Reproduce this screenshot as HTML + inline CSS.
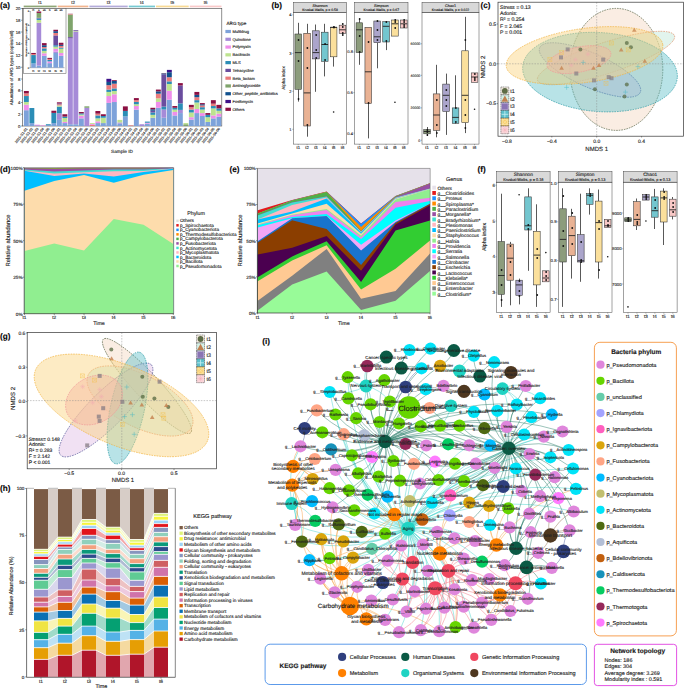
<!DOCTYPE html>
<html><head><meta charset="utf-8"><style>
html,body{margin:0;padding:0;background:#fff;}
svg{display:block;font-family:"Liberation Sans", sans-serif;text-rendering:geometricPrecision;}
text{stroke:#2a2a2a;stroke-width:0.13px;}
</style></head><body>
<svg width="685" height="688" viewBox="0 0 685 688">
<text x="0" y="7.6" font-size="8.2" font-weight="bold">(a)</text>
<rect x="23.7" y="5.6" width="32.9" height="1.7" fill="#8fa677"/>
<text x="40.15" y="4.3" font-size="4.4" text-anchor="middle" fill="#333">t1</text>
<rect x="57.7" y="5.6" width="30.6" height="1.7" fill="#f1b48e"/>
<text x="73" y="4.3" font-size="4.4" text-anchor="middle" fill="#333">t2</text>
<rect x="89.4" y="5.6" width="38.3" height="1.7" fill="#b3abd9"/>
<text x="108.55" y="4.3" font-size="4.4" text-anchor="middle" fill="#333">t3</text>
<rect x="128.8" y="5.6" width="26.2" height="1.7" fill="#76c9d1"/>
<text x="141.9" y="4.3" font-size="4.4" text-anchor="middle" fill="#333">t4</text>
<rect x="156" y="5.6" width="32.7" height="1.7" fill="#f8d994"/>
<text x="172.35" y="4.3" font-size="4.4" text-anchor="middle" fill="#333">t5</text>
<rect x="189.8" y="5.6" width="31.7" height="1.7" fill="#f9c9c9"/>
<text x="205.65" y="4.3" font-size="4.4" text-anchor="middle" fill="#333">t6</text>
<rect x="22.5" y="8.5" width="199.3" height="117.5" fill="none" stroke="#444" stroke-width="0.6"/>
<line x1="20.8" y1="126" x2="22.5" y2="126" stroke="#444" stroke-width="0.5"/>
<text x="20.3" y="127.5" font-size="4.2" text-anchor="end" fill="#333">0</text>
<line x1="20.8" y1="114.25" x2="22.5" y2="114.25" stroke="#444" stroke-width="0.5"/>
<text x="20.3" y="115.75" font-size="4.2" text-anchor="end" fill="#333">2</text>
<line x1="20.8" y1="102.5" x2="22.5" y2="102.5" stroke="#444" stroke-width="0.5"/>
<text x="20.3" y="104" font-size="4.2" text-anchor="end" fill="#333">4</text>
<line x1="20.8" y1="90.75" x2="22.5" y2="90.75" stroke="#444" stroke-width="0.5"/>
<text x="20.3" y="92.25" font-size="4.2" text-anchor="end" fill="#333">6</text>
<line x1="20.8" y1="79" x2="22.5" y2="79" stroke="#444" stroke-width="0.5"/>
<text x="20.3" y="80.5" font-size="4.2" text-anchor="end" fill="#333">8</text>
<line x1="20.8" y1="67.25" x2="22.5" y2="67.25" stroke="#444" stroke-width="0.5"/>
<text x="20.3" y="68.75" font-size="4.2" text-anchor="end" fill="#333">10</text>
<line x1="20.8" y1="55.5" x2="22.5" y2="55.5" stroke="#444" stroke-width="0.5"/>
<text x="20.3" y="57" font-size="4.2" text-anchor="end" fill="#333">12</text>
<line x1="20.8" y1="43.75" x2="22.5" y2="43.75" stroke="#444" stroke-width="0.5"/>
<text x="20.3" y="45.25" font-size="4.2" text-anchor="end" fill="#333">14</text>
<line x1="20.8" y1="32" x2="22.5" y2="32" stroke="#444" stroke-width="0.5"/>
<text x="20.3" y="33.5" font-size="4.2" text-anchor="end" fill="#333">16</text>
<line x1="20.8" y1="20.25" x2="22.5" y2="20.25" stroke="#444" stroke-width="0.5"/>
<text x="20.3" y="21.75" font-size="4.2" text-anchor="end" fill="#333">18</text>
<line x1="20.8" y1="8.5" x2="22.5" y2="8.5" stroke="#444" stroke-width="0.5"/>
<text x="20.3" y="10" font-size="4.2" text-anchor="end" fill="#333">20</text>
<text x="0" y="0" font-size="4.45" text-anchor="middle" fill="#222" transform="translate(13.3,67.8) rotate(-90)">Abundance of ARG types (copies/cell)</text>
<rect x="23.9" y="110.2" width="4.9" height="15.8" fill="#7da2da"/>
<rect x="23.9" y="104.67" width="4.9" height="5.52" fill="#ee8eea"/>
<rect x="23.9" y="101.97" width="4.9" height="2.7" fill="#bde38f"/>
<rect x="23.9" y="96.04" width="4.9" height="5.93" fill="#2b8db6"/>
<rect x="23.9" y="93.39" width="4.9" height="2.64" fill="#ea7b7b"/>
<rect x="23.9" y="90.98" width="4.9" height="2.41" fill="#8b1042"/>
<rect x="29.4" y="123.06" width="4.9" height="2.94" fill="#7da2da"/>
<rect x="29.4" y="108.02" width="4.9" height="15.04" fill="#2b8db6"/>
<rect x="34.9" y="125.3" width="4.9" height="0.7" fill="#a68bd8"/>
<rect x="34.9" y="124.71" width="4.9" height="0.59" fill="#ee8eea"/>
<rect x="40.4" y="125.41" width="4.9" height="0.59" fill="#ee8eea"/>
<rect x="45.9" y="125.12" width="4.9" height="0.88" fill="#7da2da"/>
<rect x="45.9" y="124.24" width="4.9" height="0.88" fill="#2b8db6"/>
<rect x="51.4" y="123.06" width="4.9" height="2.94" fill="#7da2da"/>
<rect x="51.4" y="112.9" width="4.9" height="10.16" fill="#2b8db6"/>
<rect x="51.4" y="110.72" width="4.9" height="2.17" fill="#8b1042"/>
<rect x="56.9" y="119.89" width="4.9" height="6.11" fill="#7da2da"/>
<rect x="56.9" y="113.31" width="4.9" height="6.58" fill="#a68bd8"/>
<rect x="56.9" y="106.61" width="4.9" height="6.7" fill="#2b8db6"/>
<rect x="56.9" y="105.44" width="4.9" height="1.17" fill="#bde38f"/>
<rect x="56.9" y="104.26" width="4.9" height="1.17" fill="#ea7b7b"/>
<rect x="56.9" y="103.38" width="4.9" height="0.88" fill="#6a4d9e"/>
<rect x="56.9" y="102.32" width="4.9" height="1.06" fill="#8b1042"/>
<rect x="62.4" y="123.06" width="4.9" height="2.94" fill="#7da2da"/>
<rect x="62.4" y="121.89" width="4.9" height="1.17" fill="#ee8eea"/>
<rect x="62.4" y="118.01" width="4.9" height="3.88" fill="#bde38f"/>
<rect x="62.4" y="116.6" width="4.9" height="1.41" fill="#2b8db6"/>
<rect x="62.4" y="114.25" width="4.9" height="2.35" fill="#8b1042"/>
<rect x="67.9" y="124.24" width="4.9" height="1.76" fill="#7da2da"/>
<rect x="67.9" y="38.46" width="4.9" height="85.78" fill="#a68bd8"/>
<rect x="67.9" y="37.11" width="4.9" height="1.35" fill="#6a4d9e"/>
<rect x="67.9" y="14.61" width="4.9" height="22.5" fill="#7fa46c"/>
<rect x="67.9" y="14.08" width="4.9" height="0.53" fill="#ea7b7b"/>
<rect x="67.9" y="13.79" width="4.9" height="0.29" fill="#8b1042"/>
<rect x="73.4" y="124.24" width="4.9" height="1.76" fill="#7da2da"/>
<rect x="73.4" y="31.71" width="4.9" height="92.53" fill="#a68bd8"/>
<rect x="73.4" y="31.12" width="4.9" height="0.59" fill="#bde38f"/>
<rect x="73.4" y="30.24" width="4.9" height="0.88" fill="#6a4d9e"/>
<rect x="78.9" y="118.36" width="4.9" height="7.64" fill="#7da2da"/>
<rect x="78.9" y="115.72" width="4.9" height="2.64" fill="#ee8eea"/>
<rect x="78.9" y="114.54" width="4.9" height="1.17" fill="#bde38f"/>
<rect x="78.9" y="113.37" width="4.9" height="1.17" fill="#2b8db6"/>
<rect x="78.9" y="112.02" width="4.9" height="1.35" fill="#8b1042"/>
<rect x="84.4" y="107.79" width="4.9" height="18.21" fill="#a68bd8"/>
<rect x="84.4" y="106.32" width="4.9" height="1.47" fill="#7fa46c"/>
<rect x="89.9" y="124.83" width="4.9" height="1.17" fill="#ea7b7b"/>
<rect x="89.9" y="123.94" width="4.9" height="0.88" fill="#ee8eea"/>
<rect x="89.9" y="123.06" width="4.9" height="0.88" fill="#bde38f"/>
<rect x="95.4" y="123.06" width="4.9" height="2.94" fill="#7da2da"/>
<rect x="95.4" y="121.3" width="4.9" height="1.76" fill="#ee8eea"/>
<rect x="95.4" y="118.36" width="4.9" height="2.94" fill="#bde38f"/>
<rect x="95.4" y="115.42" width="4.9" height="2.94" fill="#2b8db6"/>
<rect x="95.4" y="113.66" width="4.9" height="1.76" fill="#ea7b7b"/>
<rect x="95.4" y="111.02" width="4.9" height="2.64" fill="#8b1042"/>
<rect x="100.9" y="123.06" width="4.9" height="2.94" fill="#7da2da"/>
<rect x="100.9" y="117.78" width="4.9" height="5.29" fill="#bde38f"/>
<rect x="100.9" y="116.01" width="4.9" height="1.76" fill="#2b8db6"/>
<rect x="100.9" y="114.25" width="4.9" height="1.76" fill="#8b1042"/>
<rect x="106.4" y="102.91" width="4.9" height="23.09" fill="#7da2da"/>
<rect x="106.4" y="96.04" width="4.9" height="6.87" fill="#ee8eea"/>
<rect x="106.4" y="91.93" width="4.9" height="4.11" fill="#bde38f"/>
<rect x="106.4" y="89.57" width="4.9" height="2.35" fill="#2b8db6"/>
<rect x="106.4" y="85.17" width="4.9" height="4.41" fill="#ea7b7b"/>
<rect x="106.4" y="81.94" width="4.9" height="3.23" fill="#11508e"/>
<rect x="106.4" y="78.82" width="4.9" height="3.11" fill="#3d1189"/>
<rect x="111.9" y="102.03" width="4.9" height="23.97" fill="#7da2da"/>
<rect x="111.9" y="94.28" width="4.9" height="7.75" fill="#ee8eea"/>
<rect x="111.9" y="91.04" width="4.9" height="3.23" fill="#bde38f"/>
<rect x="111.9" y="88.4" width="4.9" height="2.64" fill="#2b8db6"/>
<rect x="111.9" y="83.7" width="4.9" height="4.7" fill="#ea7b7b"/>
<rect x="111.9" y="81" width="4.9" height="2.7" fill="#11508e"/>
<rect x="111.9" y="80.18" width="4.9" height="0.82" fill="#8b1042"/>
<rect x="117.4" y="123.65" width="4.9" height="2.35" fill="#7da2da"/>
<rect x="117.4" y="122.47" width="4.9" height="1.18" fill="#a68bd8"/>
<rect x="117.4" y="119.89" width="4.9" height="2.58" fill="#bde38f"/>
<rect x="122.9" y="116.42" width="4.9" height="9.58" fill="#7da2da"/>
<rect x="122.9" y="110.9" width="4.9" height="5.52" fill="#2b8db6"/>
<rect x="122.9" y="106.38" width="4.9" height="4.52" fill="#8b1042"/>
<rect x="128.4" y="125.41" width="4.9" height="0.59" fill="#ea7b7b"/>
<rect x="133.9" y="109.55" width="4.9" height="16.45" fill="#7da2da"/>
<rect x="133.9" y="106.03" width="4.9" height="3.52" fill="#ee8eea"/>
<rect x="133.9" y="104.26" width="4.9" height="1.76" fill="#bde38f"/>
<rect x="133.9" y="101.91" width="4.9" height="2.35" fill="#2b8db6"/>
<rect x="133.9" y="100.15" width="4.9" height="1.76" fill="#ea7b7b"/>
<rect x="133.9" y="98.09" width="4.9" height="2.06" fill="#8b1042"/>
<rect x="139.4" y="124.24" width="4.9" height="1.76" fill="#a68bd8"/>
<rect x="144.9" y="123.65" width="4.9" height="2.35" fill="#7da2da"/>
<rect x="144.9" y="122.77" width="4.9" height="0.88" fill="#ee8eea"/>
<rect x="144.9" y="121.59" width="4.9" height="1.17" fill="#2b8db6"/>
<rect x="150.4" y="117.78" width="4.9" height="8.22" fill="#7da2da"/>
<rect x="150.4" y="114.84" width="4.9" height="2.94" fill="#bde38f"/>
<rect x="150.4" y="112.49" width="4.9" height="2.35" fill="#2b8db6"/>
<rect x="150.4" y="110.72" width="4.9" height="1.76" fill="#6a4d9e"/>
<rect x="150.4" y="109.26" width="4.9" height="1.47" fill="#11508e"/>
<rect x="150.4" y="107.79" width="4.9" height="1.47" fill="#8b1042"/>
<rect x="155.9" y="107.79" width="4.9" height="18.21" fill="#7da2da"/>
<rect x="155.9" y="101.91" width="4.9" height="5.88" fill="#ee8eea"/>
<rect x="155.9" y="98.39" width="4.9" height="3.52" fill="#bde38f"/>
<rect x="155.9" y="93.69" width="4.9" height="4.7" fill="#ea7b7b"/>
<rect x="155.9" y="91.34" width="4.9" height="2.35" fill="#11508e"/>
<rect x="155.9" y="89.57" width="4.9" height="1.76" fill="#8b1042"/>
<rect x="161.4" y="117.78" width="4.9" height="8.22" fill="#7da2da"/>
<rect x="161.4" y="109.55" width="4.9" height="8.23" fill="#a68bd8"/>
<rect x="161.4" y="106.61" width="4.9" height="2.94" fill="#2b8db6"/>
<rect x="161.4" y="74.3" width="4.9" height="32.31" fill="#6a4d9e"/>
<rect x="161.4" y="73.42" width="4.9" height="0.88" fill="#11508e"/>
<rect x="161.4" y="73.12" width="4.9" height="0.29" fill="#8b1042"/>
<rect x="166.9" y="99.68" width="4.9" height="26.32" fill="#7da2da"/>
<rect x="166.9" y="90.75" width="4.9" height="8.93" fill="#ee8eea"/>
<rect x="166.9" y="83.99" width="4.9" height="6.76" fill="#bde38f"/>
<rect x="166.9" y="81.35" width="4.9" height="2.64" fill="#2b8db6"/>
<rect x="166.9" y="77.24" width="4.9" height="4.11" fill="#ea7b7b"/>
<rect x="166.9" y="72.24" width="4.9" height="4.99" fill="#11508e"/>
<rect x="166.9" y="69.89" width="4.9" height="2.35" fill="#3d1189"/>
<rect x="172.4" y="115.42" width="4.9" height="10.58" fill="#7da2da"/>
<rect x="172.4" y="111.9" width="4.9" height="3.52" fill="#ee8eea"/>
<rect x="172.4" y="109.55" width="4.9" height="2.35" fill="#bde38f"/>
<rect x="172.4" y="107.79" width="4.9" height="1.76" fill="#2b8db6"/>
<rect x="172.4" y="106.03" width="4.9" height="1.76" fill="#8b1042"/>
<rect x="177.9" y="113.08" width="4.9" height="12.92" fill="#7da2da"/>
<rect x="177.9" y="109.9" width="4.9" height="3.17" fill="#a68bd8"/>
<rect x="177.9" y="103.38" width="4.9" height="6.52" fill="#2b8db6"/>
<rect x="177.9" y="85.46" width="4.9" height="17.92" fill="#6a4d9e"/>
<rect x="177.9" y="83.11" width="4.9" height="2.35" fill="#8b1042"/>
<rect x="183.4" y="124.24" width="4.9" height="1.76" fill="#7fa46c"/>
<rect x="183.4" y="123.06" width="4.9" height="1.17" fill="#bde38f"/>
<rect x="188.9" y="119.54" width="4.9" height="6.46" fill="#7da2da"/>
<rect x="188.9" y="117.19" width="4.9" height="2.35" fill="#ee8eea"/>
<rect x="188.9" y="112.49" width="4.9" height="4.7" fill="#bde38f"/>
<rect x="188.9" y="109.55" width="4.9" height="2.94" fill="#2b8db6"/>
<rect x="188.9" y="107.2" width="4.9" height="2.35" fill="#ea7b7b"/>
<rect x="188.9" y="104.85" width="4.9" height="2.35" fill="#8b1042"/>
<rect x="194.4" y="113.08" width="4.9" height="12.92" fill="#7da2da"/>
<rect x="194.4" y="108.96" width="4.9" height="4.11" fill="#ee8eea"/>
<rect x="194.4" y="102.5" width="4.9" height="6.46" fill="#bde38f"/>
<rect x="194.4" y="100.15" width="4.9" height="2.35" fill="#2b8db6"/>
<rect x="194.4" y="97.21" width="4.9" height="2.94" fill="#ea7b7b"/>
<rect x="194.4" y="94.86" width="4.9" height="2.35" fill="#11508e"/>
<rect x="194.4" y="91.93" width="4.9" height="2.94" fill="#8b1042"/>
<rect x="199.9" y="116.01" width="4.9" height="9.99" fill="#7da2da"/>
<rect x="199.9" y="113.08" width="4.9" height="2.94" fill="#ee8eea"/>
<rect x="199.9" y="109.55" width="4.9" height="3.53" fill="#bde38f"/>
<rect x="199.9" y="107.2" width="4.9" height="2.35" fill="#2b8db6"/>
<rect x="199.9" y="105.44" width="4.9" height="1.76" fill="#ea7b7b"/>
<rect x="199.9" y="104.26" width="4.9" height="1.17" fill="#11508e"/>
<rect x="199.9" y="103.09" width="4.9" height="1.17" fill="#8b1042"/>
<rect x="205.4" y="121.89" width="4.9" height="4.11" fill="#7da2da"/>
<rect x="205.4" y="117.19" width="4.9" height="4.7" fill="#bde38f"/>
<rect x="205.4" y="114.84" width="4.9" height="2.35" fill="#2b8db6"/>
<rect x="205.4" y="113.08" width="4.9" height="1.76" fill="#8b1042"/>
<rect x="210.9" y="118.36" width="4.9" height="7.64" fill="#7da2da"/>
<rect x="210.9" y="115.42" width="4.9" height="2.94" fill="#ee8eea"/>
<rect x="210.9" y="108.38" width="4.9" height="7.05" fill="#bde38f"/>
<rect x="210.9" y="106.03" width="4.9" height="2.35" fill="#2b8db6"/>
<rect x="210.9" y="103.67" width="4.9" height="2.35" fill="#ea7b7b"/>
<rect x="210.9" y="100.15" width="4.9" height="3.52" fill="#8b1042"/>
<rect x="216.4" y="116.6" width="4.9" height="9.4" fill="#7da2da"/>
<rect x="216.4" y="113.66" width="4.9" height="2.94" fill="#ee8eea"/>
<rect x="216.4" y="110.72" width="4.9" height="2.94" fill="#bde38f"/>
<rect x="216.4" y="108.38" width="4.9" height="2.35" fill="#2b8db6"/>
<rect x="216.4" y="104.85" width="4.9" height="3.53" fill="#8b1042"/>
<text x="0" y="0" font-size="3.5" text-anchor="end" fill="#444" transform="translate(27.599999999999998,129) rotate(-53)">2021-S1-01</text>
<text x="0" y="0" font-size="3.5" text-anchor="end" fill="#444" transform="translate(33.1,129) rotate(-53)">2021-S1-02</text>
<text x="0" y="0" font-size="3.5" text-anchor="end" fill="#444" transform="translate(38.6,129) rotate(-53)">2021-S1-03</text>
<text x="0" y="0" font-size="3.5" text-anchor="end" fill="#444" transform="translate(44.1,129) rotate(-53)">2021-S1-04</text>
<text x="0" y="0" font-size="3.5" text-anchor="end" fill="#444" transform="translate(49.6,129) rotate(-53)">2021-S1-05</text>
<text x="0" y="0" font-size="3.5" text-anchor="end" fill="#444" transform="translate(55.1,129) rotate(-53)">2021-S1-06</text>
<text x="0" y="0" font-size="3.5" text-anchor="end" fill="#444" transform="translate(60.6,129) rotate(-53)">2021-S2-01</text>
<text x="0" y="0" font-size="3.5" text-anchor="end" fill="#444" transform="translate(66.10000000000001,129) rotate(-53)">2021-S2-02</text>
<text x="0" y="0" font-size="3.5" text-anchor="end" fill="#444" transform="translate(71.60000000000001,129) rotate(-53)">2021-S2-03</text>
<text x="0" y="0" font-size="3.5" text-anchor="end" fill="#444" transform="translate(77.10000000000001,129) rotate(-53)">2021-S2-04</text>
<text x="0" y="0" font-size="3.5" text-anchor="end" fill="#444" transform="translate(82.60000000000001,129) rotate(-53)">2021-S2-05</text>
<text x="0" y="0" font-size="3.5" text-anchor="end" fill="#444" transform="translate(88.10000000000001,129) rotate(-53)">2021-S2-06</text>
<text x="0" y="0" font-size="3.5" text-anchor="end" fill="#444" transform="translate(93.60000000000001,129) rotate(-53)">2021-S3-01</text>
<text x="0" y="0" font-size="3.5" text-anchor="end" fill="#444" transform="translate(99.10000000000001,129) rotate(-53)">2021-S3-02</text>
<text x="0" y="0" font-size="3.5" text-anchor="end" fill="#444" transform="translate(104.60000000000001,129) rotate(-53)">2021-S3-03</text>
<text x="0" y="0" font-size="3.5" text-anchor="end" fill="#444" transform="translate(110.10000000000001,129) rotate(-53)">2021-S3-04</text>
<text x="0" y="0" font-size="3.5" text-anchor="end" fill="#444" transform="translate(115.60000000000001,129) rotate(-53)">2021-S3-05</text>
<text x="0" y="0" font-size="3.5" text-anchor="end" fill="#444" transform="translate(121.10000000000001,129) rotate(-53)">2021-S3-06</text>
<text x="0" y="0" font-size="3.5" text-anchor="end" fill="#444" transform="translate(126.60000000000001,129) rotate(-53)">2021-S4-01</text>
<text x="0" y="0" font-size="3.5" text-anchor="end" fill="#444" transform="translate(132.1,129) rotate(-53)">2021-S4-02</text>
<text x="0" y="0" font-size="3.5" text-anchor="end" fill="#444" transform="translate(137.6,129) rotate(-53)">2021-S4-03</text>
<text x="0" y="0" font-size="3.5" text-anchor="end" fill="#444" transform="translate(143.1,129) rotate(-53)">2021-S4-04</text>
<text x="0" y="0" font-size="3.5" text-anchor="end" fill="#444" transform="translate(148.6,129) rotate(-53)">2021-S4-05</text>
<text x="0" y="0" font-size="3.5" text-anchor="end" fill="#444" transform="translate(154.1,129) rotate(-53)">2021-S4-06</text>
<text x="0" y="0" font-size="3.5" text-anchor="end" fill="#444" transform="translate(159.6,129) rotate(-53)">2021-S5-01</text>
<text x="0" y="0" font-size="3.5" text-anchor="end" fill="#444" transform="translate(165.1,129) rotate(-53)">2021-S5-02</text>
<text x="0" y="0" font-size="3.5" text-anchor="end" fill="#444" transform="translate(170.6,129) rotate(-53)">2021-S5-03</text>
<text x="0" y="0" font-size="3.5" text-anchor="end" fill="#444" transform="translate(176.1,129) rotate(-53)">2021-S5-04</text>
<text x="0" y="0" font-size="3.5" text-anchor="end" fill="#444" transform="translate(181.6,129) rotate(-53)">2021-S5-05</text>
<text x="0" y="0" font-size="3.5" text-anchor="end" fill="#444" transform="translate(187.1,129) rotate(-53)">2021-S5-06</text>
<text x="0" y="0" font-size="3.5" text-anchor="end" fill="#444" transform="translate(192.6,129) rotate(-53)">2021-S6-01</text>
<text x="0" y="0" font-size="3.5" text-anchor="end" fill="#444" transform="translate(198.1,129) rotate(-53)">2021-S6-02</text>
<text x="0" y="0" font-size="3.5" text-anchor="end" fill="#444" transform="translate(203.6,129) rotate(-53)">2021-S6-03</text>
<text x="0" y="0" font-size="3.5" text-anchor="end" fill="#444" transform="translate(209.1,129) rotate(-53)">2021-S6-04</text>
<text x="0" y="0" font-size="3.5" text-anchor="end" fill="#444" transform="translate(214.6,129) rotate(-53)">2021-S6-05</text>
<text x="0" y="0" font-size="3.5" text-anchor="end" fill="#444" transform="translate(220.1,129) rotate(-53)">2021-S6-06</text>
<text x="122" y="153" font-size="4.7" text-anchor="middle" fill="#222">Sample ID</text>
<rect x="23.5" y="8.7" width="42.5" height="64.6" fill="#fff" stroke="#555" stroke-width="0.5"/>
<line x1="30.3" y1="11" x2="30.3" y2="67.7" stroke="#444" stroke-width="0.4"/>
<line x1="30.3" y1="67.7" x2="64.5" y2="67.7" stroke="#444" stroke-width="0.4"/>
<line x1="29.3" y1="67.7" x2="30.3" y2="67.7" stroke="#444" stroke-width="0.3"/>
<text x="29" y="68.5" font-size="2.4" text-anchor="end" fill="#444">0</text>
<line x1="29.3" y1="53.6" x2="30.3" y2="53.6" stroke="#444" stroke-width="0.3"/>
<text x="29" y="54.4" font-size="2.4" text-anchor="end" fill="#444">2</text>
<line x1="29.3" y1="39.6" x2="30.3" y2="39.6" stroke="#444" stroke-width="0.3"/>
<text x="29" y="40.4" font-size="2.4" text-anchor="end" fill="#444">4</text>
<line x1="29.3" y1="25.5" x2="30.3" y2="25.5" stroke="#444" stroke-width="0.3"/>
<text x="29" y="26.3" font-size="2.4" text-anchor="end" fill="#444">6</text>
<line x1="29.3" y1="11.5" x2="30.3" y2="11.5" stroke="#444" stroke-width="0.3"/>
<text x="29" y="12.3" font-size="2.4" text-anchor="end" fill="#444">8</text>
<text x="0" y="0" font-size="2" text-anchor="middle" fill="#555" transform="translate(26.5,40) rotate(-90)">Abundance of ARG types (copies/cell)</text>
<rect x="31.2" y="63.48" width="4.6" height="4.22" fill="#7da2da"/>
<rect x="31.2" y="55.05" width="4.6" height="8.43" fill="#2b8db6"/>
<rect x="31.2" y="54" width="4.6" height="1.05" fill="#ea7b7b"/>
<rect x="31.2" y="52.95" width="4.6" height="1.05" fill="#8b1042"/>
<rect x="36.6" y="65.59" width="4.6" height="2.11" fill="#7da2da"/>
<rect x="36.6" y="22.74" width="4.6" height="42.85" fill="#a68bd8"/>
<rect x="36.6" y="19.93" width="4.6" height="2.81" fill="#bde38f"/>
<rect x="36.6" y="18.52" width="4.6" height="1.41" fill="#2b8db6"/>
<rect x="36.6" y="17.82" width="4.6" height="0.7" fill="#6a4d9e"/>
<rect x="36.6" y="12.91" width="4.6" height="4.92" fill="#7fa46c"/>
<rect x="36.6" y="11.5" width="4.6" height="1.41" fill="#8b1042"/>
<rect x="42" y="55.76" width="4.6" height="11.94" fill="#7da2da"/>
<rect x="42" y="53.3" width="4.6" height="2.46" fill="#ee8eea"/>
<rect x="42" y="50.84" width="4.6" height="2.46" fill="#bde38f"/>
<rect x="42" y="48.38" width="4.6" height="2.46" fill="#2b8db6"/>
<rect x="42" y="46.98" width="4.6" height="1.41" fill="#ea7b7b"/>
<rect x="42" y="45.22" width="4.6" height="1.76" fill="#11508e"/>
<rect x="42" y="43.11" width="4.6" height="2.11" fill="#8b1042"/>
<rect x="47.4" y="63.13" width="4.6" height="4.57" fill="#7da2da"/>
<rect x="47.4" y="61.38" width="4.6" height="1.76" fill="#ee8eea"/>
<rect x="47.4" y="59.97" width="4.6" height="1.41" fill="#2b8db6"/>
<rect x="47.4" y="58.92" width="4.6" height="1.05" fill="#ea7b7b"/>
<rect x="47.4" y="57.87" width="4.6" height="1.05" fill="#8b1042"/>
<rect x="53.4" y="52.95" width="4.6" height="14.75" fill="#7da2da"/>
<rect x="53.4" y="51.54" width="4.6" height="1.41" fill="#a68bd8"/>
<rect x="53.4" y="48.73" width="4.6" height="2.81" fill="#ee8eea"/>
<rect x="53.4" y="46.62" width="4.6" height="2.11" fill="#bde38f"/>
<rect x="53.4" y="45.22" width="4.6" height="1.41" fill="#2b8db6"/>
<rect x="53.4" y="35.39" width="4.6" height="9.83" fill="#6a4d9e"/>
<rect x="53.4" y="32.93" width="4.6" height="2.46" fill="#ea7b7b"/>
<rect x="53.4" y="31.17" width="4.6" height="1.76" fill="#11508e"/>
<rect x="53.4" y="29.77" width="4.6" height="1.41" fill="#8b1042"/>
<rect x="58.8" y="55.76" width="4.6" height="11.94" fill="#7da2da"/>
<rect x="58.8" y="52.95" width="4.6" height="2.81" fill="#ee8eea"/>
<rect x="58.8" y="48.73" width="4.6" height="4.22" fill="#bde38f"/>
<rect x="58.8" y="47.68" width="4.6" height="1.05" fill="#2b8db6"/>
<rect x="58.8" y="45.92" width="4.6" height="1.76" fill="#ea7b7b"/>
<rect x="58.8" y="44.87" width="4.6" height="1.05" fill="#11508e"/>
<rect x="58.8" y="42.76" width="4.6" height="2.11" fill="#8b1042"/>
<text x="33.5" y="11" font-size="2.8" text-anchor="middle" fill="#444">t1</text>
<text x="38.9" y="11" font-size="2.8" text-anchor="middle" fill="#444">a</text>
<text x="44.3" y="11" font-size="2.8" text-anchor="middle" fill="#444">ab</text>
<text x="49.7" y="11" font-size="2.8" text-anchor="middle" fill="#444">b</text>
<text x="55.7" y="11" font-size="2.8" text-anchor="middle" fill="#444">ab</text>
<text x="61.1" y="11" font-size="2.8" text-anchor="middle" fill="#444">ab</text>
<text x="33.5" y="71.6" font-size="2.9" text-anchor="middle" fill="#444">t1</text>
<text x="38.9" y="71.6" font-size="2.9" text-anchor="middle" fill="#444">t2</text>
<text x="44.3" y="71.6" font-size="2.9" text-anchor="middle" fill="#444">t3</text>
<text x="49.7" y="71.6" font-size="2.9" text-anchor="middle" fill="#444">t4</text>
<text x="55.7" y="71.6" font-size="2.9" text-anchor="middle" fill="#444">t5</text>
<text x="61.1" y="71.6" font-size="2.9" text-anchor="middle" fill="#444">t6</text>
<text x="226.5" y="25" font-size="4.6" fill="#222">ARG type</text>
<rect x="225.4" y="29.9" width="5.5" height="3.2" fill="#7da2da"/>
<text x="232.5" y="32.9" font-size="4" fill="#222">Multidrug</text>
<rect x="225.4" y="37.68" width="5.5" height="3.2" fill="#a68bd8"/>
<text x="232.5" y="40.68" font-size="4" fill="#222">Quinolone</text>
<rect x="225.4" y="45.46" width="5.5" height="3.2" fill="#ee8eea"/>
<text x="232.5" y="48.46" font-size="4" fill="#222">Polymyxin</text>
<rect x="225.4" y="53.24" width="5.5" height="3.2" fill="#bde38f"/>
<text x="232.5" y="56.24" font-size="4" fill="#222">Bacitracin</text>
<rect x="225.4" y="61.02" width="5.5" height="3.2" fill="#2b8db6"/>
<text x="232.5" y="64.02" font-size="4" fill="#222">MLS</text>
<rect x="225.4" y="68.8" width="5.5" height="3.2" fill="#6a4d9e"/>
<text x="232.5" y="71.8" font-size="4" fill="#222">Tetracycline</text>
<rect x="225.4" y="76.58" width="5.5" height="3.2" fill="#ea7b7b"/>
<text x="232.5" y="79.58" font-size="4" fill="#222">Beta_lactam</text>
<rect x="225.4" y="84.36" width="5.5" height="3.2" fill="#7fa46c"/>
<text x="232.5" y="87.36" font-size="4" fill="#222">Aminoglycoside</text>
<rect x="225.4" y="92.14" width="5.5" height="3.2" fill="#11508e"/>
<text x="232.5" y="95.14" font-size="4" fill="#222">Other_peptide_antibiotics</text>
<rect x="225.4" y="99.92" width="5.5" height="3.2" fill="#3d1189"/>
<text x="232.5" y="102.92" font-size="4" fill="#222">Fosfomycin</text>
<rect x="225.4" y="107.7" width="5.5" height="3.2" fill="#8b1042"/>
<text x="232.5" y="110.7" font-size="4" fill="#222">Others</text>
<text x="271.5" y="8" font-size="8.2" font-weight="bold">(b)</text>
<rect x="293.5" y="2.3" width="53.1" height="10.3" fill="#d9d9d9" stroke="#444" stroke-width="0.5"/>
<text x="320.05" y="6.7" font-size="3.75" text-anchor="middle" fill="#222">Shannon</text>
<text x="320.05" y="10.6" font-size="3.4" text-anchor="middle" fill="#222">Kruskal-Wallis, p = 0.58</text>
<rect x="293.5" y="12.6" width="53.1" height="131.5" fill="none" stroke="#444" stroke-width="0.5"/>
<line x1="298.23" y1="144.1" x2="298.23" y2="145.3" stroke="#444" stroke-width="0.4"/>
<text x="298.23" y="149.4" font-size="4.2" text-anchor="middle" fill="#333">t1</text>
<line x1="307.07" y1="144.1" x2="307.07" y2="145.3" stroke="#444" stroke-width="0.4"/>
<text x="307.07" y="149.4" font-size="4.2" text-anchor="middle" fill="#333">t2</text>
<line x1="315.93" y1="144.1" x2="315.93" y2="145.3" stroke="#444" stroke-width="0.4"/>
<text x="315.93" y="149.4" font-size="4.2" text-anchor="middle" fill="#333">t3</text>
<line x1="324.78" y1="144.1" x2="324.78" y2="145.3" stroke="#444" stroke-width="0.4"/>
<text x="324.78" y="149.4" font-size="4.2" text-anchor="middle" fill="#333">t4</text>
<line x1="333.63" y1="144.1" x2="333.63" y2="145.3" stroke="#444" stroke-width="0.4"/>
<text x="333.63" y="149.4" font-size="4.2" text-anchor="middle" fill="#333">t5</text>
<line x1="342.48" y1="144.1" x2="342.48" y2="145.3" stroke="#444" stroke-width="0.4"/>
<text x="342.48" y="149.4" font-size="4.2" text-anchor="middle" fill="#333">t6</text>
<rect x="354.6" y="2.3" width="53.4" height="10.3" fill="#d9d9d9" stroke="#444" stroke-width="0.5"/>
<text x="381.3" y="6.7" font-size="3.75" text-anchor="middle" fill="#222">Simpson</text>
<text x="381.3" y="10.6" font-size="3.4" text-anchor="middle" fill="#222">Kruskal-Wallis, p = 0.67</text>
<rect x="354.6" y="12.6" width="53.4" height="131.5" fill="none" stroke="#444" stroke-width="0.5"/>
<line x1="359.35" y1="144.1" x2="359.35" y2="145.3" stroke="#444" stroke-width="0.4"/>
<text x="359.35" y="149.4" font-size="4.2" text-anchor="middle" fill="#333">t1</text>
<line x1="368.25" y1="144.1" x2="368.25" y2="145.3" stroke="#444" stroke-width="0.4"/>
<text x="368.25" y="149.4" font-size="4.2" text-anchor="middle" fill="#333">t2</text>
<line x1="377.15" y1="144.1" x2="377.15" y2="145.3" stroke="#444" stroke-width="0.4"/>
<text x="377.15" y="149.4" font-size="4.2" text-anchor="middle" fill="#333">t3</text>
<line x1="386.05" y1="144.1" x2="386.05" y2="145.3" stroke="#444" stroke-width="0.4"/>
<text x="386.05" y="149.4" font-size="4.2" text-anchor="middle" fill="#333">t4</text>
<line x1="394.95" y1="144.1" x2="394.95" y2="145.3" stroke="#444" stroke-width="0.4"/>
<text x="394.95" y="149.4" font-size="4.2" text-anchor="middle" fill="#333">t5</text>
<line x1="403.85" y1="144.1" x2="403.85" y2="145.3" stroke="#444" stroke-width="0.4"/>
<text x="403.85" y="149.4" font-size="4.2" text-anchor="middle" fill="#333">t6</text>
<rect x="422" y="2.3" width="57" height="10.3" fill="#d9d9d9" stroke="#444" stroke-width="0.5"/>
<text x="450.5" y="6.7" font-size="3.75" text-anchor="middle" fill="#222">Chao1</text>
<text x="450.5" y="10.6" font-size="3.4" text-anchor="middle" fill="#222">Kruskal-Wallis, p = 0.022</text>
<rect x="422" y="12.6" width="57" height="131.5" fill="none" stroke="#444" stroke-width="0.5"/>
<line x1="427.05" y1="144.1" x2="427.05" y2="145.3" stroke="#444" stroke-width="0.4"/>
<text x="427.05" y="149.4" font-size="4.2" text-anchor="middle" fill="#333">t1</text>
<line x1="436.55" y1="144.1" x2="436.55" y2="145.3" stroke="#444" stroke-width="0.4"/>
<text x="436.55" y="149.4" font-size="4.2" text-anchor="middle" fill="#333">t2</text>
<line x1="446.05" y1="144.1" x2="446.05" y2="145.3" stroke="#444" stroke-width="0.4"/>
<text x="446.05" y="149.4" font-size="4.2" text-anchor="middle" fill="#333">t3</text>
<line x1="455.55" y1="144.1" x2="455.55" y2="145.3" stroke="#444" stroke-width="0.4"/>
<text x="455.55" y="149.4" font-size="4.2" text-anchor="middle" fill="#333">t4</text>
<line x1="465.05" y1="144.1" x2="465.05" y2="145.3" stroke="#444" stroke-width="0.4"/>
<text x="465.05" y="149.4" font-size="4.2" text-anchor="middle" fill="#333">t5</text>
<line x1="474.55" y1="144.1" x2="474.55" y2="145.3" stroke="#444" stroke-width="0.4"/>
<text x="474.55" y="149.4" font-size="4.2" text-anchor="middle" fill="#333">t6</text>
<line x1="292.3" y1="129.3" x2="293.5" y2="129.3" stroke="#444" stroke-width="0.4"/>
<text x="291.6" y="130.7" font-size="4" text-anchor="end" fill="#333">1</text>
<line x1="292.3" y1="91.3" x2="293.5" y2="91.3" stroke="#444" stroke-width="0.4"/>
<text x="291.6" y="92.7" font-size="4" text-anchor="end" fill="#333">2</text>
<line x1="292.3" y1="53.4" x2="293.5" y2="53.4" stroke="#444" stroke-width="0.4"/>
<text x="291.6" y="54.8" font-size="4" text-anchor="end" fill="#333">3</text>
<line x1="292.3" y1="14.9" x2="293.5" y2="14.9" stroke="#444" stroke-width="0.4"/>
<text x="291.6" y="16.3" font-size="4" text-anchor="end" fill="#333">4</text>
<line x1="353.4" y1="133.1" x2="354.6" y2="133.1" stroke="#444" stroke-width="0.4"/>
<text x="352.9" y="134.5" font-size="4" text-anchor="end" fill="#333">0.4</text>
<line x1="353.4" y1="92.6" x2="354.6" y2="92.6" stroke="#444" stroke-width="0.4"/>
<text x="352.9" y="94" font-size="4" text-anchor="end" fill="#333">0.6</text>
<line x1="353.4" y1="52" x2="354.6" y2="52" stroke="#444" stroke-width="0.4"/>
<text x="352.9" y="53.4" font-size="4" text-anchor="end" fill="#333">0.8</text>
<line x1="420.8" y1="140.2" x2="422" y2="140.2" stroke="#444" stroke-width="0.4"/>
<text x="420.3" y="141.5" font-size="3.5" text-anchor="end" fill="#333">0</text>
<line x1="420.8" y1="107.9" x2="422" y2="107.9" stroke="#444" stroke-width="0.4"/>
<text x="420.3" y="109.2" font-size="3.5" text-anchor="end" fill="#333">20000</text>
<line x1="420.8" y1="75.3" x2="422" y2="75.3" stroke="#444" stroke-width="0.4"/>
<text x="420.3" y="76.6" font-size="3.5" text-anchor="end" fill="#333">40000</text>
<line x1="420.8" y1="43.8" x2="422" y2="43.8" stroke="#444" stroke-width="0.4"/>
<text x="420.3" y="45.1" font-size="3.5" text-anchor="end" fill="#333">60000</text>
<text x="0" y="0" font-size="4.5" text-anchor="middle" fill="#222" transform="translate(285.4,78) rotate(-90)">Alpha index</text>
<line x1="298.5" y1="22.8" x2="298.5" y2="34" stroke="#222" stroke-width="0.75"/>
<line x1="298.5" y1="89.3" x2="298.5" y2="101.6" stroke="#222" stroke-width="0.75"/>
<rect x="294.93" y="34" width="6.6" height="55.3" fill="#8c9c7c" stroke="#333" stroke-width="0.55"/>
<line x1="294.93" y1="52.6" x2="301.53" y2="52.6" stroke="#222" stroke-width="0.9"/>
<circle cx="298.53" cy="40" r="0.9" fill="#111"/>
<circle cx="298.53" cy="61" r="0.9" fill="#111"/>
<circle cx="298.53" cy="99" r="0.9" fill="#111"/>
<line x1="307.5" y1="23.8" x2="307.5" y2="33.3" stroke="#222" stroke-width="0.75"/>
<line x1="307.5" y1="126" x2="307.5" y2="136.7" stroke="#222" stroke-width="0.75"/>
<rect x="303.77" y="33.3" width="6.6" height="92.7" fill="#e9b294" stroke="#333" stroke-width="0.55"/>
<line x1="303.77" y1="92.9" x2="310.38" y2="92.9" stroke="#222" stroke-width="0.9"/>
<circle cx="307.38" cy="48" r="0.9" fill="#111"/>
<circle cx="307.38" cy="68" r="0.9" fill="#111"/>
<circle cx="307.38" cy="125" r="0.9" fill="#111"/>
<line x1="315.5" y1="24.5" x2="315.5" y2="30.8" stroke="#222" stroke-width="0.75"/>
<line x1="315.5" y1="58.9" x2="315.5" y2="91.8" stroke="#222" stroke-width="0.75"/>
<rect x="312.62" y="30.8" width="6.6" height="28.1" fill="#aba5cb" stroke="#333" stroke-width="0.55"/>
<line x1="312.62" y1="52.6" x2="319.23" y2="52.6" stroke="#222" stroke-width="0.9"/>
<circle cx="316.23" cy="35" r="0.9" fill="#111"/>
<circle cx="316.23" cy="50" r="0.9" fill="#111"/>
<circle cx="316.23" cy="58" r="0.9" fill="#111"/>
<line x1="324.5" y1="23.8" x2="324.5" y2="32.2" stroke="#222" stroke-width="0.75"/>
<line x1="324.5" y1="61.3" x2="324.5" y2="76.4" stroke="#222" stroke-width="0.75"/>
<rect x="321.48" y="32.2" width="6.6" height="29.1" fill="#73c6cf" stroke="#333" stroke-width="0.55"/>
<line x1="321.48" y1="44.5" x2="328.08" y2="44.5" stroke="#222" stroke-width="0.9"/>
<circle cx="325.08" cy="44" r="0.9" fill="#111"/>
<circle cx="325.08" cy="60" r="0.9" fill="#111"/>
<line x1="333.5" y1="27.3" x2="333.5" y2="27.3" stroke="#222" stroke-width="0.75"/>
<line x1="333.5" y1="56.8" x2="333.5" y2="66.6" stroke="#222" stroke-width="0.75"/>
<rect x="330.33" y="27.3" width="6.6" height="29.5" fill="#fbe09c" stroke="#333" stroke-width="0.55"/>
<line x1="330.33" y1="27.3" x2="336.93" y2="27.3" stroke="#222" stroke-width="0.9"/>
<circle cx="333.93" cy="27" r="0.9" fill="#111"/>
<circle cx="333.93" cy="27.5" r="0.9" fill="#111"/>
<circle cx="333.63" cy="112" r="0.8" fill="#111"/>
<line x1="342.5" y1="25.2" x2="342.5" y2="25.2" stroke="#222" stroke-width="0.75"/>
<line x1="342.5" y1="33.3" x2="342.5" y2="33.3" stroke="#222" stroke-width="0.75"/>
<rect x="339.18" y="25.2" width="6.6" height="8.1" fill="#f8c8c6" stroke="#333" stroke-width="0.55"/>
<line x1="339.18" y1="29.8" x2="345.78" y2="29.8" stroke="#222" stroke-width="0.9"/>
<circle cx="342.78" cy="24" r="0.9" fill="#111"/>
<circle cx="342.78" cy="27" r="0.9" fill="#111"/>
<circle cx="342.78" cy="33" r="0.9" fill="#111"/>
<circle cx="342.78" cy="35" r="0.9" fill="#111"/>
<line x1="359.5" y1="19.3" x2="359.5" y2="22.8" stroke="#222" stroke-width="0.75"/>
<line x1="359.5" y1="52.6" x2="359.5" y2="64.8" stroke="#222" stroke-width="0.75"/>
<rect x="356.05" y="22.8" width="6.6" height="29.8" fill="#8c9c7c" stroke="#333" stroke-width="0.55"/>
<line x1="356.05" y1="29.8" x2="362.65" y2="29.8" stroke="#222" stroke-width="0.9"/>
<circle cx="359.65" cy="19" r="0.9" fill="#111"/>
<circle cx="359.65" cy="36" r="0.9" fill="#111"/>
<circle cx="359.65" cy="52" r="0.9" fill="#111"/>
<line x1="368.5" y1="27.3" x2="368.5" y2="27.3" stroke="#222" stroke-width="0.75"/>
<line x1="368.5" y1="103.4" x2="368.5" y2="138.4" stroke="#222" stroke-width="0.75"/>
<rect x="364.95" y="27.3" width="6.6" height="76.1" fill="#e9b294" stroke="#333" stroke-width="0.55"/>
<line x1="364.95" y1="71.8" x2="371.55" y2="71.8" stroke="#222" stroke-width="0.9"/>
<circle cx="368.55" cy="42" r="0.9" fill="#111"/>
<circle cx="368.55" cy="103" r="0.9" fill="#111"/>
<line x1="377.5" y1="21" x2="377.5" y2="21" stroke="#222" stroke-width="0.75"/>
<line x1="377.5" y1="42.7" x2="377.5" y2="68.3" stroke="#222" stroke-width="0.75"/>
<rect x="373.85" y="21" width="6.6" height="21.7" fill="#aba5cb" stroke="#333" stroke-width="0.55"/>
<line x1="373.85" y1="36.8" x2="380.45" y2="36.8" stroke="#222" stroke-width="0.9"/>
<circle cx="377.45" cy="21" r="0.9" fill="#111"/>
<circle cx="377.45" cy="30" r="0.9" fill="#111"/>
<circle cx="377.45" cy="40" r="0.9" fill="#111"/>
<line x1="386.5" y1="21.7" x2="386.5" y2="21.7" stroke="#222" stroke-width="0.75"/>
<line x1="386.5" y1="42" x2="386.5" y2="50.1" stroke="#222" stroke-width="0.75"/>
<rect x="382.75" y="21.7" width="6.6" height="20.3" fill="#73c6cf" stroke="#333" stroke-width="0.55"/>
<line x1="382.75" y1="26.3" x2="389.35" y2="26.3" stroke="#222" stroke-width="0.9"/>
<circle cx="386.35" cy="22" r="0.9" fill="#111"/>
<circle cx="386.35" cy="41" r="0.9" fill="#111"/>
<line x1="394.5" y1="20" x2="394.5" y2="20" stroke="#222" stroke-width="0.75"/>
<line x1="394.5" y1="36.1" x2="394.5" y2="36.1" stroke="#222" stroke-width="0.75"/>
<rect x="391.65" y="20" width="6.6" height="16.1" fill="#fbe09c" stroke="#333" stroke-width="0.55"/>
<line x1="391.65" y1="23.8" x2="398.25" y2="23.8" stroke="#222" stroke-width="0.9"/>
<circle cx="395.25" cy="20" r="0.9" fill="#111"/>
<circle cx="395.25" cy="22" r="0.9" fill="#111"/>
<circle cx="395.25" cy="28" r="0.9" fill="#111"/>
<circle cx="394.95" cy="102.3" r="0.8" fill="#111"/>
<line x1="403.5" y1="20" x2="403.5" y2="20" stroke="#222" stroke-width="0.75"/>
<line x1="403.5" y1="28" x2="403.5" y2="28" stroke="#222" stroke-width="0.75"/>
<rect x="400.55" y="20" width="6.6" height="8" fill="#f8c8c6" stroke="#333" stroke-width="0.55"/>
<line x1="400.55" y1="23.8" x2="407.15" y2="23.8" stroke="#222" stroke-width="0.9"/>
<circle cx="404.15" cy="20" r="0.9" fill="#111"/>
<circle cx="404.15" cy="22" r="0.9" fill="#111"/>
<circle cx="404.15" cy="25" r="0.9" fill="#111"/>
<circle cx="404.15" cy="27" r="0.9" fill="#111"/>
<line x1="427.5" y1="127" x2="427.5" y2="129.6" stroke="#222" stroke-width="0.75"/>
<line x1="427.5" y1="133.8" x2="427.5" y2="136" stroke="#222" stroke-width="0.75"/>
<rect x="423.75" y="129.6" width="6.6" height="4.2" fill="#8c9c7c" stroke="#333" stroke-width="0.55"/>
<line x1="423.75" y1="131.5" x2="430.35" y2="131.5" stroke="#222" stroke-width="0.9"/>
<circle cx="427.35" cy="130" r="0.9" fill="#111"/>
<circle cx="427.35" cy="132" r="0.9" fill="#111"/>
<circle cx="427.35" cy="135" r="0.9" fill="#111"/>
<line x1="436.5" y1="64.8" x2="436.5" y2="93.9" stroke="#222" stroke-width="0.75"/>
<line x1="436.5" y1="130.3" x2="436.5" y2="137.3" stroke="#222" stroke-width="0.75"/>
<rect x="433.25" y="93.9" width="6.6" height="36.4" fill="#e9b294" stroke="#333" stroke-width="0.55"/>
<line x1="433.25" y1="115" x2="439.85" y2="115" stroke="#222" stroke-width="0.9"/>
<circle cx="436.85" cy="100" r="0.9" fill="#111"/>
<circle cx="436.85" cy="125" r="0.9" fill="#111"/>
<circle cx="436.85" cy="133" r="0.9" fill="#111"/>
<line x1="446.5" y1="73.6" x2="446.5" y2="84.1" stroke="#222" stroke-width="0.75"/>
<line x1="446.5" y1="111.4" x2="446.5" y2="134.9" stroke="#222" stroke-width="0.75"/>
<rect x="442.75" y="84.1" width="6.6" height="27.3" fill="#aba5cb" stroke="#333" stroke-width="0.55"/>
<line x1="442.75" y1="95.3" x2="449.35" y2="95.3" stroke="#222" stroke-width="0.9"/>
<circle cx="446.35" cy="90" r="0.9" fill="#111"/>
<circle cx="446.35" cy="100" r="0.9" fill="#111"/>
<circle cx="446.35" cy="106" r="0.9" fill="#111"/>
<line x1="455.5" y1="75.3" x2="455.5" y2="107.9" stroke="#222" stroke-width="0.75"/>
<line x1="455.5" y1="123.3" x2="455.5" y2="124" stroke="#222" stroke-width="0.75"/>
<rect x="452.25" y="107.9" width="6.6" height="15.4" fill="#73c6cf" stroke="#333" stroke-width="0.55"/>
<line x1="452.25" y1="117.4" x2="458.85" y2="117.4" stroke="#222" stroke-width="0.9"/>
<circle cx="455.85" cy="108" r="0.9" fill="#111"/>
<circle cx="455.85" cy="122" r="0.9" fill="#111"/>
<line x1="465.5" y1="16.8" x2="465.5" y2="50.8" stroke="#222" stroke-width="0.75"/>
<line x1="465.5" y1="122.6" x2="465.5" y2="133.1" stroke="#222" stroke-width="0.75"/>
<rect x="461.75" y="50.8" width="6.6" height="71.8" fill="#fbe09c" stroke="#333" stroke-width="0.55"/>
<line x1="461.75" y1="95.3" x2="468.35" y2="95.3" stroke="#222" stroke-width="0.9"/>
<circle cx="465.35" cy="40" r="0.9" fill="#111"/>
<circle cx="465.35" cy="100" r="0.9" fill="#111"/>
<circle cx="465.35" cy="115" r="0.9" fill="#111"/>
<circle cx="465.35" cy="128" r="0.9" fill="#111"/>
<line x1="474.5" y1="72.9" x2="474.5" y2="72.9" stroke="#222" stroke-width="0.75"/>
<line x1="474.5" y1="82.3" x2="474.5" y2="82.3" stroke="#222" stroke-width="0.75"/>
<rect x="471.25" y="72.9" width="6.6" height="9.4" fill="#f8c8c6" stroke="#333" stroke-width="0.55"/>
<line x1="471.25" y1="77" x2="477.85" y2="77" stroke="#222" stroke-width="0.9"/>
<circle cx="474.85" cy="74" r="0.9" fill="#111"/>
<circle cx="474.85" cy="78" r="0.9" fill="#111"/>
<circle cx="474.85" cy="80" r="0.9" fill="#111"/>
<circle cx="474.55" cy="109.3" r="0.8" fill="#111"/>
<text x="480.5" y="8" font-size="8.2" font-weight="bold">(c)</text>
<clipPath id="clipc"><rect x="498" y="2.2" width="185.5" height="134.0"/></clipPath>
<g clip-path="url(#clipc)">
<ellipse cx="616.3" cy="69.4" rx="46.5" ry="61" transform="rotate(0 616.3 69.4)" fill="#f3d8c2" fill-opacity="0.45" stroke="#4f5a3a" stroke-width="0.7" stroke-dasharray="1.6,1"/>
<ellipse cx="606" cy="58" rx="72" ry="15.5" transform="rotate(-18 606 58)" fill="#bfe6d6" fill-opacity="0.45" stroke="#e09068" stroke-width="0.7" stroke-dasharray="1.6,1"/>
<ellipse cx="590" cy="70" rx="55" ry="17" transform="rotate(24 590 70)" fill="#e0bce4" fill-opacity="0.45" stroke="#56589a" stroke-width="0.7" stroke-dasharray="1.6,1"/>
<ellipse cx="600" cy="72.1" rx="77.5" ry="39.5" transform="rotate(4 600 72.1)" fill="#62c2ca" fill-opacity="0.45" stroke="#2a9aa5" stroke-width="0.7" stroke-dasharray="1.6,1"/>
<ellipse cx="584.5" cy="55.5" rx="79" ry="27" transform="rotate(-8 584.5 55.5)" fill="#fbd27c" fill-opacity="0.45" stroke="#f2b544" stroke-width="0.7" stroke-dasharray="1.6,1"/>
<ellipse cx="579" cy="59.6" rx="32.5" ry="12.5" transform="rotate(-12 579 59.6)" fill="#f6b8a0" fill-opacity="0.45" stroke="#f09a9a" stroke-width="0.7" stroke-dasharray="1.6,1"/>
<line x1="596.7" y1="2.2" x2="596.7" y2="136.2" stroke="#888" stroke-width="0.45" stroke-dasharray="1.6,1.2"/>
<line x1="498" y1="63.8" x2="683.5" y2="63.8" stroke="#888" stroke-width="0.45" stroke-dasharray="1.6,1.2"/>
<circle cx="626.8" cy="43" r="2" fill="#566840" fill-opacity="0.7"/>
<circle cx="630.9" cy="47.2" r="2" fill="#566840" fill-opacity="0.7"/>
<circle cx="626.8" cy="84.6" r="2" fill="#566840" fill-opacity="0.7"/>
<circle cx="624.5" cy="96.5" r="2" fill="#566840" fill-opacity="0.7"/>
<circle cx="594.9" cy="89.3" r="2" fill="#566840" fill-opacity="0.7"/>
<circle cx="580.4" cy="49.4" r="2" fill="#566840" fill-opacity="0.7"/>
<rect x="565.7" y="47.4" width="4" height="4" fill="#857c84" fill-opacity="0.7"/>
<rect x="559" y="55.4" width="4" height="4" fill="#857c84" fill-opacity="0.7"/>
<rect x="574.3" y="71.5" width="4" height="4" fill="#857c84" fill-opacity="0.7"/>
<rect x="601.2" y="57.6" width="4" height="4" fill="#857c84" fill-opacity="0.7"/>
<rect x="592" y="78.4" width="4" height="4" fill="#857c84" fill-opacity="0.7"/>
<rect x="606.7" y="75.1" width="4" height="4" fill="#857c84" fill-opacity="0.7"/>
<rect x="609.5" y="76.2" width="4" height="4" fill="#857c84" fill-opacity="0.7"/>
<polygon points="634.3,27.72 636.6,31.71 632,31.71" fill="#c27a45" fill-opacity="0.7"/>
<polygon points="621.2,47.62 623.5,51.61 618.9,51.61" fill="#c27a45" fill-opacity="0.7"/>
<polygon points="644.8,58.72 647.1,62.71 642.5,62.71" fill="#c27a45" fill-opacity="0.7"/>
<polygon points="561.6,65.72 563.9,69.71 559.3,69.71" fill="#c27a45" fill-opacity="0.7"/>
<polygon points="593.5,65.72 595.8,69.71 591.2,69.71" fill="#c27a45" fill-opacity="0.7"/>
<polygon points="599,62.92 601.3,66.91 596.7,66.91" fill="#c27a45" fill-opacity="0.7"/>
<g stroke="#39b6c4" stroke-width="0.55" opacity="0.7"><line x1="635.5" y1="66.6" x2="640.3" y2="66.6"/><line x1="637.9" y1="64.2" x2="637.9" y2="69"/></g>
<g stroke="#39b6c4" stroke-width="0.55" opacity="0.7"><line x1="564.2" y1="87.4" x2="569" y2="87.4"/><line x1="566.6" y1="85" x2="566.6" y2="89.8"/></g>
<g stroke="#39b6c4" stroke-width="0.55" opacity="0.7"><line x1="623" y1="92.1" x2="627.8" y2="92.1"/><line x1="625.4" y1="89.7" x2="625.4" y2="94.5"/></g>
<g stroke="#39b6c4" stroke-width="0.55" opacity="0.7"><line x1="580.8" y1="62.4" x2="585.6" y2="62.4"/><line x1="583.2" y1="60" x2="583.2" y2="64.8"/></g>
<g stroke="#f5c14a" stroke-width="0.5" fill="none" opacity="0.7"><rect x="609.5" y="41" width="4" height="4"/><line x1="609.5" y1="41" x2="613.5" y2="45"/><line x1="613.5" y1="41" x2="609.5" y2="45"/></g>
<g stroke="#f5c14a" stroke-width="0.5" fill="none" opacity="0.7"><rect x="559.6" y="50.7" width="4" height="4"/><line x1="559.6" y1="50.7" x2="563.6" y2="54.7"/><line x1="563.6" y1="50.7" x2="559.6" y2="54.7"/></g>
<g stroke="#f5c14a" stroke-width="0.5" fill="none" opacity="0.7"><rect x="547.9" y="57.6" width="4" height="4"/><line x1="547.9" y1="57.6" x2="551.9" y2="61.6"/><line x1="551.9" y1="57.6" x2="547.9" y2="61.6"/></g>
<g stroke="#f5c14a" stroke-width="0.5" fill="none" opacity="0.7"><rect x="626.2" y="47.9" width="4" height="4"/><line x1="626.2" y1="47.9" x2="630.2" y2="51.9"/><line x1="630.2" y1="47.9" x2="626.2" y2="51.9"/></g>
<g stroke="#f5c14a" stroke-width="0.5" fill="none" opacity="0.7"><rect x="604" y="81.2" width="4" height="4"/><line x1="604" y1="81.2" x2="608" y2="85.2"/><line x1="608" y1="81.2" x2="604" y2="85.2"/></g>
<g stroke="#f4a7b4" stroke-width="0.45" opacity="0.7"><line x1="585.5" y1="54.1" x2="590.3" y2="54.1"/><line x1="587.9" y1="51.7" x2="587.9" y2="56.5"/><line x1="586.22" y1="52.42" x2="589.58" y2="55.78"/><line x1="589.58" y1="52.42" x2="586.22" y2="55.78"/></g>
<g stroke="#f4a7b4" stroke-width="0.45" opacity="0.7"><line x1="573" y1="59.6" x2="577.8" y2="59.6"/><line x1="575.4" y1="57.2" x2="575.4" y2="62"/><line x1="573.72" y1="57.92" x2="577.08" y2="61.28"/><line x1="577.08" y1="57.92" x2="573.72" y2="61.28"/></g>
<g stroke="#f4a7b4" stroke-width="0.45" opacity="0.7"><line x1="568.9" y1="65.2" x2="573.7" y2="65.2"/><line x1="571.3" y1="62.8" x2="571.3" y2="67.6"/><line x1="569.62" y1="63.52" x2="572.98" y2="66.88"/><line x1="572.98" y1="63.52" x2="569.62" y2="66.88"/></g>
</g>
<rect x="498" y="2.2" width="185.5" height="134.0" fill="none" stroke="#333" stroke-width="0.7"/>
<line x1="506.94" y1="136.2" x2="506.94" y2="137.5" stroke="#333" stroke-width="0.5"/>
<text x="506.94" y="142.7" font-size="5" text-anchor="middle" fill="#222">−0.8</text>
<line x1="551.82" y1="136.2" x2="551.82" y2="137.5" stroke="#333" stroke-width="0.5"/>
<text x="551.82" y="142.7" font-size="5" text-anchor="middle" fill="#222">−0.4</text>
<line x1="596.7" y1="136.2" x2="596.7" y2="137.5" stroke="#333" stroke-width="0.5"/>
<text x="596.7" y="142.7" font-size="5" text-anchor="middle" fill="#222">0.0</text>
<line x1="641.58" y1="136.2" x2="641.58" y2="137.5" stroke="#333" stroke-width="0.5"/>
<text x="641.58" y="142.7" font-size="5" text-anchor="middle" fill="#222">0.4</text>
<line x1="496.7" y1="24" x2="498" y2="24" stroke="#333" stroke-width="0.5"/>
<text x="496.2" y="25.8" font-size="5.1" text-anchor="end" fill="#222">0.5</text>
<line x1="496.7" y1="63.8" x2="498" y2="63.8" stroke="#333" stroke-width="0.5"/>
<text x="496.2" y="65.6" font-size="5.1" text-anchor="end" fill="#222">0.0</text>
<line x1="496.7" y1="103.6" x2="498" y2="103.6" stroke="#333" stroke-width="0.5"/>
<text x="496.2" y="105.4" font-size="5.1" text-anchor="end" fill="#222">−0.5</text>
<text x="596.7" y="150.5" font-size="6" text-anchor="middle" fill="#222">NMDS 1</text>
<text x="0" y="0" font-size="6.1" text-anchor="middle" fill="#222" transform="translate(485.4,67.1) rotate(-90)">NMDS 2</text>
<text x="500" y="8.7" font-size="5.2" fill="#111">Stress = 0.13</text>
<text x="500" y="15.07" font-size="5.2" fill="#111">Adonis:</text>
<text x="500" y="21.44" font-size="5.2" fill="#111">R² = 0.254</text>
<text x="500" y="27.81" font-size="5.2" fill="#111">F = 2.045</text>
<text x="500" y="34.18" font-size="5.2" fill="#111">P = 0.001</text>
<rect x="500.9" y="87" width="7.9" height="7.8" fill="#f7efe6"/>
<circle cx="504.85" cy="90.9" r="2.9" fill="#5d6b45"/>
<rect x="500.9" y="87" width="7.9" height="7.8" fill="none" stroke="#3a3a3a" stroke-width="0.5" stroke-dasharray="1.3,0.5"/>
<text x="510.2" y="92.8" font-size="5.3" fill="#222">t1</text>
<rect x="500.9" y="94.8" width="7.9" height="7.8" fill="#d4efe6"/>
<polygon points="504.85,95.5 508.25,101.7 501.45,101.7" fill="#c08050"/>
<rect x="500.9" y="94.8" width="7.9" height="7.8" fill="none" stroke="#3a3a3a" stroke-width="0.5" stroke-dasharray="1.3,0.5"/>
<text x="510.2" y="100.6" font-size="5.3" fill="#222">t2</text>
<rect x="500.9" y="102.6" width="7.9" height="7.8" fill="#c4b6e0"/>
<rect x="501.95" y="103.6" width="5.8" height="5.8" fill="#8a74b4"/>
<rect x="500.9" y="102.6" width="7.9" height="7.8" fill="none" stroke="#3a3a3a" stroke-width="0.5" stroke-dasharray="1.3,0.5"/>
<text x="510.2" y="108.4" font-size="5.3" fill="#222">t3</text>
<rect x="500.9" y="110.4" width="7.9" height="7.8" fill="#5ec0cc"/>
<line x1="501.4" y1="114.3" x2="508.3" y2="114.3" stroke="#c8f0f2" stroke-width="0.8"/>
<line x1="504.85" y1="110.9" x2="504.85" y2="117.7" stroke="#c8f0f2" stroke-width="0.8"/>
<rect x="500.9" y="110.4" width="7.9" height="7.8" fill="none" stroke="#3a3a3a" stroke-width="0.5" stroke-dasharray="1.3,0.5"/>
<text x="510.2" y="116.2" font-size="5.3" fill="#222">t4</text>
<rect x="500.9" y="118.2" width="7.9" height="7.8" fill="#f9d070"/>
<g stroke="#fce8b0" stroke-width="0.6" fill="none"><rect x="502.25" y="119.5" width="5.2" height="5.2"/><line x1="502.25" y1="119.5" x2="507.45" y2="124.7"/><line x1="507.45" y1="119.5" x2="502.25" y2="124.7"/></g>
<rect x="500.9" y="118.2" width="7.9" height="7.8" fill="none" stroke="#3a3a3a" stroke-width="0.5" stroke-dasharray="1.3,0.5"/>
<text x="510.2" y="124" font-size="5.3" fill="#222">t5</text>
<rect x="500.9" y="126" width="7.9" height="7.8" fill="#fbd6da"/>
<g stroke="#f4a7b4" stroke-width="0.45" opacity="0.9"><line x1="502.21" y1="129.9" x2="507.49" y2="129.9"/><line x1="504.85" y1="127.26" x2="504.85" y2="132.54"/><line x1="503" y1="128.05" x2="506.7" y2="131.75"/><line x1="506.7" y1="128.05" x2="503" y2="131.75"/></g>
<rect x="500.9" y="126" width="7.9" height="7.8" fill="none" stroke="#3a3a3a" stroke-width="0.5" stroke-dasharray="1.3,0.5"/>
<text x="510.2" y="131.8" font-size="5.3" fill="#222">t6</text>
<text x="0" y="171.6" font-size="8.2" font-weight="bold">(d)</text>
<rect x="24.5" y="167.6" width="148.8" height="146.1" fill="#e0e0e0"/>
<polygon points="24.5,167.9 54.26,167.9 84.02,167.8 113.78,167.8 143.54,167.8 173.3,167.7 173.3,313.7 24.5,313.7" fill="#e41a1c"/>
<polygon points="24.5,168 54.26,168 84.02,167.9 113.78,167.9 143.54,167.9 173.3,167.8 173.3,313.7 24.5,313.7" fill="#1e90ff"/>
<polygon points="24.5,168.1 54.26,168.2 84.02,168 113.78,168 143.54,168 173.3,167.9 173.3,313.7 24.5,313.7" fill="#ff8c00"/>
<polygon points="24.5,168.2 54.26,168.5 84.02,168.2 113.78,168.2 143.54,168.2 173.3,168 173.3,313.7 24.5,313.7" fill="#4daf4a"/>
<polygon points="24.5,168.3 54.26,169 84.02,168.6 113.78,168.5 143.54,168.5 173.3,168.1 173.3,313.7 24.5,313.7" fill="#984ea3"/>
<polygon points="24.5,169.5 54.26,171.4 84.02,170.5 113.78,169.5 143.54,169.5 173.3,168.4 173.3,313.7 24.5,313.7" fill="#40e0d0"/>
<polygon points="24.5,170.6 54.26,173.5 84.02,172.2 113.78,171.2 143.54,171 173.3,168.6 173.3,313.7 24.5,313.7" fill="#ffb6c1"/>
<polygon points="24.5,170.7 54.26,175.9 84.02,173.5 113.78,176.6 143.54,171.9 173.3,168.8 173.3,313.7 24.5,313.7" fill="#00bfff"/>
<polygon points="24.5,190.8 54.26,181 84.02,175.1 113.78,182.8 143.54,174.7 173.3,170 173.3,313.7 24.5,313.7" fill="#fddcac"/>
<polygon points="24.5,251.1 54.26,243.4 84.02,250.4 113.78,218.9 143.54,224.8 173.3,244.1 173.3,313.7 24.5,313.7" fill="#90ee90"/>
<line x1="24.2" y1="167.6" x2="24.2" y2="314" stroke="#333" stroke-width="0.7"/>
<line x1="24.2" y1="313.7" x2="173.7" y2="313.7" stroke="#333" stroke-width="0.7"/>
<line x1="173.7" y1="167.6" x2="173.7" y2="313.7" stroke="#555" stroke-width="0.5"/>
<line x1="24.2" y1="167.6" x2="173.7" y2="167.6" stroke="#555" stroke-width="0.5"/>
<line x1="22.8" y1="313.7" x2="24.2" y2="313.7" stroke="#333" stroke-width="0.5"/>
<text x="22.6" y="315.6" font-size="4.7" text-anchor="end" fill="#222">0%</text>
<line x1="22.8" y1="277.18" x2="24.2" y2="277.18" stroke="#333" stroke-width="0.5"/>
<text x="22.6" y="279.07" font-size="4.7" text-anchor="end" fill="#222">25%</text>
<line x1="22.8" y1="240.65" x2="24.2" y2="240.65" stroke="#333" stroke-width="0.5"/>
<text x="22.6" y="242.55" font-size="4.7" text-anchor="end" fill="#222">50%</text>
<line x1="22.8" y1="204.12" x2="24.2" y2="204.12" stroke="#333" stroke-width="0.5"/>
<text x="22.6" y="206.03" font-size="4.7" text-anchor="end" fill="#222">75%</text>
<line x1="22.8" y1="167.6" x2="24.2" y2="167.6" stroke="#333" stroke-width="0.5"/>
<text x="22.6" y="169.5" font-size="4.7" text-anchor="end" fill="#222">100%</text>
<line x1="24.5" y1="313.7" x2="24.5" y2="315" stroke="#333" stroke-width="0.5"/>
<text x="24.5" y="319.1" font-size="4.7" text-anchor="middle" fill="#222">t1</text>
<line x1="54.26" y1="313.7" x2="54.26" y2="315" stroke="#333" stroke-width="0.5"/>
<text x="54.26" y="319.1" font-size="4.7" text-anchor="middle" fill="#222">t2</text>
<line x1="84.02" y1="313.7" x2="84.02" y2="315" stroke="#333" stroke-width="0.5"/>
<text x="84.02" y="319.1" font-size="4.7" text-anchor="middle" fill="#222">t3</text>
<line x1="113.78" y1="313.7" x2="113.78" y2="315" stroke="#333" stroke-width="0.5"/>
<text x="113.78" y="319.1" font-size="4.7" text-anchor="middle" fill="#222">t4</text>
<line x1="143.54" y1="313.7" x2="143.54" y2="315" stroke="#333" stroke-width="0.5"/>
<text x="143.54" y="319.1" font-size="4.7" text-anchor="middle" fill="#222">t5</text>
<line x1="173.3" y1="313.7" x2="173.3" y2="315" stroke="#333" stroke-width="0.5"/>
<text x="173.3" y="319.1" font-size="4.7" text-anchor="middle" fill="#222">t6</text>
<text x="99" y="324.8" font-size="5.3" text-anchor="middle" fill="#222">Time</text>
<text x="0" y="0" font-size="5.9" text-anchor="middle" fill="#222" transform="translate(9.8,240.5) rotate(-90)">Relative abundance</text>
<text x="187.2" y="215.4" font-size="5.3" fill="#222">Phylum</text>
<rect x="176.3" y="219.55" width="2.4" height="2.5" fill="#e0e0e0"/>
<text x="180" y="222.4" font-size="4.65" fill="#222">Others</text>
<rect x="176.3" y="224.07" width="2.4" height="2.5" fill="#e41a1c"/>
<text x="180" y="226.92" font-size="4.65" fill="#222">p_Spirochaetota</text>
<rect x="176.3" y="228.59" width="2.4" height="2.5" fill="#1e90ff"/>
<text x="180" y="231.44" font-size="4.65" fill="#222">p_Cyanobacteriota</text>
<rect x="176.3" y="233.11" width="2.4" height="2.5" fill="#ff8c00"/>
<text x="180" y="235.96" font-size="4.65" fill="#222">p_Thermodesulfobacteriota</text>
<rect x="176.3" y="237.63" width="2.4" height="2.5" fill="#4daf4a"/>
<text x="180" y="240.48" font-size="4.65" fill="#222">p_Campylobacterota</text>
<rect x="176.3" y="242.15" width="2.4" height="2.5" fill="#984ea3"/>
<text x="180" y="245" font-size="4.65" fill="#222">p_Fusobacteriota</text>
<rect x="176.3" y="246.67" width="2.4" height="2.5" fill="#40e0d0"/>
<text x="180" y="249.52" font-size="4.65" fill="#222">p_Actinomycetota</text>
<rect x="176.3" y="251.19" width="2.4" height="2.5" fill="#ffb6c1"/>
<text x="180" y="254.04" font-size="4.65" fill="#222">p_Mycoplasmatota</text>
<rect x="176.3" y="255.71" width="2.4" height="2.5" fill="#00bfff"/>
<text x="180" y="258.56" font-size="4.65" fill="#222">p_Bacteroidota</text>
<rect x="176.3" y="260.23" width="2.4" height="2.5" fill="#fddcac"/>
<text x="180" y="263.08" font-size="4.65" fill="#222">p_Bacillota</text>
<rect x="176.3" y="264.75" width="2.4" height="2.5" fill="#90ee90"/>
<text x="180" y="267.6" font-size="4.65" fill="#222">p_Pseudomonadota</text>
<text x="229.5" y="171.8" font-size="8.2" font-weight="bold">(e)</text>
<rect x="257.7" y="168.4" width="172.3" height="144.6" fill="#e6e1ea"/>
<polygon points="257.7,210.3 292.16,200 326.62,191.6 361.08,223.6 395.54,196 430,183.2 430,313 257.7,313" fill="#e31a1c"/>
<polygon points="257.7,213.4 292.16,200.3 326.62,191.7 361.08,223.8 395.54,196.1 430,183.3 430,313 257.7,313" fill="#1e90ff"/>
<polygon points="257.7,213.5 292.16,200.4 326.62,191.8 361.08,227.1 395.54,196.3 430,183.35 430,313 257.7,313" fill="#ff8c00"/>
<polygon points="257.7,213.6 292.16,200.5 326.62,191.9 361.08,231 395.54,196.5 430,183.4 430,313 257.7,313" fill="#4daf4a"/>
<polygon points="257.7,215.3 292.16,202.2 326.62,196.3 361.08,231.3 395.54,196.9 430,183.5 430,313 257.7,313" fill="#984ea3"/>
<polygon points="257.7,215.6 292.16,202.4 326.62,196.5 361.08,231.5 395.54,197.5 430,188.5 430,313 257.7,313" fill="#40e0d0"/>
<polygon points="257.7,219.4 292.16,205.1 326.62,197.5 361.08,232 395.54,198 430,188.8 430,313 257.7,313" fill="#ffb6c1"/>
<polygon points="257.7,219.5 292.16,211.6 326.62,198.5 361.08,232.5 395.54,198.5 430,188.9 430,313 257.7,313" fill="#00bfff"/>
<polygon points="257.7,223.5 292.16,213.6 326.62,203.8 361.08,233.8 395.54,198.8 430,189 430,313 257.7,313" fill="#fddcac"/>
<polygon points="257.7,224.5 292.16,214.7 326.62,209 361.08,235.5 395.54,199.4 430,189.3 430,313 257.7,313" fill="#90ee90"/>
<polygon points="257.7,225 292.16,215.2 326.62,210 361.08,237.2 395.54,201.9 430,197.7 430,313 257.7,313" fill="#ee82ee"/>
<polygon points="257.7,225.2 292.16,216.9 326.62,213.9 361.08,238.9 395.54,207.8 430,201.1 430,313 257.7,313" fill="#00ffff"/>
<polygon points="257.7,227.4 292.16,218.2 326.62,216 361.08,244.7 395.54,220.6 430,203.5 430,313 257.7,313" fill="#f2a6f7"/>
<polygon points="257.7,241.2 292.16,218.2 326.62,216 361.08,250.6 395.54,222 430,203.6 430,313 257.7,313" fill="#1874cd"/>
<polygon points="257.7,242.5 292.16,220.2 326.62,229.1 361.08,264.9 395.54,222.9 430,204 430,313 257.7,313" fill="#8b3e00"/>
<polygon points="257.7,254.4 292.16,247.8 326.62,236 361.08,270.8 395.54,224.6 430,205.3 430,313 257.7,313" fill="#4b0050"/>
<polygon points="257.7,277.2 292.16,256.4 326.62,241.2 361.08,282.1 395.54,230.5 430,220.4 430,313 257.7,313" fill="#32cd32"/>
<polygon points="257.7,281.3 292.16,260.5 326.62,245.3 361.08,289.6 395.54,268.8 430,240.5 430,313 257.7,313" fill="#ffc993"/>
<polygon points="257.7,300.7 292.16,275.8 326.62,248.9 361.08,298.8 395.54,291 430,253.6 430,313 257.7,313" fill="#808080"/>
<polygon points="257.7,310.4 292.16,284.6 326.62,271.6 361.08,309.9 395.54,300.7 430,271 430,313 257.7,313" fill="#98fb98"/>
<line x1="257.4" y1="168.4" x2="257.4" y2="313.3" stroke="#333" stroke-width="0.7"/>
<line x1="257.4" y1="313" x2="430.2" y2="313" stroke="#333" stroke-width="0.7"/>
<line x1="430.2" y1="168.4" x2="430.2" y2="313" stroke="#555" stroke-width="0.5"/>
<line x1="257.4" y1="168.4" x2="430.2" y2="168.4" stroke="#555" stroke-width="0.5"/>
<line x1="256" y1="313" x2="257.4" y2="313" stroke="#333" stroke-width="0.5"/>
<text x="255.7" y="314.9" font-size="4.7" text-anchor="end" fill="#222">0%</text>
<line x1="256" y1="276.85" x2="257.4" y2="276.85" stroke="#333" stroke-width="0.5"/>
<text x="255.7" y="278.75" font-size="4.7" text-anchor="end" fill="#222">25%</text>
<line x1="256" y1="240.7" x2="257.4" y2="240.7" stroke="#333" stroke-width="0.5"/>
<text x="255.7" y="242.6" font-size="4.7" text-anchor="end" fill="#222">50%</text>
<line x1="256" y1="204.55" x2="257.4" y2="204.55" stroke="#333" stroke-width="0.5"/>
<text x="255.7" y="206.45" font-size="4.7" text-anchor="end" fill="#222">75%</text>
<line x1="256" y1="168.4" x2="257.4" y2="168.4" stroke="#333" stroke-width="0.5"/>
<text x="255.7" y="170.3" font-size="4.7" text-anchor="end" fill="#222">100%</text>
<line x1="257.7" y1="313" x2="257.7" y2="314.3" stroke="#333" stroke-width="0.5"/>
<text x="257.7" y="319.1" font-size="4.7" text-anchor="middle" fill="#222">t1</text>
<line x1="292.16" y1="313" x2="292.16" y2="314.3" stroke="#333" stroke-width="0.5"/>
<text x="292.16" y="319.1" font-size="4.7" text-anchor="middle" fill="#222">t2</text>
<line x1="326.62" y1="313" x2="326.62" y2="314.3" stroke="#333" stroke-width="0.5"/>
<text x="326.62" y="319.1" font-size="4.7" text-anchor="middle" fill="#222">t3</text>
<line x1="361.08" y1="313" x2="361.08" y2="314.3" stroke="#333" stroke-width="0.5"/>
<text x="361.08" y="319.1" font-size="4.7" text-anchor="middle" fill="#222">t4</text>
<line x1="395.54" y1="313" x2="395.54" y2="314.3" stroke="#333" stroke-width="0.5"/>
<text x="395.54" y="319.1" font-size="4.7" text-anchor="middle" fill="#222">t5</text>
<line x1="430" y1="313" x2="430" y2="314.3" stroke="#333" stroke-width="0.5"/>
<text x="430" y="319.1" font-size="4.7" text-anchor="middle" fill="#222">t6</text>
<text x="343.8" y="324.8" font-size="5.3" text-anchor="middle" fill="#222">Time</text>
<text x="0" y="0" font-size="5.9" text-anchor="middle" fill="#222" transform="translate(242.3,240.5) rotate(-90)">Relative abundance</text>
<text x="446" y="180.6" font-size="5.5" fill="#222">Genus</text>
<rect x="432.3" y="185.7" width="3.6" height="3.9" fill="#e6e1ea"/>
<text x="437.6" y="189.7" font-size="4.75" fill="#222">Others</text>
<rect x="432.3" y="191" width="3.6" height="3.9" fill="#e31a1c"/>
<text x="437.6" y="195" font-size="4.75" fill="#222">g__Clostridioides</text>
<rect x="432.3" y="196.3" width="3.6" height="3.9" fill="#1e90ff"/>
<text x="437.6" y="200.3" font-size="4.75" fill="#222">g__Proteus</text>
<rect x="432.3" y="201.6" width="3.6" height="3.9" fill="#ff8c00"/>
<text x="437.6" y="205.6" font-size="4.75" fill="#222">g__Spiroplasma*</text>
<rect x="432.3" y="206.9" width="3.6" height="3.9" fill="#4daf4a"/>
<text x="437.6" y="210.9" font-size="4.75" fill="#222">g__Paraclostridium</text>
<rect x="432.3" y="212.2" width="3.6" height="3.9" fill="#984ea3"/>
<text x="437.6" y="216.2" font-size="4.75" fill="#222">g__Morganella*</text>
<rect x="432.3" y="217.5" width="3.6" height="3.9" fill="#40e0d0"/>
<text x="437.6" y="221.5" font-size="4.75" fill="#222">g__Bradyrhizobium*</text>
<rect x="432.3" y="222.8" width="3.6" height="3.9" fill="#ffb6c1"/>
<text x="437.6" y="226.8" font-size="4.75" fill="#222">g__Plesiomonas</text>
<rect x="432.3" y="228.1" width="3.6" height="3.9" fill="#00bfff"/>
<text x="437.6" y="232.1" font-size="4.75" fill="#222">g__Paeniclostridium</text>
<rect x="432.3" y="233.4" width="3.6" height="3.9" fill="#fddcac"/>
<text x="437.6" y="237.4" font-size="4.75" fill="#222">g__Staphylococcus</text>
<rect x="432.3" y="238.7" width="3.6" height="3.9" fill="#90ee90"/>
<text x="437.6" y="242.7" font-size="4.75" fill="#222">g__Hafnia</text>
<rect x="432.3" y="244" width="3.6" height="3.9" fill="#ee82ee"/>
<text x="437.6" y="248" font-size="4.75" fill="#222">g__Providencia</text>
<rect x="432.3" y="249.3" width="3.6" height="3.9" fill="#00ffff"/>
<text x="437.6" y="253.3" font-size="4.75" fill="#222">g__Serratia</text>
<rect x="432.3" y="254.6" width="3.6" height="3.9" fill="#f2a6f7"/>
<text x="437.6" y="258.6" font-size="4.75" fill="#222">g__Salmonella</text>
<rect x="432.3" y="259.9" width="3.6" height="3.9" fill="#1874cd"/>
<text x="437.6" y="263.9" font-size="4.75" fill="#222">g__Citrobacter</text>
<rect x="432.3" y="265.2" width="3.6" height="3.9" fill="#8b3e00"/>
<text x="437.6" y="269.2" font-size="4.75" fill="#222">g__Escherichia</text>
<rect x="432.3" y="270.5" width="3.6" height="3.9" fill="#4b0050"/>
<text x="437.6" y="274.5" font-size="4.75" fill="#222">g__Lactococcus</text>
<rect x="432.3" y="275.8" width="3.6" height="3.9" fill="#32cd32"/>
<text x="437.6" y="279.8" font-size="4.75" fill="#222">g__Klebsiella*</text>
<rect x="432.3" y="281.1" width="3.6" height="3.9" fill="#ffc993"/>
<text x="437.6" y="285.1" font-size="4.75" fill="#222">g__Enterococcus</text>
<rect x="432.3" y="286.4" width="3.6" height="3.9" fill="#808080"/>
<text x="437.6" y="290.4" font-size="4.75" fill="#222">g__Enterobacter</text>
<rect x="432.3" y="291.7" width="3.6" height="3.9" fill="#98fb98"/>
<text x="437.6" y="295.7" font-size="4.75" fill="#222">g__Clostridium*</text>
<text x="477.5" y="171.5" font-size="8.2" font-weight="bold">(f)</text>
<rect x="496.6" y="171.6" width="53.5" height="10.6" fill="#d9d9d9" stroke="#444" stroke-width="0.5"/>
<text x="523.35" y="176.2" font-size="4.8" text-anchor="middle" fill="#222">Shannon</text>
<text x="523.35" y="180.8" font-size="3.85" text-anchor="middle" fill="#222">Kruskal-Wallis, p = 0.18</text>
<rect x="496.6" y="182.2" width="53.5" height="130.3" fill="none" stroke="#444" stroke-width="0.5"/>
<line x1="501.26" y1="312.5" x2="501.26" y2="313.7" stroke="#444" stroke-width="0.4"/>
<text x="501.26" y="318.3" font-size="4.5" text-anchor="middle" fill="#333">t1</text>
<line x1="510.18" y1="312.5" x2="510.18" y2="313.7" stroke="#444" stroke-width="0.4"/>
<text x="510.18" y="318.3" font-size="4.5" text-anchor="middle" fill="#333">t2</text>
<line x1="519.09" y1="312.5" x2="519.09" y2="313.7" stroke="#444" stroke-width="0.4"/>
<text x="519.09" y="318.3" font-size="4.5" text-anchor="middle" fill="#333">t3</text>
<line x1="528.01" y1="312.5" x2="528.01" y2="313.7" stroke="#444" stroke-width="0.4"/>
<text x="528.01" y="318.3" font-size="4.5" text-anchor="middle" fill="#333">t4</text>
<line x1="536.93" y1="312.5" x2="536.93" y2="313.7" stroke="#444" stroke-width="0.4"/>
<text x="536.93" y="318.3" font-size="4.5" text-anchor="middle" fill="#333">t5</text>
<line x1="545.84" y1="312.5" x2="545.84" y2="313.7" stroke="#444" stroke-width="0.4"/>
<text x="545.84" y="318.3" font-size="4.5" text-anchor="middle" fill="#333">t6</text>
<rect x="558.3" y="171.6" width="53.7" height="10.6" fill="#d9d9d9" stroke="#444" stroke-width="0.5"/>
<text x="585.15" y="176.2" font-size="4.8" text-anchor="middle" fill="#222">Simpson</text>
<text x="585.15" y="180.8" font-size="3.85" text-anchor="middle" fill="#222">Kruskal-Wallis, p = 0.13</text>
<rect x="558.3" y="182.2" width="53.7" height="130.3" fill="none" stroke="#444" stroke-width="0.5"/>
<line x1="562.98" y1="312.5" x2="562.98" y2="313.7" stroke="#444" stroke-width="0.4"/>
<text x="562.98" y="318.3" font-size="4.5" text-anchor="middle" fill="#333">t1</text>
<line x1="571.92" y1="312.5" x2="571.92" y2="313.7" stroke="#444" stroke-width="0.4"/>
<text x="571.92" y="318.3" font-size="4.5" text-anchor="middle" fill="#333">t2</text>
<line x1="580.88" y1="312.5" x2="580.88" y2="313.7" stroke="#444" stroke-width="0.4"/>
<text x="580.88" y="318.3" font-size="4.5" text-anchor="middle" fill="#333">t3</text>
<line x1="589.83" y1="312.5" x2="589.83" y2="313.7" stroke="#444" stroke-width="0.4"/>
<text x="589.83" y="318.3" font-size="4.5" text-anchor="middle" fill="#333">t4</text>
<line x1="598.78" y1="312.5" x2="598.78" y2="313.7" stroke="#444" stroke-width="0.4"/>
<text x="598.78" y="318.3" font-size="4.5" text-anchor="middle" fill="#333">t5</text>
<line x1="607.73" y1="312.5" x2="607.73" y2="313.7" stroke="#444" stroke-width="0.4"/>
<text x="607.73" y="318.3" font-size="4.5" text-anchor="middle" fill="#333">t6</text>
<rect x="623.3" y="171.6" width="53.8" height="10.6" fill="#d9d9d9" stroke="#444" stroke-width="0.5"/>
<text x="650.2" y="176.2" font-size="4.8" text-anchor="middle" fill="#222">Chao1</text>
<text x="650.2" y="180.8" font-size="3.85" text-anchor="middle" fill="#222">Kruskal-Wallis, p = 0.13</text>
<rect x="623.3" y="182.2" width="53.8" height="130.3" fill="none" stroke="#444" stroke-width="0.5"/>
<line x1="627.98" y1="312.5" x2="627.98" y2="313.7" stroke="#444" stroke-width="0.4"/>
<text x="627.98" y="318.3" font-size="4.5" text-anchor="middle" fill="#333">t1</text>
<line x1="636.95" y1="312.5" x2="636.95" y2="313.7" stroke="#444" stroke-width="0.4"/>
<text x="636.95" y="318.3" font-size="4.5" text-anchor="middle" fill="#333">t2</text>
<line x1="645.92" y1="312.5" x2="645.92" y2="313.7" stroke="#444" stroke-width="0.4"/>
<text x="645.92" y="318.3" font-size="4.5" text-anchor="middle" fill="#333">t3</text>
<line x1="654.88" y1="312.5" x2="654.88" y2="313.7" stroke="#444" stroke-width="0.4"/>
<text x="654.88" y="318.3" font-size="4.5" text-anchor="middle" fill="#333">t4</text>
<line x1="663.85" y1="312.5" x2="663.85" y2="313.7" stroke="#444" stroke-width="0.4"/>
<text x="663.85" y="318.3" font-size="4.5" text-anchor="middle" fill="#333">t5</text>
<line x1="672.82" y1="312.5" x2="672.82" y2="313.7" stroke="#444" stroke-width="0.4"/>
<text x="672.82" y="318.3" font-size="4.5" text-anchor="middle" fill="#333">t6</text>
<line x1="495.4" y1="292.6" x2="496.6" y2="292.6" stroke="#444" stroke-width="0.4"/>
<text x="494.9" y="294.1" font-size="4.5" text-anchor="end" fill="#333">3</text>
<line x1="495.4" y1="256.8" x2="496.6" y2="256.8" stroke="#444" stroke-width="0.4"/>
<text x="494.9" y="258.3" font-size="4.5" text-anchor="end" fill="#333">4</text>
<line x1="495.4" y1="221" x2="496.6" y2="221" stroke="#444" stroke-width="0.4"/>
<text x="494.9" y="222.5" font-size="4.5" text-anchor="end" fill="#333">5</text>
<line x1="495.4" y1="185.2" x2="496.6" y2="185.2" stroke="#444" stroke-width="0.4"/>
<text x="494.9" y="186.7" font-size="4.5" text-anchor="end" fill="#333">6</text>
<line x1="557.1" y1="299.4" x2="558.3" y2="299.4" stroke="#444" stroke-width="0.4"/>
<text x="556.6" y="300.9" font-size="4.3" text-anchor="end" fill="#333">0.7</text>
<line x1="557.1" y1="260.6" x2="558.3" y2="260.6" stroke="#444" stroke-width="0.4"/>
<text x="556.6" y="262.1" font-size="4.3" text-anchor="end" fill="#333">0.8</text>
<line x1="557.1" y1="221.8" x2="558.3" y2="221.8" stroke="#444" stroke-width="0.4"/>
<text x="556.6" y="223.3" font-size="4.3" text-anchor="end" fill="#333">0.9</text>
<line x1="557.1" y1="183" x2="558.3" y2="183" stroke="#444" stroke-width="0.4"/>
<text x="556.6" y="184.5" font-size="4.3" text-anchor="end" fill="#333">1.0</text>
<line x1="622.1" y1="284" x2="623.3" y2="284" stroke="#444" stroke-width="0.4"/>
<text x="621.6" y="285.5" font-size="4.3" text-anchor="end" fill="#333">7000</text>
<line x1="622.1" y1="248.8" x2="623.3" y2="248.8" stroke="#444" stroke-width="0.4"/>
<text x="621.6" y="250.3" font-size="4.3" text-anchor="end" fill="#333">8000</text>
<line x1="622.1" y1="213" x2="623.3" y2="213" stroke="#444" stroke-width="0.4"/>
<text x="621.6" y="214.5" font-size="4.3" text-anchor="end" fill="#333">9000</text>
<text x="0" y="0" font-size="5.4" text-anchor="middle" fill="#222" transform="translate(486.2,237) rotate(-90)">Alpha index</text>
<line x1="501.5" y1="193.7" x2="501.5" y2="241.6" stroke="#222" stroke-width="0.75"/>
<line x1="501.5" y1="294.3" x2="501.5" y2="306.9" stroke="#222" stroke-width="0.75"/>
<rect x="498.01" y="241.6" width="6.5" height="52.7" fill="#8c9c7c" stroke="#333" stroke-width="0.55"/>
<line x1="498.01" y1="275.5" x2="504.51" y2="275.5" stroke="#222" stroke-width="0.9"/>
<circle cx="501.56" cy="270" r="0.9" fill="#111"/>
<circle cx="501.56" cy="285" r="0.9" fill="#111"/>
<circle cx="501.56" cy="300" r="0.9" fill="#111"/>
<line x1="510.5" y1="241.9" x2="510.5" y2="244.1" stroke="#222" stroke-width="0.75"/>
<line x1="510.5" y1="280.2" x2="510.5" y2="305.3" stroke="#222" stroke-width="0.75"/>
<rect x="506.93" y="244.1" width="6.5" height="36.1" fill="#e9b294" stroke="#333" stroke-width="0.55"/>
<line x1="506.93" y1="258.2" x2="513.42" y2="258.2" stroke="#222" stroke-width="0.9"/>
<circle cx="510.48" cy="246" r="0.9" fill="#111"/>
<circle cx="510.48" cy="262" r="0.9" fill="#111"/>
<circle cx="510.48" cy="275" r="0.9" fill="#111"/>
<line x1="519.5" y1="278.6" x2="519.5" y2="280.2" stroke="#222" stroke-width="0.75"/>
<line x1="519.5" y1="295.3" x2="519.5" y2="304.4" stroke="#222" stroke-width="0.75"/>
<rect x="515.84" y="280.2" width="6.5" height="15.1" fill="#aba5cb" stroke="#333" stroke-width="0.55"/>
<line x1="515.84" y1="284.9" x2="522.34" y2="284.9" stroke="#222" stroke-width="0.9"/>
<circle cx="519.39" cy="281" r="0.9" fill="#111"/>
<circle cx="519.39" cy="291" r="0.9" fill="#111"/>
<circle cx="519.39" cy="296" r="0.9" fill="#111"/>
<circle cx="519.09" cy="194.7" r="0.8" fill="#111"/>
<line x1="528.5" y1="188.3" x2="528.5" y2="196.9" stroke="#222" stroke-width="0.75"/>
<line x1="528.5" y1="230" x2="528.5" y2="270.8" stroke="#222" stroke-width="0.75"/>
<rect x="524.76" y="196.9" width="6.5" height="33.1" fill="#73c6cf" stroke="#333" stroke-width="0.55"/>
<line x1="524.76" y1="225.8" x2="531.26" y2="225.8" stroke="#222" stroke-width="0.9"/>
<circle cx="528.31" cy="225" r="0.9" fill="#111"/>
<circle cx="528.31" cy="229" r="0.9" fill="#111"/>
<line x1="536.5" y1="204.3" x2="536.5" y2="231.3" stroke="#222" stroke-width="0.75"/>
<line x1="536.5" y1="284.9" x2="536.5" y2="306.9" stroke="#222" stroke-width="0.75"/>
<rect x="533.68" y="231.3" width="6.5" height="53.6" fill="#fbe09c" stroke="#333" stroke-width="0.55"/>
<line x1="533.68" y1="255.1" x2="540.18" y2="255.1" stroke="#222" stroke-width="0.9"/>
<circle cx="537.23" cy="249" r="0.9" fill="#111"/>
<circle cx="537.23" cy="258" r="0.9" fill="#111"/>
<circle cx="537.23" cy="295" r="0.9" fill="#111"/>
<line x1="545.5" y1="270.8" x2="545.5" y2="270.8" stroke="#222" stroke-width="0.75"/>
<line x1="545.5" y1="281.8" x2="545.5" y2="281.8" stroke="#222" stroke-width="0.75"/>
<rect x="542.59" y="270.8" width="6.5" height="11" fill="#f8c8c6" stroke="#333" stroke-width="0.55"/>
<line x1="542.59" y1="278" x2="549.09" y2="278" stroke="#222" stroke-width="0.9"/>
<circle cx="546.14" cy="272" r="0.9" fill="#111"/>
<circle cx="546.14" cy="276" r="0.9" fill="#111"/>
<circle cx="546.14" cy="280" r="0.9" fill="#111"/>
<circle cx="545.84" cy="252.6" r="0.8" fill="#111"/>
<line x1="562.5" y1="188.3" x2="562.5" y2="208.8" stroke="#222" stroke-width="0.75"/>
<line x1="562.5" y1="262" x2="562.5" y2="306.9" stroke="#222" stroke-width="0.75"/>
<rect x="559.73" y="208.8" width="6.5" height="53.2" fill="#8c9c7c" stroke="#333" stroke-width="0.55"/>
<line x1="559.73" y1="239.4" x2="566.23" y2="239.4" stroke="#222" stroke-width="0.9"/>
<circle cx="563.27" cy="196" r="0.9" fill="#111"/>
<circle cx="563.27" cy="231" r="0.9" fill="#111"/>
<circle cx="563.27" cy="246" r="0.9" fill="#111"/>
<line x1="571.5" y1="208.8" x2="571.5" y2="216.2" stroke="#222" stroke-width="0.75"/>
<line x1="571.5" y1="255.7" x2="571.5" y2="278.6" stroke="#222" stroke-width="0.75"/>
<rect x="568.67" y="216.2" width="6.5" height="39.5" fill="#e9b294" stroke="#333" stroke-width="0.55"/>
<line x1="568.67" y1="235.6" x2="575.17" y2="235.6" stroke="#222" stroke-width="0.9"/>
<circle cx="572.22" cy="213" r="0.9" fill="#111"/>
<circle cx="572.22" cy="228" r="0.9" fill="#111"/>
<circle cx="572.22" cy="244" r="0.9" fill="#111"/>
<line x1="580.5" y1="193.7" x2="580.5" y2="234.7" stroke="#222" stroke-width="0.75"/>
<line x1="580.5" y1="262" x2="580.5" y2="281.8" stroke="#222" stroke-width="0.75"/>
<rect x="577.62" y="234.7" width="6.5" height="27.3" fill="#aba5cb" stroke="#333" stroke-width="0.55"/>
<line x1="577.62" y1="260.8" x2="584.12" y2="260.8" stroke="#222" stroke-width="0.9"/>
<circle cx="581.17" cy="242" r="0.9" fill="#111"/>
<circle cx="581.17" cy="260" r="0.9" fill="#111"/>
<circle cx="581.17" cy="262" r="0.9" fill="#111"/>
<line x1="589.5" y1="188.3" x2="589.5" y2="193.7" stroke="#222" stroke-width="0.75"/>
<line x1="589.5" y1="204.3" x2="589.5" y2="214.6" stroke="#222" stroke-width="0.75"/>
<rect x="586.58" y="193.7" width="6.5" height="10.6" fill="#73c6cf" stroke="#333" stroke-width="0.55"/>
<line x1="586.58" y1="195.3" x2="593.08" y2="195.3" stroke="#222" stroke-width="0.9"/>
<circle cx="590.12" cy="194" r="0.9" fill="#111"/>
<circle cx="590.12" cy="196" r="0.9" fill="#111"/>
<line x1="598.5" y1="189.5" x2="598.5" y2="201.1" stroke="#222" stroke-width="0.75"/>
<line x1="598.5" y1="262" x2="598.5" y2="278.6" stroke="#222" stroke-width="0.75"/>
<rect x="595.53" y="201.1" width="6.5" height="60.9" fill="#fbe09c" stroke="#333" stroke-width="0.55"/>
<line x1="595.53" y1="222.6" x2="602.03" y2="222.6" stroke="#222" stroke-width="0.9"/>
<circle cx="599.08" cy="221" r="0.9" fill="#111"/>
<circle cx="599.08" cy="229" r="0.9" fill="#111"/>
<circle cx="599.08" cy="270" r="0.9" fill="#111"/>
<line x1="607.5" y1="219.4" x2="607.5" y2="219.4" stroke="#222" stroke-width="0.75"/>
<line x1="607.5" y1="227.4" x2="607.5" y2="227.4" stroke="#222" stroke-width="0.75"/>
<rect x="604.48" y="219.4" width="6.5" height="8" fill="#f8c8c6" stroke="#333" stroke-width="0.55"/>
<line x1="604.48" y1="225.8" x2="610.98" y2="225.8" stroke="#222" stroke-width="0.9"/>
<circle cx="608.02" cy="221" r="0.9" fill="#111"/>
<circle cx="608.02" cy="225" r="0.9" fill="#111"/>
<circle cx="608.02" cy="226" r="0.9" fill="#111"/>
<circle cx="607.73" cy="256.7" r="0.8" fill="#111"/>
<line x1="627.5" y1="217.8" x2="627.5" y2="217.8" stroke="#222" stroke-width="0.75"/>
<line x1="627.5" y1="221.7" x2="627.5" y2="221.7" stroke="#222" stroke-width="0.75"/>
<rect x="624.73" y="217.8" width="6.5" height="3.9" fill="#8c9c7c" stroke="#333" stroke-width="0.55"/>
<line x1="624.73" y1="220" x2="631.23" y2="220" stroke="#222" stroke-width="0.9"/>
<circle cx="628.28" cy="218" r="0.9" fill="#111"/>
<circle cx="628.28" cy="219" r="0.9" fill="#111"/>
<circle cx="628.28" cy="221" r="0.9" fill="#111"/>
<circle cx="627.98" cy="306.9" r="0.8" fill="#111"/>
<line x1="636.5" y1="198.5" x2="636.5" y2="201.7" stroke="#222" stroke-width="0.75"/>
<line x1="636.5" y1="225.8" x2="636.5" y2="230" stroke="#222" stroke-width="0.75"/>
<rect x="633.7" y="201.7" width="6.5" height="24.1" fill="#e9b294" stroke="#333" stroke-width="0.55"/>
<line x1="633.7" y1="219.4" x2="640.2" y2="219.4" stroke="#222" stroke-width="0.9"/>
<circle cx="637.25" cy="215" r="0.9" fill="#111"/>
<circle cx="637.25" cy="222" r="0.9" fill="#111"/>
<circle cx="637.25" cy="224" r="0.9" fill="#111"/>
<line x1="645.5" y1="194.7" x2="645.5" y2="194.7" stroke="#222" stroke-width="0.75"/>
<line x1="645.5" y1="200.1" x2="645.5" y2="200.1" stroke="#222" stroke-width="0.75"/>
<rect x="642.67" y="194.7" width="6.5" height="5.4" fill="#aba5cb" stroke="#333" stroke-width="0.55"/>
<line x1="642.67" y1="197" x2="649.17" y2="197" stroke="#222" stroke-width="0.9"/>
<circle cx="646.22" cy="195" r="0.9" fill="#111"/>
<circle cx="646.22" cy="197" r="0.9" fill="#111"/>
<circle cx="646.22" cy="199" r="0.9" fill="#111"/>
<circle cx="645.92" cy="221" r="0.8" fill="#111"/>
<line x1="654.5" y1="188.9" x2="654.5" y2="196.9" stroke="#222" stroke-width="0.75"/>
<line x1="654.5" y1="217.2" x2="654.5" y2="229" stroke="#222" stroke-width="0.75"/>
<rect x="651.63" y="196.9" width="6.5" height="20.3" fill="#73c6cf" stroke="#333" stroke-width="0.55"/>
<line x1="651.63" y1="210.7" x2="658.13" y2="210.7" stroke="#222" stroke-width="0.9"/>
<circle cx="655.18" cy="200" r="0.9" fill="#111"/>
<circle cx="655.18" cy="208" r="0.9" fill="#111"/>
<line x1="663.5" y1="188.3" x2="663.5" y2="191.1" stroke="#222" stroke-width="0.75"/>
<line x1="663.5" y1="222" x2="663.5" y2="245" stroke="#222" stroke-width="0.75"/>
<rect x="660.6" y="191.1" width="6.5" height="30.9" fill="#fbe09c" stroke="#333" stroke-width="0.55"/>
<line x1="660.6" y1="197.9" x2="667.1" y2="197.9" stroke="#222" stroke-width="0.9"/>
<circle cx="664.15" cy="192" r="0.9" fill="#111"/>
<circle cx="664.15" cy="197" r="0.9" fill="#111"/>
<circle cx="664.15" cy="199" r="0.9" fill="#111"/>
<line x1="672.5" y1="197" x2="672.5" y2="199.2" stroke="#222" stroke-width="0.75"/>
<line x1="672.5" y1="216.2" x2="672.5" y2="219.4" stroke="#222" stroke-width="0.75"/>
<rect x="669.57" y="199.2" width="6.5" height="17" fill="#f8c8c6" stroke="#333" stroke-width="0.55"/>
<line x1="669.57" y1="209.8" x2="676.07" y2="209.8" stroke="#222" stroke-width="0.9"/>
<circle cx="673.12" cy="203" r="0.9" fill="#111"/>
<circle cx="673.12" cy="207" r="0.9" fill="#111"/>
<circle cx="673.12" cy="212" r="0.9" fill="#111"/>
<text x="0" y="338.6" font-size="8.2" font-weight="bold">(g)</text>
<clipPath id="clipg"><rect x="27.2" y="332.4" width="189.20000000000002" height="136.40000000000003"/></clipPath>
<g clip-path="url(#clipg)">
<ellipse cx="147" cy="386" rx="64" ry="12.5" transform="rotate(47 147 386)" fill="#f3d8c2" fill-opacity="0.45" stroke="#4f5a3a" stroke-width="0.7" stroke-dasharray="1.6,1"/>
<ellipse cx="140" cy="401" rx="58" ry="26" transform="rotate(27 140 401)" fill="#bfe6d6" fill-opacity="0.45" stroke="#e09068" stroke-width="0.7" stroke-dasharray="1.6,1"/>
<ellipse cx="106" cy="410" rx="64" ry="17.5" transform="rotate(-45 106 410)" fill="#e0bce4" fill-opacity="0.45" stroke="#56589a" stroke-width="0.7" stroke-dasharray="1.6,1"/>
<ellipse cx="127.5" cy="408" rx="57" ry="17" transform="rotate(-78 127.5 408)" fill="#62c2ca" fill-opacity="0.45" stroke="#2a9aa5" stroke-width="0.7" stroke-dasharray="1.6,1"/>
<ellipse cx="121.5" cy="405.4" rx="93" ry="40" transform="rotate(22.5 121.5 405.4)" fill="#fbd27c" fill-opacity="0.45" stroke="#f2b544" stroke-width="0.7" stroke-dasharray="1.6,1"/>
<ellipse cx="94" cy="400" rx="30" ry="23" transform="rotate(-30 94 400)" fill="#f6b8a0" fill-opacity="0.45" stroke="#f09a9a" stroke-width="0.7" stroke-dasharray="1.6,1"/>
<line x1="121.8" y1="332.4" x2="121.8" y2="468.8" stroke="#888" stroke-width="0.45" stroke-dasharray="1.6,1.2"/>
<line x1="27.2" y1="400.6" x2="216.4" y2="400.6" stroke="#888" stroke-width="0.45" stroke-dasharray="1.6,1.2"/>
<circle cx="111.3" cy="349.5" r="2" fill="#566840" fill-opacity="0.75"/>
<circle cx="142.3" cy="376.8" r="2" fill="#566840" fill-opacity="0.75"/>
<circle cx="142.8" cy="396.8" r="2" fill="#566840" fill-opacity="0.75"/>
<circle cx="154.4" cy="398.6" r="2" fill="#566840" fill-opacity="0.75"/>
<circle cx="168.3" cy="406.9" r="2" fill="#566840" fill-opacity="0.75"/>
<polygon points="111.6,356.32 113.9,360.31 109.3,360.31" fill="#c27a45" fill-opacity="0.75"/>
<polygon points="130.6,400.42 132.9,404.41 128.3,404.41" fill="#c27a45" fill-opacity="0.75"/>
<polygon points="141.8,402.52 144.1,406.51 139.5,406.51" fill="#c27a45" fill-opacity="0.75"/>
<polygon points="166.3,403.12 168.6,407.11 164,407.11" fill="#c27a45" fill-opacity="0.75"/>
<polygon points="152.2,414.92 154.5,418.91 149.9,418.91" fill="#c27a45" fill-opacity="0.75"/>
<rect x="97.7" y="373.9" width="4" height="4" fill="#857c84" fill-opacity="0.75"/>
<rect x="157.6" y="379.7" width="4" height="4" fill="#857c84" fill-opacity="0.75"/>
<rect x="101.2" y="406.2" width="4" height="4" fill="#857c84" fill-opacity="0.75"/>
<rect x="96.8" y="414.6" width="4" height="4" fill="#857c84" fill-opacity="0.75"/>
<rect x="97.6" y="418.9" width="4" height="4" fill="#857c84" fill-opacity="0.75"/>
<rect x="120.4" y="399.8" width="4" height="4" fill="#857c84" fill-opacity="0.75"/>
<rect x="85.2" y="443.4" width="4" height="4" fill="#857c84" fill-opacity="0.75"/>
<g stroke="#39b6c4" stroke-width="0.55" opacity="0.75"><line x1="124.4" y1="387" x2="129.2" y2="387"/><line x1="126.8" y1="384.6" x2="126.8" y2="389.4"/></g>
<g stroke="#39b6c4" stroke-width="0.55" opacity="0.75"><line x1="122.2" y1="416.6" x2="127" y2="416.6"/><line x1="124.6" y1="414.2" x2="124.6" y2="419"/></g>
<g stroke="#39b6c4" stroke-width="0.55" opacity="0.75"><line x1="130" y1="414.7" x2="134.8" y2="414.7"/><line x1="132.4" y1="412.3" x2="132.4" y2="417.1"/></g>
<g stroke="#39b6c4" stroke-width="0.55" opacity="0.75"><line x1="131.8" y1="434.3" x2="136.6" y2="434.3"/><line x1="134.2" y1="431.9" x2="134.2" y2="436.7"/></g>
<g stroke="#f5c14a" stroke-width="0.5" fill="none" opacity="0.75"><rect x="80.6" y="373.9" width="4" height="4"/><line x1="80.6" y1="373.9" x2="84.6" y2="377.9"/><line x1="84.6" y1="373.9" x2="80.6" y2="377.9"/></g>
<g stroke="#f5c14a" stroke-width="0.5" fill="none" opacity="0.75"><rect x="92.7" y="378.1" width="4" height="4"/><line x1="92.7" y1="378.1" x2="96.7" y2="382.1"/><line x1="96.7" y1="378.1" x2="92.7" y2="382.1"/></g>
<g stroke="#f5c14a" stroke-width="0.5" fill="none" opacity="0.75"><rect x="161" y="412.8" width="4" height="4"/><line x1="161" y1="412.8" x2="165" y2="416.8"/><line x1="165" y1="412.8" x2="161" y2="416.8"/></g>
<g stroke="#f5c14a" stroke-width="0.5" fill="none" opacity="0.75"><rect x="161.8" y="416.2" width="4" height="4"/><line x1="161.8" y1="416.2" x2="165.8" y2="420.2"/><line x1="165.8" y1="416.2" x2="161.8" y2="420.2"/></g>
<g stroke="#f5c14a" stroke-width="0.5" fill="none" opacity="0.75"><rect x="120.5" y="422.3" width="4" height="4"/><line x1="120.5" y1="422.3" x2="124.5" y2="426.3"/><line x1="124.5" y1="422.3" x2="120.5" y2="426.3"/></g>
<g stroke="#f4a7b4" stroke-width="0.45" opacity="0.75"><line x1="80.2" y1="386.7" x2="85" y2="386.7"/><line x1="82.6" y1="384.3" x2="82.6" y2="389.1"/><line x1="80.92" y1="385.02" x2="84.28" y2="388.38"/><line x1="84.28" y1="385.02" x2="80.92" y2="388.38"/></g>
<g stroke="#f4a7b4" stroke-width="0.45" opacity="0.75"><line x1="97.3" y1="389.5" x2="102.1" y2="389.5"/><line x1="99.7" y1="387.1" x2="99.7" y2="391.9"/><line x1="98.02" y1="387.82" x2="101.38" y2="391.18"/><line x1="101.38" y1="387.82" x2="98.02" y2="391.18"/></g>
<g stroke="#f4a7b4" stroke-width="0.45" opacity="0.75"><line x1="99" y1="396.6" x2="103.8" y2="396.6"/><line x1="101.4" y1="394.2" x2="101.4" y2="399"/><line x1="99.72" y1="394.92" x2="103.08" y2="398.28"/><line x1="103.08" y1="394.92" x2="99.72" y2="398.28"/></g>
<g stroke="#f4a7b4" stroke-width="0.45" opacity="0.75"><line x1="90.2" y1="402.7" x2="95" y2="402.7"/><line x1="92.6" y1="400.3" x2="92.6" y2="405.1"/><line x1="90.92" y1="401.02" x2="94.28" y2="404.38"/><line x1="94.28" y1="401.02" x2="90.92" y2="404.38"/></g>
<g stroke="#f4a7b4" stroke-width="0.45" opacity="0.75"><line x1="72.9" y1="420.9" x2="77.7" y2="420.9"/><line x1="75.3" y1="418.5" x2="75.3" y2="423.3"/><line x1="73.62" y1="419.22" x2="76.98" y2="422.58"/><line x1="76.98" y1="419.22" x2="73.62" y2="422.58"/></g>
</g>
<rect x="27.2" y="332.4" width="189.20000000000002" height="136.40000000000003" fill="none" stroke="#333" stroke-width="0.7"/>
<line x1="69.2" y1="468.8" x2="69.2" y2="470.1" stroke="#333" stroke-width="0.5"/>
<text x="69.2" y="474.7" font-size="5" text-anchor="middle" fill="#222">−0.5</text>
<line x1="121.6" y1="468.8" x2="121.6" y2="470.1" stroke="#333" stroke-width="0.5"/>
<text x="121.6" y="474.7" font-size="5" text-anchor="middle" fill="#222">0.0</text>
<line x1="174" y1="468.8" x2="174" y2="470.1" stroke="#333" stroke-width="0.5"/>
<text x="174" y="474.7" font-size="5" text-anchor="middle" fill="#222">0.5</text>
<line x1="25.9" y1="332.96" x2="27.2" y2="332.96" stroke="#333" stroke-width="0.5"/>
<text x="25.4" y="334.76" font-size="5" text-anchor="end" fill="#222">0.6</text>
<line x1="25.9" y1="367.28" x2="27.2" y2="367.28" stroke="#333" stroke-width="0.5"/>
<text x="25.4" y="369.08" font-size="5" text-anchor="end" fill="#222">0.3</text>
<line x1="25.9" y1="401.6" x2="27.2" y2="401.6" stroke="#333" stroke-width="0.5"/>
<text x="25.4" y="403.4" font-size="5" text-anchor="end" fill="#222">0.0</text>
<line x1="25.9" y1="435.92" x2="27.2" y2="435.92" stroke="#333" stroke-width="0.5"/>
<text x="25.4" y="437.72" font-size="5" text-anchor="end" fill="#222">−0.3</text>
<text x="122.9" y="481.9" font-size="5.95" text-anchor="middle" fill="#222">NMDS 1</text>
<text x="0" y="0" font-size="6.1" text-anchor="middle" fill="#222" transform="translate(14.9,398.4) rotate(-90)">NMDS 2</text>
<text x="28.8" y="440.6" font-size="5" fill="#111">Stress= 0.148</text>
<text x="28.8" y="446.43" font-size="5" fill="#111">Adonis:</text>
<text x="28.8" y="452.26" font-size="5" fill="#111">R² = 0.283</text>
<text x="28.8" y="458.09" font-size="5" fill="#111">F = 2.142</text>
<text x="28.8" y="463.92" font-size="5" fill="#111">P &lt; 0.001</text>
<rect x="196.6" y="335" width="7.9" height="7.95" fill="#f7efe6"/>
<circle cx="200.55" cy="338.98" r="2.9" fill="#5d6b45"/>
<rect x="196.6" y="335" width="7.9" height="7.95" fill="none" stroke="#3a3a3a" stroke-width="0.5" stroke-dasharray="1.3,0.5"/>
<text x="206.6" y="340.88" font-size="5.3" fill="#222">t1</text>
<rect x="196.6" y="342.95" width="7.9" height="7.95" fill="#d4efe6"/>
<polygon points="200.55,343.73 203.95,349.93 197.15,349.93" fill="#c08050"/>
<rect x="196.6" y="342.95" width="7.9" height="7.95" fill="none" stroke="#3a3a3a" stroke-width="0.5" stroke-dasharray="1.3,0.5"/>
<text x="206.6" y="348.82" font-size="5.3" fill="#222">t2</text>
<rect x="196.6" y="350.9" width="7.9" height="7.95" fill="#c4b6e0"/>
<rect x="197.65" y="351.98" width="5.8" height="5.8" fill="#8a74b4"/>
<rect x="196.6" y="350.9" width="7.9" height="7.95" fill="none" stroke="#3a3a3a" stroke-width="0.5" stroke-dasharray="1.3,0.5"/>
<text x="206.6" y="356.77" font-size="5.3" fill="#222">t3</text>
<rect x="196.6" y="358.85" width="7.9" height="7.95" fill="#5ec0cc"/>
<line x1="197.1" y1="362.83" x2="204" y2="362.83" stroke="#c8f0f2" stroke-width="0.8"/>
<line x1="200.55" y1="359.35" x2="200.55" y2="366.3" stroke="#c8f0f2" stroke-width="0.8"/>
<rect x="196.6" y="358.85" width="7.9" height="7.95" fill="none" stroke="#3a3a3a" stroke-width="0.5" stroke-dasharray="1.3,0.5"/>
<text x="206.6" y="364.73" font-size="5.3" fill="#222">t4</text>
<rect x="196.6" y="366.8" width="7.9" height="7.95" fill="#f9d070"/>
<g stroke="#fce8b0" stroke-width="0.6" fill="none"><rect x="197.95" y="368.18" width="5.2" height="5.2"/><line x1="197.95" y1="368.18" x2="203.15" y2="373.38"/><line x1="203.15" y1="368.18" x2="197.95" y2="373.38"/></g>
<rect x="196.6" y="366.8" width="7.9" height="7.95" fill="none" stroke="#3a3a3a" stroke-width="0.5" stroke-dasharray="1.3,0.5"/>
<text x="206.6" y="372.68" font-size="5.3" fill="#222">t5</text>
<rect x="196.6" y="374.75" width="7.9" height="7.95" fill="#fbd6da"/>
<g stroke="#f4a7b4" stroke-width="0.45" opacity="0.9"><line x1="197.91" y1="378.73" x2="203.19" y2="378.73"/><line x1="200.55" y1="376.09" x2="200.55" y2="381.37"/><line x1="198.7" y1="376.88" x2="202.4" y2="380.57"/><line x1="202.4" y1="376.88" x2="198.7" y2="380.57"/></g>
<rect x="196.6" y="374.75" width="7.9" height="7.95" fill="none" stroke="#3a3a3a" stroke-width="0.5" stroke-dasharray="1.3,0.5"/>
<text x="206.6" y="380.62" font-size="5.3" fill="#222">t6</text>
<text x="0" y="491.2" font-size="8.2" font-weight="bold">(h)</text>
<polygon points="47.8,489.1 58.2,489.1 58.2,537.1 47.8,549.3" fill="#7b5b45" fill-opacity="0.3"/>
<polygon points="47.8,549.3 58.2,537.1 58.2,539.5 47.8,551.6" fill="#dff47a" fill-opacity="0.38"/>
<polygon points="47.8,551.6 58.2,539.5 58.2,541.8 47.8,553.9" fill="#f7f53c" fill-opacity="0.38"/>
<polygon points="47.8,553.9 58.2,541.8 58.2,544.2 47.8,556.3" fill="#9dd3f7" fill-opacity="0.38"/>
<polygon points="47.8,556.3 58.2,544.2 58.2,547 47.8,559.5" fill="#e2141b" fill-opacity="0.38"/>
<polygon points="47.8,559.5 58.2,547 58.2,549.5 47.8,564.6" fill="#8795be" fill-opacity="0.38"/>
<polygon points="47.8,564.6 58.2,549.5 58.2,554.3 47.8,568.5" fill="#8fd0bc" fill-opacity="0.38"/>
<polygon points="47.8,568.5 58.2,554.3 58.2,559 47.8,573.3" fill="#f3a07e" fill-opacity="0.38"/>
<polygon points="47.8,573.3 58.2,559 58.2,565.3 47.8,577.3" fill="#0b9a7a" fill-opacity="0.38"/>
<polygon points="47.8,577.3 58.2,565.3 58.2,569.6 47.8,580.2" fill="#2f4b8d" fill-opacity="0.38"/>
<polygon points="47.8,580.2 58.2,569.6 58.2,577.5 47.8,589.3" fill="#5fcb94" fill-opacity="0.38"/>
<polygon points="47.8,589.3 58.2,577.5 58.2,589.9 47.8,597" fill="#9b97cf" fill-opacity="0.38"/>
<polygon points="47.8,597 58.2,589.9 58.2,596.4 47.8,602.2" fill="#cf5f62" fill-opacity="0.38"/>
<polygon points="47.8,602.2 58.2,596.4 58.2,602.3 47.8,606.9" fill="#d073aa" fill-opacity="0.38"/>
<polygon points="47.8,606.9 58.2,602.3 58.2,610.5 47.8,612.1" fill="#d95f05" fill-opacity="0.38"/>
<polygon points="47.8,612.1 58.2,610.5 58.2,618.4 47.8,620.9" fill="#0a70b3" fill-opacity="0.38"/>
<polygon points="47.8,620.9 58.2,618.4 58.2,626.1 47.8,632.4" fill="#f0e443" fill-opacity="0.38"/>
<polygon points="47.8,632.4 58.2,626.1 58.2,634.3 47.8,639.7" fill="#05a072" fill-opacity="0.38"/>
<polygon points="47.8,639.7 58.2,634.3 58.2,643.2 47.8,647.7" fill="#55b2e6" fill-opacity="0.38"/>
<polygon points="47.8,647.7 58.2,643.2 58.2,655.3 47.8,659.4" fill="#e69e04" fill-opacity="0.38"/>
<polygon points="47.8,659.4 58.2,655.3 58.2,676.9 47.8,676.9" fill="#b0152a" fill-opacity="0.38"/>
<line x1="48" y1="549.3" x2="58" y2="537.1" stroke="#fff" stroke-width="0.8"/>
<line x1="48" y1="551.6" x2="58" y2="539.5" stroke="#fff" stroke-width="0.8"/>
<line x1="48" y1="553.9" x2="58" y2="541.8" stroke="#fff" stroke-width="0.8"/>
<line x1="48" y1="556.3" x2="58" y2="544.2" stroke="#fff" stroke-width="0.8"/>
<line x1="48" y1="559.5" x2="58" y2="547" stroke="#fff" stroke-width="0.8"/>
<line x1="48" y1="564.6" x2="58" y2="549.5" stroke="#fff" stroke-width="0.8"/>
<line x1="48" y1="568.5" x2="58" y2="554.3" stroke="#fff" stroke-width="0.8"/>
<line x1="48" y1="573.3" x2="58" y2="559" stroke="#fff" stroke-width="0.8"/>
<line x1="48" y1="577.3" x2="58" y2="565.3" stroke="#fff" stroke-width="0.8"/>
<line x1="48" y1="580.2" x2="58" y2="569.6" stroke="#fff" stroke-width="0.8"/>
<line x1="48" y1="589.3" x2="58" y2="577.5" stroke="#fff" stroke-width="0.8"/>
<line x1="48" y1="597" x2="58" y2="589.9" stroke="#fff" stroke-width="0.8"/>
<line x1="48" y1="602.2" x2="58" y2="596.4" stroke="#fff" stroke-width="0.8"/>
<line x1="48" y1="606.9" x2="58" y2="602.3" stroke="#fff" stroke-width="0.8"/>
<line x1="48" y1="612.1" x2="58" y2="610.5" stroke="#fff" stroke-width="0.8"/>
<line x1="48" y1="620.9" x2="58" y2="618.4" stroke="#fff" stroke-width="0.8"/>
<line x1="48" y1="632.4" x2="58" y2="626.1" stroke="#fff" stroke-width="0.8"/>
<line x1="48" y1="639.7" x2="58" y2="634.3" stroke="#fff" stroke-width="0.8"/>
<line x1="48" y1="647.7" x2="58" y2="643.2" stroke="#fff" stroke-width="0.8"/>
<line x1="48" y1="659.4" x2="58" y2="655.3" stroke="#fff" stroke-width="0.8"/>
<line x1="48" y1="488.3" x2="58" y2="488.3" stroke="#999" stroke-width="0.7"/>
<polygon points="71.8,489.1 82.2,489.1 82.2,519.5 71.8,537.1" fill="#7b5b45" fill-opacity="0.3"/>
<polygon points="71.8,537.1 82.2,519.5 82.2,522.3 71.8,539.5" fill="#dff47a" fill-opacity="0.38"/>
<polygon points="71.8,539.5 82.2,522.3 82.2,525.3 71.8,541.8" fill="#f7f53c" fill-opacity="0.38"/>
<polygon points="71.8,541.8 82.2,525.3 82.2,528.5 71.8,544.2" fill="#9dd3f7" fill-opacity="0.38"/>
<polygon points="71.8,544.2 82.2,528.5 82.2,535.3 71.8,547" fill="#e2141b" fill-opacity="0.38"/>
<polygon points="71.8,547 82.2,535.3 82.2,539.3 71.8,549.5" fill="#8795be" fill-opacity="0.38"/>
<polygon points="71.8,549.5 82.2,539.3 82.2,544.8 71.8,554.3" fill="#8fd0bc" fill-opacity="0.38"/>
<polygon points="71.8,554.3 82.2,544.8 82.2,549.5 71.8,559" fill="#f3a07e" fill-opacity="0.38"/>
<polygon points="71.8,559 82.2,549.5 82.2,554.1 71.8,565.3" fill="#0b9a7a" fill-opacity="0.38"/>
<polygon points="71.8,565.3 82.2,554.1 82.2,558.4 71.8,569.6" fill="#2f4b8d" fill-opacity="0.38"/>
<polygon points="71.8,569.6 82.2,558.4 82.2,563 71.8,577.5" fill="#5fcb94" fill-opacity="0.38"/>
<polygon points="71.8,577.5 82.2,563 82.2,569.1 71.8,589.9" fill="#9b97cf" fill-opacity="0.38"/>
<polygon points="71.8,589.9 82.2,569.1 82.2,580 71.8,596.4" fill="#cf5f62" fill-opacity="0.38"/>
<polygon points="71.8,596.4 82.2,580 82.2,587.1 71.8,602.3" fill="#d073aa" fill-opacity="0.38"/>
<polygon points="71.8,602.3 82.2,587.1 82.2,594.1 71.8,610.5" fill="#d95f05" fill-opacity="0.38"/>
<polygon points="71.8,610.5 82.2,594.1 82.2,604 71.8,618.4" fill="#0a70b3" fill-opacity="0.38"/>
<polygon points="71.8,618.4 82.2,604 82.2,613.3 71.8,626.1" fill="#f0e443" fill-opacity="0.38"/>
<polygon points="71.8,626.1 82.2,613.3 82.2,626.1 71.8,634.3" fill="#05a072" fill-opacity="0.38"/>
<polygon points="71.8,634.3 82.2,626.1 82.2,635.7 71.8,643.2" fill="#55b2e6" fill-opacity="0.38"/>
<polygon points="71.8,643.2 82.2,635.7 82.2,650.2 71.8,655.3" fill="#e69e04" fill-opacity="0.38"/>
<polygon points="71.8,655.3 82.2,650.2 82.2,676.9 71.8,676.9" fill="#b0152a" fill-opacity="0.38"/>
<line x1="72" y1="537.1" x2="82" y2="519.5" stroke="#fff" stroke-width="0.8"/>
<line x1="72" y1="539.5" x2="82" y2="522.3" stroke="#fff" stroke-width="0.8"/>
<line x1="72" y1="541.8" x2="82" y2="525.3" stroke="#fff" stroke-width="0.8"/>
<line x1="72" y1="544.2" x2="82" y2="528.5" stroke="#fff" stroke-width="0.8"/>
<line x1="72" y1="547" x2="82" y2="535.3" stroke="#fff" stroke-width="0.8"/>
<line x1="72" y1="549.5" x2="82" y2="539.3" stroke="#fff" stroke-width="0.8"/>
<line x1="72" y1="554.3" x2="82" y2="544.8" stroke="#fff" stroke-width="0.8"/>
<line x1="72" y1="559" x2="82" y2="549.5" stroke="#fff" stroke-width="0.8"/>
<line x1="72" y1="565.3" x2="82" y2="554.1" stroke="#fff" stroke-width="0.8"/>
<line x1="72" y1="569.6" x2="82" y2="558.4" stroke="#fff" stroke-width="0.8"/>
<line x1="72" y1="577.5" x2="82" y2="563" stroke="#fff" stroke-width="0.8"/>
<line x1="72" y1="589.9" x2="82" y2="569.1" stroke="#fff" stroke-width="0.8"/>
<line x1="72" y1="596.4" x2="82" y2="580" stroke="#fff" stroke-width="0.8"/>
<line x1="72" y1="602.3" x2="82" y2="587.1" stroke="#fff" stroke-width="0.8"/>
<line x1="72" y1="610.5" x2="82" y2="594.1" stroke="#fff" stroke-width="0.8"/>
<line x1="72" y1="618.4" x2="82" y2="604" stroke="#fff" stroke-width="0.8"/>
<line x1="72" y1="626.1" x2="82" y2="613.3" stroke="#fff" stroke-width="0.8"/>
<line x1="72" y1="634.3" x2="82" y2="626.1" stroke="#fff" stroke-width="0.8"/>
<line x1="72" y1="643.2" x2="82" y2="635.7" stroke="#fff" stroke-width="0.8"/>
<line x1="72" y1="655.3" x2="82" y2="650.2" stroke="#fff" stroke-width="0.8"/>
<line x1="72" y1="488.3" x2="82" y2="488.3" stroke="#999" stroke-width="0.7"/>
<polygon points="95.8,489.1 106.2,489.1 106.2,527.2 95.8,519.5" fill="#7b5b45" fill-opacity="0.3"/>
<polygon points="95.8,519.5 106.2,527.2 106.2,530.1 95.8,522.3" fill="#dff47a" fill-opacity="0.38"/>
<polygon points="95.8,522.3 106.2,530.1 106.2,532.9 95.8,525.3" fill="#f7f53c" fill-opacity="0.38"/>
<polygon points="95.8,525.3 106.2,532.9 106.2,535.2 95.8,528.5" fill="#9dd3f7" fill-opacity="0.38"/>
<polygon points="95.8,528.5 106.2,535.2 106.2,539.7 95.8,535.3" fill="#e2141b" fill-opacity="0.38"/>
<polygon points="95.8,535.3 106.2,539.7 106.2,543.4 95.8,539.3" fill="#8795be" fill-opacity="0.38"/>
<polygon points="95.8,539.3 106.2,543.4 106.2,549.3 95.8,544.8" fill="#8fd0bc" fill-opacity="0.38"/>
<polygon points="95.8,544.8 106.2,549.3 106.2,553.6 95.8,549.5" fill="#f3a07e" fill-opacity="0.38"/>
<polygon points="95.8,549.5 106.2,553.6 106.2,558.2 95.8,554.1" fill="#0b9a7a" fill-opacity="0.38"/>
<polygon points="95.8,554.1 106.2,558.2 106.2,562.7 95.8,558.4" fill="#2f4b8d" fill-opacity="0.38"/>
<polygon points="95.8,558.4 106.2,562.7 106.2,568.1 95.8,563" fill="#5fcb94" fill-opacity="0.38"/>
<polygon points="95.8,563 106.2,568.1 106.2,578.3 95.8,569.1" fill="#9b97cf" fill-opacity="0.38"/>
<polygon points="95.8,569.1 106.2,578.3 106.2,585.8 95.8,580" fill="#cf5f62" fill-opacity="0.38"/>
<polygon points="95.8,580 106.2,585.8 106.2,591.7 95.8,587.1" fill="#d073aa" fill-opacity="0.38"/>
<polygon points="95.8,587.1 106.2,591.7 106.2,600.5 95.8,594.1" fill="#d95f05" fill-opacity="0.38"/>
<polygon points="95.8,594.1 106.2,600.5 106.2,608.2 95.8,604" fill="#0a70b3" fill-opacity="0.38"/>
<polygon points="95.8,604 106.2,608.2 106.2,618 95.8,613.3" fill="#f0e443" fill-opacity="0.38"/>
<polygon points="95.8,613.3 106.2,618 106.2,632 95.8,626.1" fill="#05a072" fill-opacity="0.38"/>
<polygon points="95.8,626.1 106.2,632 106.2,641.3 95.8,635.7" fill="#55b2e6" fill-opacity="0.38"/>
<polygon points="95.8,635.7 106.2,641.3 106.2,655.3 95.8,650.2" fill="#e69e04" fill-opacity="0.38"/>
<polygon points="95.8,650.2 106.2,655.3 106.2,676.9 95.8,676.9" fill="#b0152a" fill-opacity="0.38"/>
<line x1="96" y1="519.5" x2="106" y2="527.2" stroke="#fff" stroke-width="0.8"/>
<line x1="96" y1="522.3" x2="106" y2="530.1" stroke="#fff" stroke-width="0.8"/>
<line x1="96" y1="525.3" x2="106" y2="532.9" stroke="#fff" stroke-width="0.8"/>
<line x1="96" y1="528.5" x2="106" y2="535.2" stroke="#fff" stroke-width="0.8"/>
<line x1="96" y1="535.3" x2="106" y2="539.7" stroke="#fff" stroke-width="0.8"/>
<line x1="96" y1="539.3" x2="106" y2="543.4" stroke="#fff" stroke-width="0.8"/>
<line x1="96" y1="544.8" x2="106" y2="549.3" stroke="#fff" stroke-width="0.8"/>
<line x1="96" y1="549.5" x2="106" y2="553.6" stroke="#fff" stroke-width="0.8"/>
<line x1="96" y1="554.1" x2="106" y2="558.2" stroke="#fff" stroke-width="0.8"/>
<line x1="96" y1="558.4" x2="106" y2="562.7" stroke="#fff" stroke-width="0.8"/>
<line x1="96" y1="563" x2="106" y2="568.1" stroke="#fff" stroke-width="0.8"/>
<line x1="96" y1="569.1" x2="106" y2="578.3" stroke="#fff" stroke-width="0.8"/>
<line x1="96" y1="580" x2="106" y2="585.8" stroke="#fff" stroke-width="0.8"/>
<line x1="96" y1="587.1" x2="106" y2="591.7" stroke="#fff" stroke-width="0.8"/>
<line x1="96" y1="594.1" x2="106" y2="600.5" stroke="#fff" stroke-width="0.8"/>
<line x1="96" y1="604" x2="106" y2="608.2" stroke="#fff" stroke-width="0.8"/>
<line x1="96" y1="613.3" x2="106" y2="618" stroke="#fff" stroke-width="0.8"/>
<line x1="96" y1="626.1" x2="106" y2="632" stroke="#fff" stroke-width="0.8"/>
<line x1="96" y1="635.7" x2="106" y2="641.3" stroke="#fff" stroke-width="0.8"/>
<line x1="96" y1="650.2" x2="106" y2="655.3" stroke="#fff" stroke-width="0.8"/>
<line x1="96" y1="488.3" x2="106" y2="488.3" stroke="#999" stroke-width="0.7"/>
<polygon points="119.8,489.1 130.2,489.1 130.2,539.5 119.8,527.2" fill="#7b5b45" fill-opacity="0.3"/>
<polygon points="119.8,527.2 130.2,539.5 130.2,542.2 119.8,530.1" fill="#dff47a" fill-opacity="0.38"/>
<polygon points="119.8,530.1 130.2,542.2 130.2,545.2 119.8,532.9" fill="#f7f53c" fill-opacity="0.38"/>
<polygon points="119.8,532.9 130.2,545.2 130.2,547.8 119.8,535.2" fill="#9dd3f7" fill-opacity="0.38"/>
<polygon points="119.8,535.2 130.2,547.8 130.2,550.4 119.8,539.7" fill="#e2141b" fill-opacity="0.38"/>
<polygon points="119.8,539.7 130.2,550.4 130.2,554.3 119.8,543.4" fill="#8795be" fill-opacity="0.38"/>
<polygon points="119.8,543.4 130.2,554.3 130.2,558.7 119.8,549.3" fill="#8fd0bc" fill-opacity="0.38"/>
<polygon points="119.8,549.3 130.2,558.7 130.2,563.6 119.8,553.6" fill="#f3a07e" fill-opacity="0.38"/>
<polygon points="119.8,553.6 130.2,563.6 130.2,567.7 119.8,558.2" fill="#0b9a7a" fill-opacity="0.38"/>
<polygon points="119.8,558.2 130.2,567.7 130.2,571.9 119.8,562.7" fill="#2f4b8d" fill-opacity="0.38"/>
<polygon points="119.8,562.7 130.2,571.9 130.2,580.3 119.8,568.1" fill="#5fcb94" fill-opacity="0.38"/>
<polygon points="119.8,568.1 130.2,580.3 130.2,586.4 119.8,578.3" fill="#9b97cf" fill-opacity="0.38"/>
<polygon points="119.8,578.3 130.2,586.4 130.2,591.6 119.8,585.8" fill="#cf5f62" fill-opacity="0.38"/>
<polygon points="119.8,585.8 130.2,591.6 130.2,598.1 119.8,591.7" fill="#d073aa" fill-opacity="0.38"/>
<polygon points="119.8,591.7 130.2,598.1 130.2,605.1 119.8,600.5" fill="#d95f05" fill-opacity="0.38"/>
<polygon points="119.8,600.5 130.2,605.1 130.2,614.5 119.8,608.2" fill="#0a70b3" fill-opacity="0.38"/>
<polygon points="119.8,608.2 130.2,614.5 130.2,622.6 119.8,618" fill="#f0e443" fill-opacity="0.38"/>
<polygon points="119.8,618 130.2,622.6 130.2,630.4 119.8,632" fill="#05a072" fill-opacity="0.38"/>
<polygon points="119.8,632 130.2,630.4 130.2,639.6 119.8,641.3" fill="#55b2e6" fill-opacity="0.38"/>
<polygon points="119.8,641.3 130.2,639.6 130.2,654.2 119.8,655.3" fill="#e69e04" fill-opacity="0.38"/>
<polygon points="119.8,655.3 130.2,654.2 130.2,676.9 119.8,676.9" fill="#b0152a" fill-opacity="0.38"/>
<line x1="120" y1="527.2" x2="130" y2="539.5" stroke="#fff" stroke-width="0.8"/>
<line x1="120" y1="530.1" x2="130" y2="542.2" stroke="#fff" stroke-width="0.8"/>
<line x1="120" y1="532.9" x2="130" y2="545.2" stroke="#fff" stroke-width="0.8"/>
<line x1="120" y1="535.2" x2="130" y2="547.8" stroke="#fff" stroke-width="0.8"/>
<line x1="120" y1="539.7" x2="130" y2="550.4" stroke="#fff" stroke-width="0.8"/>
<line x1="120" y1="543.4" x2="130" y2="554.3" stroke="#fff" stroke-width="0.8"/>
<line x1="120" y1="549.3" x2="130" y2="558.7" stroke="#fff" stroke-width="0.8"/>
<line x1="120" y1="553.6" x2="130" y2="563.6" stroke="#fff" stroke-width="0.8"/>
<line x1="120" y1="558.2" x2="130" y2="567.7" stroke="#fff" stroke-width="0.8"/>
<line x1="120" y1="562.7" x2="130" y2="571.9" stroke="#fff" stroke-width="0.8"/>
<line x1="120" y1="568.1" x2="130" y2="580.3" stroke="#fff" stroke-width="0.8"/>
<line x1="120" y1="578.3" x2="130" y2="586.4" stroke="#fff" stroke-width="0.8"/>
<line x1="120" y1="585.8" x2="130" y2="591.6" stroke="#fff" stroke-width="0.8"/>
<line x1="120" y1="591.7" x2="130" y2="598.1" stroke="#fff" stroke-width="0.8"/>
<line x1="120" y1="600.5" x2="130" y2="605.1" stroke="#fff" stroke-width="0.8"/>
<line x1="120" y1="608.2" x2="130" y2="614.5" stroke="#fff" stroke-width="0.8"/>
<line x1="120" y1="618" x2="130" y2="622.6" stroke="#fff" stroke-width="0.8"/>
<line x1="120" y1="632" x2="130" y2="630.4" stroke="#fff" stroke-width="0.8"/>
<line x1="120" y1="641.3" x2="130" y2="639.6" stroke="#fff" stroke-width="0.8"/>
<line x1="120" y1="655.3" x2="130" y2="654.2" stroke="#fff" stroke-width="0.8"/>
<line x1="120" y1="488.3" x2="130" y2="488.3" stroke="#999" stroke-width="0.7"/>
<polygon points="143.8,489.1 154.2,489.1 154.2,513.4 143.8,539.5" fill="#7b5b45" fill-opacity="0.3"/>
<polygon points="143.8,539.5 154.2,513.4 154.2,516.3 143.8,542.2" fill="#dff47a" fill-opacity="0.38"/>
<polygon points="143.8,542.2 154.2,516.3 154.2,520.1 143.8,545.2" fill="#f7f53c" fill-opacity="0.38"/>
<polygon points="143.8,545.2 154.2,520.1 154.2,523.6 143.8,547.8" fill="#9dd3f7" fill-opacity="0.38"/>
<polygon points="143.8,547.8 154.2,523.6 154.2,527.4 143.8,550.4" fill="#e2141b" fill-opacity="0.38"/>
<polygon points="143.8,550.4 154.2,527.4 154.2,532.4 143.8,554.3" fill="#8795be" fill-opacity="0.38"/>
<polygon points="143.8,554.3 154.2,532.4 154.2,536.7 143.8,558.7" fill="#8fd0bc" fill-opacity="0.38"/>
<polygon points="143.8,558.7 154.2,536.7 154.2,542 143.8,563.6" fill="#f3a07e" fill-opacity="0.38"/>
<polygon points="143.8,563.6 154.2,542 154.2,546.6 143.8,567.7" fill="#0b9a7a" fill-opacity="0.38"/>
<polygon points="143.8,567.7 154.2,546.6 154.2,551.6 143.8,571.9" fill="#2f4b8d" fill-opacity="0.38"/>
<polygon points="143.8,571.9 154.2,551.6 154.2,554.3 143.8,580.3" fill="#5fcb94" fill-opacity="0.38"/>
<polygon points="143.8,580.3 154.2,554.3 154.2,560.4 143.8,586.4" fill="#9b97cf" fill-opacity="0.38"/>
<polygon points="143.8,586.4 154.2,560.4 154.2,567.3 143.8,591.6" fill="#cf5f62" fill-opacity="0.38"/>
<polygon points="143.8,591.6 154.2,567.3 154.2,576.4 143.8,598.1" fill="#d073aa" fill-opacity="0.38"/>
<polygon points="143.8,598.1 154.2,576.4 154.2,585.3 143.8,605.1" fill="#d95f05" fill-opacity="0.38"/>
<polygon points="143.8,605.1 154.2,585.3 154.2,597 143.8,614.5" fill="#0a70b3" fill-opacity="0.38"/>
<polygon points="143.8,614.5 154.2,597 154.2,607.5 143.8,622.6" fill="#f0e443" fill-opacity="0.38"/>
<polygon points="143.8,622.6 154.2,607.5 154.2,619.1 143.8,630.4" fill="#05a072" fill-opacity="0.38"/>
<polygon points="143.8,630.4 154.2,619.1 154.2,631 143.8,639.6" fill="#55b2e6" fill-opacity="0.38"/>
<polygon points="143.8,639.6 154.2,631 154.2,647.2 143.8,654.2" fill="#e69e04" fill-opacity="0.38"/>
<polygon points="143.8,654.2 154.2,647.2 154.2,676.9 143.8,676.9" fill="#b0152a" fill-opacity="0.38"/>
<line x1="144" y1="539.5" x2="154" y2="513.4" stroke="#fff" stroke-width="0.8"/>
<line x1="144" y1="542.2" x2="154" y2="516.3" stroke="#fff" stroke-width="0.8"/>
<line x1="144" y1="545.2" x2="154" y2="520.1" stroke="#fff" stroke-width="0.8"/>
<line x1="144" y1="547.8" x2="154" y2="523.6" stroke="#fff" stroke-width="0.8"/>
<line x1="144" y1="550.4" x2="154" y2="527.4" stroke="#fff" stroke-width="0.8"/>
<line x1="144" y1="554.3" x2="154" y2="532.4" stroke="#fff" stroke-width="0.8"/>
<line x1="144" y1="558.7" x2="154" y2="536.7" stroke="#fff" stroke-width="0.8"/>
<line x1="144" y1="563.6" x2="154" y2="542" stroke="#fff" stroke-width="0.8"/>
<line x1="144" y1="567.7" x2="154" y2="546.6" stroke="#fff" stroke-width="0.8"/>
<line x1="144" y1="571.9" x2="154" y2="551.6" stroke="#fff" stroke-width="0.8"/>
<line x1="144" y1="580.3" x2="154" y2="554.3" stroke="#fff" stroke-width="0.8"/>
<line x1="144" y1="586.4" x2="154" y2="560.4" stroke="#fff" stroke-width="0.8"/>
<line x1="144" y1="591.6" x2="154" y2="567.3" stroke="#fff" stroke-width="0.8"/>
<line x1="144" y1="598.1" x2="154" y2="576.4" stroke="#fff" stroke-width="0.8"/>
<line x1="144" y1="605.1" x2="154" y2="585.3" stroke="#fff" stroke-width="0.8"/>
<line x1="144" y1="614.5" x2="154" y2="597" stroke="#fff" stroke-width="0.8"/>
<line x1="144" y1="622.6" x2="154" y2="607.5" stroke="#fff" stroke-width="0.8"/>
<line x1="144" y1="630.4" x2="154" y2="619.1" stroke="#fff" stroke-width="0.8"/>
<line x1="144" y1="639.6" x2="154" y2="631" stroke="#fff" stroke-width="0.8"/>
<line x1="144" y1="654.2" x2="154" y2="647.2" stroke="#fff" stroke-width="0.8"/>
<line x1="144" y1="488.3" x2="154" y2="488.3" stroke="#999" stroke-width="0.7"/>
<rect x="34" y="489.1" width="14" height="60.2" fill="#7b5b45"/>
<rect x="34" y="549.3" width="14" height="2.3" fill="#dff47a"/>
<rect x="34" y="551.6" width="14" height="2.3" fill="#f7f53c"/>
<rect x="34" y="553.9" width="14" height="2.4" fill="#9dd3f7"/>
<rect x="34" y="556.3" width="14" height="3.2" fill="#e2141b"/>
<rect x="34" y="559.5" width="14" height="5.1" fill="#8795be"/>
<rect x="34" y="564.6" width="14" height="3.9" fill="#8fd0bc"/>
<rect x="34" y="568.5" width="14" height="4.8" fill="#f3a07e"/>
<rect x="34" y="573.3" width="14" height="4" fill="#0b9a7a"/>
<rect x="34" y="577.3" width="14" height="2.9" fill="#2f4b8d"/>
<rect x="34" y="580.2" width="14" height="9.1" fill="#5fcb94"/>
<rect x="34" y="589.3" width="14" height="7.7" fill="#9b97cf"/>
<rect x="34" y="597" width="14" height="5.2" fill="#cf5f62"/>
<rect x="34" y="602.2" width="14" height="4.7" fill="#d073aa"/>
<rect x="34" y="606.9" width="14" height="5.2" fill="#d95f05"/>
<rect x="34" y="612.1" width="14" height="8.8" fill="#0a70b3"/>
<rect x="34" y="620.9" width="14" height="11.5" fill="#f0e443"/>
<rect x="34" y="632.4" width="14" height="7.3" fill="#05a072"/>
<rect x="34" y="639.7" width="14" height="8" fill="#55b2e6"/>
<rect x="34" y="647.7" width="14" height="11.7" fill="#e69e04"/>
<rect x="34" y="659.4" width="14" height="17.5" fill="#b0152a"/>
<line x1="34" y1="549.3" x2="48" y2="549.3" stroke="#fff" stroke-width="0.8"/>
<line x1="34" y1="551.6" x2="48" y2="551.6" stroke="#fff" stroke-width="0.8"/>
<line x1="34" y1="553.9" x2="48" y2="553.9" stroke="#fff" stroke-width="0.8"/>
<line x1="34" y1="556.3" x2="48" y2="556.3" stroke="#fff" stroke-width="0.8"/>
<line x1="34" y1="559.5" x2="48" y2="559.5" stroke="#fff" stroke-width="0.8"/>
<line x1="34" y1="564.6" x2="48" y2="564.6" stroke="#fff" stroke-width="0.8"/>
<line x1="34" y1="568.5" x2="48" y2="568.5" stroke="#fff" stroke-width="0.8"/>
<line x1="34" y1="573.3" x2="48" y2="573.3" stroke="#fff" stroke-width="0.8"/>
<line x1="34" y1="577.3" x2="48" y2="577.3" stroke="#fff" stroke-width="0.8"/>
<line x1="34" y1="580.2" x2="48" y2="580.2" stroke="#fff" stroke-width="0.8"/>
<line x1="34" y1="589.3" x2="48" y2="589.3" stroke="#fff" stroke-width="0.8"/>
<line x1="34" y1="597" x2="48" y2="597" stroke="#fff" stroke-width="0.8"/>
<line x1="34" y1="602.2" x2="48" y2="602.2" stroke="#fff" stroke-width="0.8"/>
<line x1="34" y1="606.9" x2="48" y2="606.9" stroke="#fff" stroke-width="0.8"/>
<line x1="34" y1="612.1" x2="48" y2="612.1" stroke="#fff" stroke-width="0.8"/>
<line x1="34" y1="620.9" x2="48" y2="620.9" stroke="#fff" stroke-width="0.8"/>
<line x1="34" y1="632.4" x2="48" y2="632.4" stroke="#fff" stroke-width="0.8"/>
<line x1="34" y1="639.7" x2="48" y2="639.7" stroke="#fff" stroke-width="0.8"/>
<line x1="34" y1="647.7" x2="48" y2="647.7" stroke="#fff" stroke-width="0.8"/>
<line x1="34" y1="659.4" x2="48" y2="659.4" stroke="#fff" stroke-width="0.8"/>
<rect x="58" y="489.1" width="14" height="48" fill="#7b5b45"/>
<rect x="58" y="537.1" width="14" height="2.4" fill="#dff47a"/>
<rect x="58" y="539.5" width="14" height="2.3" fill="#f7f53c"/>
<rect x="58" y="541.8" width="14" height="2.4" fill="#9dd3f7"/>
<rect x="58" y="544.2" width="14" height="2.8" fill="#e2141b"/>
<rect x="58" y="547" width="14" height="2.5" fill="#8795be"/>
<rect x="58" y="549.5" width="14" height="4.8" fill="#8fd0bc"/>
<rect x="58" y="554.3" width="14" height="4.7" fill="#f3a07e"/>
<rect x="58" y="559" width="14" height="6.3" fill="#0b9a7a"/>
<rect x="58" y="565.3" width="14" height="4.3" fill="#2f4b8d"/>
<rect x="58" y="569.6" width="14" height="7.9" fill="#5fcb94"/>
<rect x="58" y="577.5" width="14" height="12.4" fill="#9b97cf"/>
<rect x="58" y="589.9" width="14" height="6.5" fill="#cf5f62"/>
<rect x="58" y="596.4" width="14" height="5.9" fill="#d073aa"/>
<rect x="58" y="602.3" width="14" height="8.2" fill="#d95f05"/>
<rect x="58" y="610.5" width="14" height="7.9" fill="#0a70b3"/>
<rect x="58" y="618.4" width="14" height="7.7" fill="#f0e443"/>
<rect x="58" y="626.1" width="14" height="8.2" fill="#05a072"/>
<rect x="58" y="634.3" width="14" height="8.9" fill="#55b2e6"/>
<rect x="58" y="643.2" width="14" height="12.1" fill="#e69e04"/>
<rect x="58" y="655.3" width="14" height="21.6" fill="#b0152a"/>
<line x1="58" y1="537.1" x2="72" y2="537.1" stroke="#fff" stroke-width="0.8"/>
<line x1="58" y1="539.5" x2="72" y2="539.5" stroke="#fff" stroke-width="0.8"/>
<line x1="58" y1="541.8" x2="72" y2="541.8" stroke="#fff" stroke-width="0.8"/>
<line x1="58" y1="544.2" x2="72" y2="544.2" stroke="#fff" stroke-width="0.8"/>
<line x1="58" y1="547" x2="72" y2="547" stroke="#fff" stroke-width="0.8"/>
<line x1="58" y1="549.5" x2="72" y2="549.5" stroke="#fff" stroke-width="0.8"/>
<line x1="58" y1="554.3" x2="72" y2="554.3" stroke="#fff" stroke-width="0.8"/>
<line x1="58" y1="559" x2="72" y2="559" stroke="#fff" stroke-width="0.8"/>
<line x1="58" y1="565.3" x2="72" y2="565.3" stroke="#fff" stroke-width="0.8"/>
<line x1="58" y1="569.6" x2="72" y2="569.6" stroke="#fff" stroke-width="0.8"/>
<line x1="58" y1="577.5" x2="72" y2="577.5" stroke="#fff" stroke-width="0.8"/>
<line x1="58" y1="589.9" x2="72" y2="589.9" stroke="#fff" stroke-width="0.8"/>
<line x1="58" y1="596.4" x2="72" y2="596.4" stroke="#fff" stroke-width="0.8"/>
<line x1="58" y1="602.3" x2="72" y2="602.3" stroke="#fff" stroke-width="0.8"/>
<line x1="58" y1="610.5" x2="72" y2="610.5" stroke="#fff" stroke-width="0.8"/>
<line x1="58" y1="618.4" x2="72" y2="618.4" stroke="#fff" stroke-width="0.8"/>
<line x1="58" y1="626.1" x2="72" y2="626.1" stroke="#fff" stroke-width="0.8"/>
<line x1="58" y1="634.3" x2="72" y2="634.3" stroke="#fff" stroke-width="0.8"/>
<line x1="58" y1="643.2" x2="72" y2="643.2" stroke="#fff" stroke-width="0.8"/>
<line x1="58" y1="655.3" x2="72" y2="655.3" stroke="#fff" stroke-width="0.8"/>
<rect x="82" y="489.1" width="14" height="30.4" fill="#7b5b45"/>
<rect x="82" y="519.5" width="14" height="2.8" fill="#dff47a"/>
<rect x="82" y="522.3" width="14" height="3" fill="#f7f53c"/>
<rect x="82" y="525.3" width="14" height="3.2" fill="#9dd3f7"/>
<rect x="82" y="528.5" width="14" height="6.8" fill="#e2141b"/>
<rect x="82" y="535.3" width="14" height="4" fill="#8795be"/>
<rect x="82" y="539.3" width="14" height="5.5" fill="#8fd0bc"/>
<rect x="82" y="544.8" width="14" height="4.7" fill="#f3a07e"/>
<rect x="82" y="549.5" width="14" height="4.6" fill="#0b9a7a"/>
<rect x="82" y="554.1" width="14" height="4.3" fill="#2f4b8d"/>
<rect x="82" y="558.4" width="14" height="4.6" fill="#5fcb94"/>
<rect x="82" y="563" width="14" height="6.1" fill="#9b97cf"/>
<rect x="82" y="569.1" width="14" height="10.9" fill="#cf5f62"/>
<rect x="82" y="580" width="14" height="7.1" fill="#d073aa"/>
<rect x="82" y="587.1" width="14" height="7" fill="#d95f05"/>
<rect x="82" y="594.1" width="14" height="9.9" fill="#0a70b3"/>
<rect x="82" y="604" width="14" height="9.3" fill="#f0e443"/>
<rect x="82" y="613.3" width="14" height="12.8" fill="#05a072"/>
<rect x="82" y="626.1" width="14" height="9.6" fill="#55b2e6"/>
<rect x="82" y="635.7" width="14" height="14.5" fill="#e69e04"/>
<rect x="82" y="650.2" width="14" height="26.7" fill="#b0152a"/>
<line x1="82" y1="519.5" x2="96" y2="519.5" stroke="#fff" stroke-width="0.8"/>
<line x1="82" y1="522.3" x2="96" y2="522.3" stroke="#fff" stroke-width="0.8"/>
<line x1="82" y1="525.3" x2="96" y2="525.3" stroke="#fff" stroke-width="0.8"/>
<line x1="82" y1="528.5" x2="96" y2="528.5" stroke="#fff" stroke-width="0.8"/>
<line x1="82" y1="535.3" x2="96" y2="535.3" stroke="#fff" stroke-width="0.8"/>
<line x1="82" y1="539.3" x2="96" y2="539.3" stroke="#fff" stroke-width="0.8"/>
<line x1="82" y1="544.8" x2="96" y2="544.8" stroke="#fff" stroke-width="0.8"/>
<line x1="82" y1="549.5" x2="96" y2="549.5" stroke="#fff" stroke-width="0.8"/>
<line x1="82" y1="554.1" x2="96" y2="554.1" stroke="#fff" stroke-width="0.8"/>
<line x1="82" y1="558.4" x2="96" y2="558.4" stroke="#fff" stroke-width="0.8"/>
<line x1="82" y1="563" x2="96" y2="563" stroke="#fff" stroke-width="0.8"/>
<line x1="82" y1="569.1" x2="96" y2="569.1" stroke="#fff" stroke-width="0.8"/>
<line x1="82" y1="580" x2="96" y2="580" stroke="#fff" stroke-width="0.8"/>
<line x1="82" y1="587.1" x2="96" y2="587.1" stroke="#fff" stroke-width="0.8"/>
<line x1="82" y1="594.1" x2="96" y2="594.1" stroke="#fff" stroke-width="0.8"/>
<line x1="82" y1="604" x2="96" y2="604" stroke="#fff" stroke-width="0.8"/>
<line x1="82" y1="613.3" x2="96" y2="613.3" stroke="#fff" stroke-width="0.8"/>
<line x1="82" y1="626.1" x2="96" y2="626.1" stroke="#fff" stroke-width="0.8"/>
<line x1="82" y1="635.7" x2="96" y2="635.7" stroke="#fff" stroke-width="0.8"/>
<line x1="82" y1="650.2" x2="96" y2="650.2" stroke="#fff" stroke-width="0.8"/>
<rect x="106" y="489.1" width="14" height="38.1" fill="#7b5b45"/>
<rect x="106" y="527.2" width="14" height="2.9" fill="#dff47a"/>
<rect x="106" y="530.1" width="14" height="2.8" fill="#f7f53c"/>
<rect x="106" y="532.9" width="14" height="2.3" fill="#9dd3f7"/>
<rect x="106" y="535.2" width="14" height="4.5" fill="#e2141b"/>
<rect x="106" y="539.7" width="14" height="3.7" fill="#8795be"/>
<rect x="106" y="543.4" width="14" height="5.9" fill="#8fd0bc"/>
<rect x="106" y="549.3" width="14" height="4.3" fill="#f3a07e"/>
<rect x="106" y="553.6" width="14" height="4.6" fill="#0b9a7a"/>
<rect x="106" y="558.2" width="14" height="4.5" fill="#2f4b8d"/>
<rect x="106" y="562.7" width="14" height="5.4" fill="#5fcb94"/>
<rect x="106" y="568.1" width="14" height="10.2" fill="#9b97cf"/>
<rect x="106" y="578.3" width="14" height="7.5" fill="#cf5f62"/>
<rect x="106" y="585.8" width="14" height="5.9" fill="#d073aa"/>
<rect x="106" y="591.7" width="14" height="8.8" fill="#d95f05"/>
<rect x="106" y="600.5" width="14" height="7.7" fill="#0a70b3"/>
<rect x="106" y="608.2" width="14" height="9.8" fill="#f0e443"/>
<rect x="106" y="618" width="14" height="14" fill="#05a072"/>
<rect x="106" y="632" width="14" height="9.3" fill="#55b2e6"/>
<rect x="106" y="641.3" width="14" height="14" fill="#e69e04"/>
<rect x="106" y="655.3" width="14" height="21.6" fill="#b0152a"/>
<line x1="106" y1="527.2" x2="120" y2="527.2" stroke="#fff" stroke-width="0.8"/>
<line x1="106" y1="530.1" x2="120" y2="530.1" stroke="#fff" stroke-width="0.8"/>
<line x1="106" y1="532.9" x2="120" y2="532.9" stroke="#fff" stroke-width="0.8"/>
<line x1="106" y1="535.2" x2="120" y2="535.2" stroke="#fff" stroke-width="0.8"/>
<line x1="106" y1="539.7" x2="120" y2="539.7" stroke="#fff" stroke-width="0.8"/>
<line x1="106" y1="543.4" x2="120" y2="543.4" stroke="#fff" stroke-width="0.8"/>
<line x1="106" y1="549.3" x2="120" y2="549.3" stroke="#fff" stroke-width="0.8"/>
<line x1="106" y1="553.6" x2="120" y2="553.6" stroke="#fff" stroke-width="0.8"/>
<line x1="106" y1="558.2" x2="120" y2="558.2" stroke="#fff" stroke-width="0.8"/>
<line x1="106" y1="562.7" x2="120" y2="562.7" stroke="#fff" stroke-width="0.8"/>
<line x1="106" y1="568.1" x2="120" y2="568.1" stroke="#fff" stroke-width="0.8"/>
<line x1="106" y1="578.3" x2="120" y2="578.3" stroke="#fff" stroke-width="0.8"/>
<line x1="106" y1="585.8" x2="120" y2="585.8" stroke="#fff" stroke-width="0.8"/>
<line x1="106" y1="591.7" x2="120" y2="591.7" stroke="#fff" stroke-width="0.8"/>
<line x1="106" y1="600.5" x2="120" y2="600.5" stroke="#fff" stroke-width="0.8"/>
<line x1="106" y1="608.2" x2="120" y2="608.2" stroke="#fff" stroke-width="0.8"/>
<line x1="106" y1="618" x2="120" y2="618" stroke="#fff" stroke-width="0.8"/>
<line x1="106" y1="632" x2="120" y2="632" stroke="#fff" stroke-width="0.8"/>
<line x1="106" y1="641.3" x2="120" y2="641.3" stroke="#fff" stroke-width="0.8"/>
<line x1="106" y1="655.3" x2="120" y2="655.3" stroke="#fff" stroke-width="0.8"/>
<rect x="130" y="489.1" width="14" height="50.4" fill="#7b5b45"/>
<rect x="130" y="539.5" width="14" height="2.7" fill="#dff47a"/>
<rect x="130" y="542.2" width="14" height="3" fill="#f7f53c"/>
<rect x="130" y="545.2" width="14" height="2.6" fill="#9dd3f7"/>
<rect x="130" y="547.8" width="14" height="2.6" fill="#e2141b"/>
<rect x="130" y="550.4" width="14" height="3.9" fill="#8795be"/>
<rect x="130" y="554.3" width="14" height="4.4" fill="#8fd0bc"/>
<rect x="130" y="558.7" width="14" height="4.9" fill="#f3a07e"/>
<rect x="130" y="563.6" width="14" height="4.1" fill="#0b9a7a"/>
<rect x="130" y="567.7" width="14" height="4.2" fill="#2f4b8d"/>
<rect x="130" y="571.9" width="14" height="8.4" fill="#5fcb94"/>
<rect x="130" y="580.3" width="14" height="6.1" fill="#9b97cf"/>
<rect x="130" y="586.4" width="14" height="5.2" fill="#cf5f62"/>
<rect x="130" y="591.6" width="14" height="6.5" fill="#d073aa"/>
<rect x="130" y="598.1" width="14" height="7" fill="#d95f05"/>
<rect x="130" y="605.1" width="14" height="9.4" fill="#0a70b3"/>
<rect x="130" y="614.5" width="14" height="8.1" fill="#f0e443"/>
<rect x="130" y="622.6" width="14" height="7.8" fill="#05a072"/>
<rect x="130" y="630.4" width="14" height="9.2" fill="#55b2e6"/>
<rect x="130" y="639.6" width="14" height="14.6" fill="#e69e04"/>
<rect x="130" y="654.2" width="14" height="22.7" fill="#b0152a"/>
<line x1="130" y1="539.5" x2="144" y2="539.5" stroke="#fff" stroke-width="0.8"/>
<line x1="130" y1="542.2" x2="144" y2="542.2" stroke="#fff" stroke-width="0.8"/>
<line x1="130" y1="545.2" x2="144" y2="545.2" stroke="#fff" stroke-width="0.8"/>
<line x1="130" y1="547.8" x2="144" y2="547.8" stroke="#fff" stroke-width="0.8"/>
<line x1="130" y1="550.4" x2="144" y2="550.4" stroke="#fff" stroke-width="0.8"/>
<line x1="130" y1="554.3" x2="144" y2="554.3" stroke="#fff" stroke-width="0.8"/>
<line x1="130" y1="558.7" x2="144" y2="558.7" stroke="#fff" stroke-width="0.8"/>
<line x1="130" y1="563.6" x2="144" y2="563.6" stroke="#fff" stroke-width="0.8"/>
<line x1="130" y1="567.7" x2="144" y2="567.7" stroke="#fff" stroke-width="0.8"/>
<line x1="130" y1="571.9" x2="144" y2="571.9" stroke="#fff" stroke-width="0.8"/>
<line x1="130" y1="580.3" x2="144" y2="580.3" stroke="#fff" stroke-width="0.8"/>
<line x1="130" y1="586.4" x2="144" y2="586.4" stroke="#fff" stroke-width="0.8"/>
<line x1="130" y1="591.6" x2="144" y2="591.6" stroke="#fff" stroke-width="0.8"/>
<line x1="130" y1="598.1" x2="144" y2="598.1" stroke="#fff" stroke-width="0.8"/>
<line x1="130" y1="605.1" x2="144" y2="605.1" stroke="#fff" stroke-width="0.8"/>
<line x1="130" y1="614.5" x2="144" y2="614.5" stroke="#fff" stroke-width="0.8"/>
<line x1="130" y1="622.6" x2="144" y2="622.6" stroke="#fff" stroke-width="0.8"/>
<line x1="130" y1="630.4" x2="144" y2="630.4" stroke="#fff" stroke-width="0.8"/>
<line x1="130" y1="639.6" x2="144" y2="639.6" stroke="#fff" stroke-width="0.8"/>
<line x1="130" y1="654.2" x2="144" y2="654.2" stroke="#fff" stroke-width="0.8"/>
<rect x="154" y="489.1" width="14" height="24.3" fill="#7b5b45"/>
<rect x="154" y="513.4" width="14" height="2.9" fill="#dff47a"/>
<rect x="154" y="516.3" width="14" height="3.8" fill="#f7f53c"/>
<rect x="154" y="520.1" width="14" height="3.5" fill="#9dd3f7"/>
<rect x="154" y="523.6" width="14" height="3.8" fill="#e2141b"/>
<rect x="154" y="527.4" width="14" height="5" fill="#8795be"/>
<rect x="154" y="532.4" width="14" height="4.3" fill="#8fd0bc"/>
<rect x="154" y="536.7" width="14" height="5.3" fill="#f3a07e"/>
<rect x="154" y="542" width="14" height="4.6" fill="#0b9a7a"/>
<rect x="154" y="546.6" width="14" height="5" fill="#2f4b8d"/>
<rect x="154" y="551.6" width="14" height="2.7" fill="#5fcb94"/>
<rect x="154" y="554.3" width="14" height="6.1" fill="#9b97cf"/>
<rect x="154" y="560.4" width="14" height="6.9" fill="#cf5f62"/>
<rect x="154" y="567.3" width="14" height="9.1" fill="#d073aa"/>
<rect x="154" y="576.4" width="14" height="8.9" fill="#d95f05"/>
<rect x="154" y="585.3" width="14" height="11.7" fill="#0a70b3"/>
<rect x="154" y="597" width="14" height="10.5" fill="#f0e443"/>
<rect x="154" y="607.5" width="14" height="11.6" fill="#05a072"/>
<rect x="154" y="619.1" width="14" height="11.9" fill="#55b2e6"/>
<rect x="154" y="631" width="14" height="16.2" fill="#e69e04"/>
<rect x="154" y="647.2" width="14" height="29.7" fill="#b0152a"/>
<line x1="154" y1="513.4" x2="168" y2="513.4" stroke="#fff" stroke-width="0.8"/>
<line x1="154" y1="516.3" x2="168" y2="516.3" stroke="#fff" stroke-width="0.8"/>
<line x1="154" y1="520.1" x2="168" y2="520.1" stroke="#fff" stroke-width="0.8"/>
<line x1="154" y1="523.6" x2="168" y2="523.6" stroke="#fff" stroke-width="0.8"/>
<line x1="154" y1="527.4" x2="168" y2="527.4" stroke="#fff" stroke-width="0.8"/>
<line x1="154" y1="532.4" x2="168" y2="532.4" stroke="#fff" stroke-width="0.8"/>
<line x1="154" y1="536.7" x2="168" y2="536.7" stroke="#fff" stroke-width="0.8"/>
<line x1="154" y1="542" x2="168" y2="542" stroke="#fff" stroke-width="0.8"/>
<line x1="154" y1="546.6" x2="168" y2="546.6" stroke="#fff" stroke-width="0.8"/>
<line x1="154" y1="551.6" x2="168" y2="551.6" stroke="#fff" stroke-width="0.8"/>
<line x1="154" y1="554.3" x2="168" y2="554.3" stroke="#fff" stroke-width="0.8"/>
<line x1="154" y1="560.4" x2="168" y2="560.4" stroke="#fff" stroke-width="0.8"/>
<line x1="154" y1="567.3" x2="168" y2="567.3" stroke="#fff" stroke-width="0.8"/>
<line x1="154" y1="576.4" x2="168" y2="576.4" stroke="#fff" stroke-width="0.8"/>
<line x1="154" y1="585.3" x2="168" y2="585.3" stroke="#fff" stroke-width="0.8"/>
<line x1="154" y1="597" x2="168" y2="597" stroke="#fff" stroke-width="0.8"/>
<line x1="154" y1="607.5" x2="168" y2="607.5" stroke="#fff" stroke-width="0.8"/>
<line x1="154" y1="619.1" x2="168" y2="619.1" stroke="#fff" stroke-width="0.8"/>
<line x1="154" y1="631" x2="168" y2="631" stroke="#fff" stroke-width="0.8"/>
<line x1="154" y1="647.2" x2="168" y2="647.2" stroke="#fff" stroke-width="0.8"/>
<line x1="26.6" y1="488.3" x2="34" y2="488.3" stroke="#888" stroke-width="0.6"/>
<line x1="167.9" y1="488.3" x2="175.3" y2="488.3" stroke="#888" stroke-width="0.6"/>
<line x1="26.6" y1="488.3" x2="26.6" y2="677.3" stroke="#333" stroke-width="0.7"/>
<line x1="26.6" y1="677.3" x2="175.3" y2="677.3" stroke="#333" stroke-width="0.7"/>
<line x1="175.3" y1="488.3" x2="175.3" y2="677.3" stroke="#333" stroke-width="0.6"/>
<line x1="25.2" y1="676.9" x2="26.6" y2="676.9" stroke="#333" stroke-width="0.5"/>
<text x="24.4" y="678.6" font-size="4.6" text-anchor="end" fill="#222">0</text>
<line x1="25.2" y1="629.8" x2="26.6" y2="629.8" stroke="#333" stroke-width="0.5"/>
<text x="24.4" y="631.5" font-size="4.6" text-anchor="end" fill="#222">25</text>
<line x1="25.2" y1="582.7" x2="26.6" y2="582.7" stroke="#333" stroke-width="0.5"/>
<text x="24.4" y="584.4" font-size="4.6" text-anchor="end" fill="#222">50</text>
<line x1="25.2" y1="535.6" x2="26.6" y2="535.6" stroke="#333" stroke-width="0.5"/>
<text x="24.4" y="537.3" font-size="4.6" text-anchor="end" fill="#222">75</text>
<line x1="25.2" y1="488.5" x2="26.6" y2="488.5" stroke="#333" stroke-width="0.5"/>
<text x="24.4" y="490.2" font-size="4.6" text-anchor="end" fill="#222">100</text>
<line x1="41" y1="677.3" x2="41" y2="678.6" stroke="#333" stroke-width="0.5"/>
<text x="41" y="683" font-size="4.8" text-anchor="middle" fill="#222">t1</text>
<line x1="65" y1="677.3" x2="65" y2="678.6" stroke="#333" stroke-width="0.5"/>
<text x="65" y="683" font-size="4.8" text-anchor="middle" fill="#222">t2</text>
<line x1="89" y1="677.3" x2="89" y2="678.6" stroke="#333" stroke-width="0.5"/>
<text x="89" y="683" font-size="4.8" text-anchor="middle" fill="#222">t3</text>
<line x1="113" y1="677.3" x2="113" y2="678.6" stroke="#333" stroke-width="0.5"/>
<text x="113" y="683" font-size="4.8" text-anchor="middle" fill="#222">t4</text>
<line x1="137" y1="677.3" x2="137" y2="678.6" stroke="#333" stroke-width="0.5"/>
<text x="137" y="683" font-size="4.8" text-anchor="middle" fill="#222">t5</text>
<line x1="161" y1="677.3" x2="161" y2="678.6" stroke="#333" stroke-width="0.5"/>
<text x="161" y="683" font-size="4.8" text-anchor="middle" fill="#222">t6</text>
<text x="101.3" y="687.8" font-size="5.4" text-anchor="middle" fill="#222">Time</text>
<text x="0" y="0" font-size="5.5" text-anchor="middle" fill="#222" transform="translate(12.8,586) rotate(-90)">Relative Abundance (%)</text>
<text x="193.3" y="518.2" font-size="5.6" fill="#222">KEGG pathway</text>
<rect x="179.5" y="526" width="3.3" height="3.3" fill="#7b5b45"/>
<text x="184" y="529.2" font-size="4.7" fill="#222">Others</text>
<rect x="179.5" y="531.58" width="3.3" height="3.3" fill="#dff47a"/>
<text x="184" y="534.78" font-size="4.7" fill="#222">Biosynthesis of other secondary metabolites</text>
<rect x="179.5" y="537.15" width="3.3" height="3.3" fill="#f7f53c"/>
<text x="184" y="540.35" font-size="4.7" fill="#222">Drug resistance: antimicrobial</text>
<rect x="179.5" y="542.73" width="3.3" height="3.3" fill="#9dd3f7"/>
<text x="184" y="545.93" font-size="4.7" fill="#222">Metabolism of other amino acids</text>
<rect x="179.5" y="548.3" width="3.3" height="3.3" fill="#e2141b"/>
<text x="184" y="551.5" font-size="4.7" fill="#222">Glycan biosynthesis and metabolism</text>
<rect x="179.5" y="553.88" width="3.3" height="3.3" fill="#8795be"/>
<text x="184" y="557.08" font-size="4.7" fill="#222">Cellular community - prokaryotes</text>
<rect x="179.5" y="559.45" width="3.3" height="3.3" fill="#8fd0bc"/>
<text x="184" y="562.65" font-size="4.7" fill="#222">Folding, sorting and degradation</text>
<rect x="179.5" y="565.02" width="3.3" height="3.3" fill="#f3a07e"/>
<text x="184" y="568.23" font-size="4.7" fill="#222">Cellular community - eukaryotes</text>
<rect x="179.5" y="570.6" width="3.3" height="3.3" fill="#0b9a7a"/>
<text x="184" y="573.8" font-size="4.7" fill="#222">Translation</text>
<rect x="179.5" y="576.17" width="3.3" height="3.3" fill="#2f4b8d"/>
<text x="184" y="579.38" font-size="4.7" fill="#222">Xenobiotics biodegradation and metabolism</text>
<rect x="179.5" y="581.75" width="3.3" height="3.3" fill="#5fcb94"/>
<text x="184" y="584.95" font-size="4.7" fill="#222">Signal transduction</text>
<rect x="179.5" y="587.33" width="3.3" height="3.3" fill="#9b97cf"/>
<text x="184" y="590.53" font-size="4.7" fill="#222">Lipid metabolism</text>
<rect x="179.5" y="592.9" width="3.3" height="3.3" fill="#cf5f62"/>
<text x="184" y="596.1" font-size="4.7" fill="#222">Replication and repair</text>
<rect x="179.5" y="598.48" width="3.3" height="3.3" fill="#d073aa"/>
<text x="184" y="601.68" font-size="4.7" fill="#222">Information processing in viruses</text>
<rect x="179.5" y="604.05" width="3.3" height="3.3" fill="#d95f05"/>
<text x="184" y="607.25" font-size="4.7" fill="#222">Transcription</text>
<rect x="179.5" y="609.62" width="3.3" height="3.3" fill="#0a70b3"/>
<text x="184" y="612.83" font-size="4.7" fill="#222">Membrane transport</text>
<rect x="179.5" y="615.2" width="3.3" height="3.3" fill="#f0e443"/>
<text x="184" y="618.4" font-size="4.7" fill="#222">Metabolism of cofactors and vitamins</text>
<rect x="179.5" y="620.77" width="3.3" height="3.3" fill="#05a072"/>
<text x="184" y="623.98" font-size="4.7" fill="#222">Nucleotide metabolism</text>
<rect x="179.5" y="626.35" width="3.3" height="3.3" fill="#55b2e6"/>
<text x="184" y="629.55" font-size="4.7" fill="#222">Energy metabolism</text>
<rect x="179.5" y="631.92" width="3.3" height="3.3" fill="#e69e04"/>
<text x="184" y="635.12" font-size="4.7" fill="#222">Amino acid metabolism</text>
<rect x="179.5" y="637.5" width="3.3" height="3.3" fill="#b0152a"/>
<text x="184" y="640.7" font-size="4.7" fill="#222">Carbohydrate metabolism</text>
<text x="262.3" y="344.4" font-size="8.2" font-weight="bold">(i)</text>
<path d="M367.3,366 Q363.05,375.77 366,386 M347.7,377.2 Q355.27,384.89 366,386 M347.7,377.2 Q350.66,463.89 408.2,528.8 M384.3,380.2 Q374.11,379.81 366,386 M329.8,392 Q348.98,395.52 366,386 M329.8,392 Q344.38,474.51 408.2,528.8 M370.6,404.3 Q371.59,394.32 366,386 M389.8,401.5 Q380.69,389.47 366,386 M335.5,414.5 Q351.28,484.74 408.2,528.8 M356.1,418.2 Q366.85,403.88 366,386 M379.5,422 Q374.63,480.57 408.2,528.8 M343.8,434.2 Q358.97,493.09 408.2,528.8 M364.2,435.4 Q369.39,490.02 408.2,528.8 M473.8,355.7 Q463.9,360.78 459.5,371 M440.1,365.9 Q448.88,371.94 459.5,371 M484.4,394.5 Q494.51,394.81 502.5,388.6 M525.8,386 Q513.68,383.11 502.5,388.6 M429.6,408 Q440.66,410.68 450.9,405.7 M473.8,411.9 Q463.47,404.68 450.9,405.7 M516.8,404.5 Q512.51,393.98 502.5,388.6 M540.1,398.2 Q523.03,386.63 502.5,388.6 M531.4,417.2 Q522.1,397.7 502.5,388.6 M440.1,425.6 Q449.08,417.59 450.9,405.7 M506.6,426.9 Q511.44,407.01 502.5,388.6 M562.5,431.5 Q467.84,452.38 408.2,528.8 M524.1,434.5 Q449.18,460.79 408.2,528.8 M543.8,436.6 Q459.4,458.29 408.2,528.8 M529.6,454 Q455.44,469.55 408.2,528.8 M550.4,457.3 Q466.43,467.45 408.2,528.8 M331.1,449.4 Q355.36,502.98 408.2,528.8 M352,455.3 Q366.87,502.17 408.2,528.8 M372.1,457 Q377.23,499.4 408.2,528.8 M335.6,469.9 Q361.3,512.42 408.2,528.8 M358.2,473.4 Q373.23,510.1 408.2,528.8 M378.7,476.5 Q384.04,507.96 408.2,528.8 M399.9,480.7 Q395.39,506.24 408.2,528.8 M329.5,488.2 Q361.54,522.67 408.2,528.8 M348.9,490.3 Q371.62,520.22 408.2,528.8 M367.7,494.8 Q381.83,519.09 408.2,528.8 M387.6,496.6 Q392.1,516.41 408.2,528.8 M312.1,501.1 Q301.45,498.68 291.7,503.6 M332.6,507.3 Q366.53,531.66 408.2,528.8 M354.3,510.3 Q377.92,529.25 408.2,528.8 M374.4,513.5 Q388.55,527.23 408.2,528.8 M315.2,520.9 Q360.28,541.59 408.2,528.8 M315.2,520.9 Q306.56,508.02 291.7,503.6 M295.2,525 Q297.3,513.67 291.7,503.6 M295.2,525 Q351.02,547.24 408.2,528.8 M338.7,524.4 Q372.66,539.11 408.2,528.8 M361.8,531.8 Q385.54,538.65 408.2,528.8 M385.1,533.7 Q397.53,535.41 408.2,528.8 M301.9,541.6 Q357.35,554.33 408.2,528.8 M301.9,541.6 Q303.64,520.76 291.7,503.6 M321.3,539.2 Q366.62,549.64 408.2,528.8 M343.4,541.4 Q378.07,546.76 408.2,528.8 M405.5,443.9 Q391.57,486.84 408.2,528.8 M426.2,445.5 Q402.21,483.91 408.2,528.8 M469.3,445.3 Q423.72,476.05 408.2,528.8 M413.9,463.8 Q399.35,495.27 408.2,528.8 M435,461.7 Q409.52,490.43 408.2,528.8 M455,463.7 Q419.88,487.83 408.2,528.8 M475.8,463.7 Q430.28,484.08 408.2,528.8 M494.6,467.8 Q440.42,482.75 408.2,528.8 M515.8,468.5 Q451.15,479.28 408.2,528.8 M420,483.5 Q405.95,504.03 408.2,528.8 M438.5,480 Q414.57,498.95 408.2,528.8 M464,481.1 Q427.51,494.91 408.2,528.8 M483,485.2 Q437.75,493.54 408.2,528.8 M409.8,501.1 Q404.01,514.66 408.2,528.8 M431.9,502.6 Q415.33,511.43 408.2,528.8 M450.3,495.4 Q423.24,504.52 408.2,528.8 M469.3,502.6 Q434.03,504.7 408.2,528.8 M489.1,506 Q444.55,502.84 408.2,528.8 M422.3,519.5 Q413.58,521.61 408.2,528.8 M449.7,515.4 Q426.54,514.63 408.2,528.8 M469.3,522 Q437.53,514.4 408.2,528.8 M437.1,531.8 Q423.19,525.1 408.2,528.8 M535.3,474.7 Q462.01,478.87 408.2,528.8 M573,468.5 Q479.75,468.99 408.2,528.8 M575.9,488.9 Q484.87,478.66 408.2,528.8 M540.1,496.2 Q468.28,488.76 408.2,528.8 M573.7,511.5 Q487.84,490.36 408.2,528.8 M454.4,538.3 Q433.01,525.23 408.2,528.8 M475.1,541 Q443.85,522.86 408.2,528.8 M423,544.5 Q418.43,533.99 408.2,528.8 M401.3,545.5 Q407.76,538.39 408.2,528.8 M372,548.8 Q393.7,545.32 408.2,528.8 M309.5,560.2 Q364.5,562.27 408.2,528.8 M329.5,558.2 Q374.14,557.67 408.2,528.8 M353,557.6 Q385.78,553.14 408.2,528.8 M387.7,560.7 Q403.69,548.44 408.2,528.8 M368.3,569.9 Q395.65,556.53 408.2,528.8 M320.3,578.6 Q373.21,569.52 408.2,528.8 M357.1,586.8 Q393.09,567 408.2,528.8 M334.6,592.3 Q382.83,573.8 408.2,528.8 M371.4,600.5 Q402.71,571.27 408.2,528.8 M392.8,599.5 Q413.23,566.92 408.2,528.8 M385.1,619.9 Q413.05,578.51 408.2,528.8 M399,632.2 Q422.21,582.16 408.2,528.8 M463.7,558.6 Q441.31,533.71 408.2,528.8 M482.1,561.7 Q451.07,531.95 408.2,528.8 M427.9,570.9 Q425.63,546.3 408.2,528.8 M471.9,580.1 Q449.28,542.98 408.2,528.8 M454.5,589.3 Q442.24,550.72 408.2,528.8 M414.6,591.3 Q422.65,558.9 408.2,528.8 M444.3,607.7 Q440.45,561.75 408.2,528.8 M425.9,608.7 Q431.43,565.56 408.2,528.8 M406.5,611.7 Q422.27,570.56 408.2,528.8 M455.5,627.1 Q449.54,569.44 408.2,528.8 M473.9,627.7 Q458.85,566.42 408.2,528.8 M420.8,630.1 Q432.73,577.18 408.2,528.8 M439.2,631.2 Q442.13,574.42 408.2,528.8 M300.5,446.3 Q285.79,473.37 291.7,503.6 M314.8,459 Q295.22,477.14 291.7,503.6 M295.2,525 Q297.3,513.67 291.7,503.6" fill="none" stroke="#3fd2cc" stroke-width="0.55" stroke-opacity="0.85"/>
<path d="M367.3,366 Q362.56,406.94 385,441.5 M367.3,366 Q378.4,364.97 386.3,357.1 M347.7,377.2 Q354.78,416.06 385,441.5 M384.3,380.2 Q373.62,410.98 385,441.5 M329.8,392 Q348.49,426.69 385,441.5 M348.3,398.4 Q358.89,426.56 385,441.5 M370.6,404.3 Q371.1,425.49 385,441.5 M389.8,401.5 Q380.2,420.64 385,441.5 M316.8,410.4 Q345.3,438.23 385,441.5 M335.5,414.5 Q355.39,436.91 385,441.5 M356.1,418.2 Q366.36,435.05 385,441.5 M379.5,422 Q378.74,432.74 385,441.5 M379.5,422 Q439.43,458.37 508.8,448.2 M322.3,432.3 Q351.99,448.19 385,441.5 M343.8,434.2 Q363.09,445.27 385,441.5 M364.2,435.4 Q373.5,442.19 385,441.5 M409.5,350 Q402.14,357.57 401.3,368.1 M409.5,350 Q380.78,391.34 385,441.5 M430.5,348.7 Q391.05,386.91 385,441.5 M430.5,348.7 Q441.83,353.79 453.8,350.5 M473.8,355.7 Q464.74,349.5 453.8,350.5 M473.8,355.7 Q473.18,367 479.9,376.1 M494.2,362.2 Q484.55,366.58 479.9,376.1 M494.2,362.2 Q486.02,407.83 508.8,448.2 M421.5,368.3 Q390.07,398.33 385,441.5 M421.5,368.3 Q411.44,364.56 401.3,368.1 M440.1,365.9 Q449.72,360.67 453.8,350.5 M440.1,365.9 Q398.94,393.78 385,441.5 M425.7,389.2 Q395.94,408.02 385,441.5 M443.5,385.9 Q404.24,403.17 385,441.5 M484.4,394.5 Q486.93,425.74 508.8,448.2 M525.8,386 Q506.1,414.04 508.8,448.2 M409,407.5 Q390.88,420.18 385,441.5 M409,407.5 Q451.57,445.81 508.8,448.2 M429.6,408 Q401.27,416.72 385,441.5 M429.6,408 Q461.96,442.36 508.8,448.2 M473.8,411.9 Q484.77,436.35 508.8,448.2 M473.8,411.9 Q424.07,410.72 385,441.5 M497.3,410.8 Q496.32,431.57 508.8,448.2 M516.8,404.5 Q504.93,424.91 508.8,448.2 M516.8,404.5 Q444.24,399.28 385,441.5 M540.1,398.2 Q515.45,417.57 508.8,448.2 M551.8,414.7 Q524.27,423.71 508.8,448.2 M551.8,414.7 Q463.58,398.08 385,441.5 M531.4,417.2 Q514.52,428.63 508.8,448.2 M399,423.5 Q388.76,429.98 385,441.5 M420.8,426.3 Q400.16,427.46 385,441.5 M420.8,426.3 Q460.86,453.09 508.8,448.2 M440.1,425.6 Q409.69,423.63 385,441.5 M459.5,425.6 Q480.08,445.77 508.8,448.2 M484.4,428.2 Q493,442.59 508.8,448.2 M484.4,428.2 Q432.31,416.96 385,441.5 M506.6,426.9 Q503.87,437.95 508.8,448.2 M506.6,426.9 Q443.17,412.31 385,441.5 M562.5,431.5 Q532.64,430.18 508.8,448.2 M562.5,431.5 Q471.95,404.55 385,441.5 M524.1,434.5 Q513.98,438.6 508.8,448.2 M524.1,434.5 Q453.29,412.96 385,441.5 M543.8,436.6 Q524.21,436.1 508.8,448.2 M568.6,450 Q539.02,438.34 508.8,448.2 M568.6,450 Q478.33,412.7 385,441.5 M529.6,454 Q520.24,447.36 508.8,448.2 M529.6,454 Q459.55,421.72 385,441.5 M550.4,457.3 Q531.24,445.26 508.8,448.2 M300.5,446.3 Q343.61,459.11 385,441.5 M331.1,449.4 Q359.47,455.15 385,441.5 M352,455.3 Q370.98,454.34 385,441.5 M372.1,457 Q381.34,451.57 385,441.5 M393.3,461 Q392.66,449.76 385,441.5 M335.6,469.9 Q365.41,464.59 385,441.5 M358.2,473.4 Q377.34,462.27 385,441.5 M378.7,476.5 Q388.15,460.13 385,441.5 M399.9,480.7 Q399.51,458.42 385,441.5 M348.9,490.3 Q375.73,472.4 385,441.5 M387.6,496.6 Q396.22,468.58 385,441.5 M332.6,507.3 Q370.64,483.83 385,441.5 M374.4,513.5 Q392.66,479.41 385,441.5 M405.5,443.9 Q395.68,439.01 385,441.5 M426.2,445.5 Q406.32,436.08 385,441.5 M448.2,444.3 Q417.1,431.52 385,441.5 M448.2,444.3 Q477.8,457.16 508.8,448.2 M469.3,445.3 Q488.53,453.86 508.8,448.2 M469.3,445.3 Q427.83,428.23 385,441.5 M490.1,445.3 Q498.93,450.12 508.8,448.2 M413.9,463.8 Q403.46,447.45 385,441.5 M413.9,463.8 Q464.16,473.08 508.8,448.2 M435,461.7 Q413.64,442.6 385,441.5 M455,463.7 Q484.69,465.63 508.8,448.2 M475.8,463.7 Q495.09,461.89 508.8,448.2 M494.6,467.8 Q505.23,460.56 508.8,448.2 M515.8,468.5 Q515.95,457.09 508.8,448.2 M420,483.5 Q470.75,481.83 508.8,448.2 M438.5,480 Q479.37,476.75 508.8,448.2 M438.5,480 Q418.68,451.12 385,441.5 M464,481.1 Q492.32,472.71 508.8,448.2 M483,485.2 Q502.56,471.34 508.8,448.2 M521.7,491.2 Q522.99,467.38 508.8,448.2 M409.8,501.1 Q468.82,492.47 508.8,448.2 M431.9,502.6 Q480.14,489.24 508.8,448.2 M469.3,502.6 Q498.84,482.51 508.8,448.2 M489.1,506 Q509.35,480.65 508.8,448.2 M508.3,508.3 Q519.37,478.34 508.8,448.2 M508.3,508.3 Q504.95,529.69 516,548.3 M449.7,515.4 Q491.35,492.44 508.8,448.2 M469.3,522 Q502.33,492.21 508.8,448.2 M490.1,525 Q513.27,489.97 508.8,448.2 M509.6,527.4 Q509.04,539 516,548.3 M535.3,474.7 Q526.82,456.68 508.8,448.2 M535.3,474.7 Q512.4,508.03 516,548.3 M554.7,477.2 Q536.97,454.44 508.8,448.2 M554.7,477.2 Q522.55,505.78 516,548.3 M573,468.5 Q544.55,446.79 508.8,448.2 M573,468.5 Q532,509.6 526.6,567.4 M575.9,488.9 Q549.68,456.47 508.8,448.2 M540.1,496.2 Q533.09,466.57 508.8,448.2 M540.1,496.2 Q518.67,517.91 516,548.3 M558.4,498.1 Q542.58,464.22 508.8,448.2 M558.4,498.1 Q528.16,515.57 516,548.3 M529.2,513.7 Q530.79,477.28 508.8,448.2 M529.2,513.7 Q516.37,528.62 516,548.3 M550.4,516.6 Q541.91,474.91 508.8,448.2 M573.7,511.5 Q552.64,468.17 508.8,448.2 M530.7,532.2 Q520.45,537.6 516,548.3 M530.7,532.2 Q522.31,549.06 526.6,567.4 M569.6,530.4 Q554,478.36 508.8,448.2 M504.6,565.2 Q513.34,558.8 516,548.3 M504.6,565.2 Q515.2,570.26 526.6,567.4 M538.2,552.8 Q529.77,558.01 526.6,567.4 M538.2,552.8 Q527.91,546.55 516,548.3 M551.8,567.9 Q539.29,563.11 526.6,567.4 M551.8,567.9 Q537.43,551.66 516,548.3 M540.9,583.5 Q536.65,572.88 526.6,567.4 M527.7,598.8 Q532.8,582.9 526.6,567.4" fill="none" stroke="#2a7e6a" stroke-width="0.55" stroke-opacity="0.85"/>
<path d="M389.8,401.5 Q400.31,397.09 405.6,387 M316.8,410.4 Q307.5,417.1 304.6,428.2 M322.3,432.3 Q314.19,427.06 304.6,428.2 M421.5,368.3 Q410.18,374.79 405.6,387 M425.7,389.2 Q416.05,384.48 405.6,387 M409,407.5 Q410.99,396.64 405.6,387 M300.5,446.3 Q305.81,437.99 304.6,428.2 M494.6,467.8 Q495.53,478.7 503.2,486.5 M483,485.2 Q492.87,489.49 503.2,486.5 M521.7,491.2 Q513.3,485.52 503.2,486.5 M569.6,530.4 Q562.77,539.8 563.5,551.4 M551.8,567.9 Q560.62,561.76 563.5,551.4" fill="none" stroke="#4a5a9c" stroke-width="0.55" stroke-opacity="0.85"/>
<path d="M443.5,385.9 Q452.76,392.34 464,391.4 M550.4,516.6 Q547,526.05 550.4,535.5 M573.7,511.5 Q557.73,519.31 550.4,535.5 M569.6,530.4 Q559.08,529.49 550.4,535.5 M538.2,552.8 Q547.41,546.35 550.4,535.5" fill="none" stroke="#8c6c4c" stroke-width="0.55" stroke-opacity="0.85"/>
<path d="M300.5,446.3 Q293.18,455.02 293.1,466.4 M314.8,459 Q302.62,458.79 293.1,466.4 M314.8,459 Q298.83,468.05 292.3,485.2 M335.6,469.9 Q311.2,469.76 292.3,485.2 M312.7,479 Q301.38,478.43 292.3,485.2 M312.7,479 Q305.17,469.17 293.1,466.4 M329.5,488.2 Q315.22,470.75 293.1,466.4 M367.7,494.8 Q377.55,509.47 394.5,514.5 M387.6,496.6 Q387.83,506.79 394.5,514.5 M312.1,501.1 Q305.06,489.59 292.3,485.2 M332.6,507.3 Q325.27,541.94 341.7,573.3 M354.3,510.3 Q373.64,519.64 394.5,514.5 M374.4,513.5 Q384.27,517.62 394.5,514.5 M295.2,525 Q300.91,504.58 292.3,485.2 M338.7,524.4 Q331.4,549.39 341.7,573.3 M338.7,524.4 Q329.61,567.22 349.9,606 M361.8,531.8 Q381.26,529.04 394.5,514.5 M385.1,533.7 Q393.26,525.79 394.5,514.5 M301.9,541.6 Q316.09,564.61 341.7,573.3 M301.9,541.6 Q314.31,582.44 349.9,606 M321.3,539.2 Q325.36,559.92 341.7,573.3 M321.3,539.2 Q323.58,577.75 349.9,606 M343.4,541.4 Q336.81,557.04 341.7,573.3 M343.4,541.4 Q335.02,574.87 349.9,606 M464,481.1 Q438.87,512.94 439.8,553.5 M409.8,501.1 Q399.74,505.05 394.5,514.5 M489.1,506 Q485.73,526.81 496.4,545 M508.3,508.3 Q495.74,524.51 496.4,545 M422.3,519.5 Q409.3,512 394.5,514.5 M449.7,515.4 Q437.89,532.67 439.8,553.5 M469.3,522 Q478.71,538.38 496.4,545 M490.1,525 Q489.65,536.13 496.4,545 M509.6,527.4 Q499.83,533.82 496.4,545 M437.1,531.8 Q434.54,543.14 439.8,553.5 M575.9,488.9 Q526.05,502.64 496.4,545 M454.4,538.3 Q444.36,543.27 439.8,553.5 M475.1,541 Q485.03,546.83 496.4,545 M475.1,541 Q455.2,540.9 439.8,553.5 M423,544.5 Q429.78,552.02 439.8,553.5 M401.3,545.5 Q403.48,528.78 394.5,514.5 M372,548.8 Q352.44,555.6 341.7,573.3 M309.5,560.2 Q323.24,572.55 341.7,573.3 M309.5,560.2 Q321.46,590.37 349.9,606 M329.5,558.2 Q332.88,567.95 341.7,573.3 M329.5,558.2 Q331.1,585.77 349.9,606 M329.5,558.2 Q369.87,548.05 394.5,514.5 M353,557.6 Q344.52,563.42 341.7,573.3 M353,557.6 Q342.74,581.24 349.9,606 M368.3,569.9 Q354.39,566.81 341.7,573.3 M368.3,569.9 Q352.6,584.64 349.9,606 M320.3,578.6 Q331.95,579.8 341.7,573.3 M320.3,578.6 Q330.17,597.63 349.9,606 M357.1,586.8 Q350.04,595.1 349.9,606 M357.1,586.8 Q351.83,577.28 341.7,573.3 M357.1,586.8 Q355.92,604.51 366.3,618.9 M334.6,592.3 Q339.78,601.9 349.9,606 M334.6,592.3 Q341.57,584.08 341.7,573.3 M371.4,600.5 Q359.66,599.38 349.9,606 M371.4,600.5 Q365.54,608.78 366.3,618.9 M385.1,619.9 Q375.88,616.02 366.3,618.9 M385.1,619.9 Q370,606.61 349.9,606 M399,632.2 Q379.17,610.26 349.9,606 M463.7,558.6 Q452.67,551.75 439.8,553.5 M482.1,561.7 Q492.26,555.92 496.4,545 M471.9,580.1 Q483.27,592.61 500,595 M489.2,579 Q491.72,588.94 500,595 M454.5,589.3 Q453.59,568.75 439.8,553.5 M482.1,602.6 Q492.42,602.02 500,595 M510.5,611 Q508.13,601.11 500,595 M491.3,619.9 Q500.13,609.02 500,595 M455.5,627.1 Q460.9,587.47 439.8,553.5 M473.9,627.7 Q492.84,616.05 500,595 M439.2,631.2 Q399.09,602.53 349.9,606 M540.9,583.5 Q518.38,581.89 500,595 M527.7,598.8 Q514.53,591.91 500,595 M312.7,479 Q305.17,469.17 293.1,466.4 M295.2,525 Q300.91,504.58 292.3,485.2 M301.9,541.6 Q307.25,511.67 292.3,485.2 M309.5,560.2 Q323.24,572.55 341.7,573.3 M320.3,578.6 Q330.17,597.63 349.9,606 M321.3,539.2 Q323.58,577.75 349.9,606 M343.4,541.4 Q336.81,557.04 341.7,573.3" fill="none" stroke="#f6a040" stroke-width="0.55" stroke-opacity="0.85"/>
<path d="M385.1,533.7 Q393.7,552.95 412.6,562.3 M437.1,531.8 Q435.71,553.38 448.4,570.9 M475.1,541 Q456.37,551.14 448.4,570.9 M423,544.5 Q414.6,551.53 412.6,562.3 M401.3,545.5 Q403.93,555.93 412.6,562.3 M401.3,545.5 Q395.82,562.45 402.4,579 M372,548.8 Q381.76,569.37 402.4,579 M387.7,560.7 Q399.86,565.98 412.6,562.3 M387.7,560.7 Q391.76,572.5 402.4,579 M368.3,569.9 Q383.71,580.59 402.4,579 M392.8,599.5 Q401.29,590.98 402.4,579 M392.8,599.5 Q415.98,601.46 435.1,588.2 M392.8,599.5 Q409.4,584.46 412.6,562.3 M399,632.2 Q424.97,616.7 435.1,588.2 M463.7,558.6 Q453.84,562 448.4,570.9 M482.1,561.7 Q463.59,560.23 448.4,570.9 M482.1,561.7 Q494.91,578.51 515.5,583.3 M504.6,565.2 Q506.79,576.21 515.5,583.3 M427.9,570.9 Q428.39,580.85 435.1,588.2 M471.9,580.1 Q461.81,571.27 448.4,570.9 M471.9,580.1 Q452.04,577.53 435.1,588.2 M489.2,579 Q501.58,585.88 515.5,583.3 M489.2,579 Q470.26,567.61 448.4,570.9 M454.5,589.3 Q445,585.26 435.1,588.2 M454.5,589.3 Q454.76,579 448.4,570.9 M414.6,591.3 Q425.41,593.44 435.1,588.2 M414.6,591.3 Q410.71,582.95 402.4,579 M482.1,602.6 Q461.19,586.94 435.1,588.2 M482.1,602.6 Q502.27,598.96 515.5,583.3 M482.1,602.6 Q470.96,580.68 448.4,570.9 M463.7,606.6 Q452.71,592.25 435.1,588.2 M463.7,606.6 Q462.48,586 448.4,570.9 M444.3,607.7 Q443.21,596.29 435.1,588.2 M444.3,607.7 Q452.97,590.04 448.4,570.9 M425.9,608.7 Q434.19,600.11 435.1,588.2 M425.9,608.7 Q443.95,593.85 448.4,570.9 M425.9,608.7 Q419.5,589.62 402.4,579 M406.5,611.7 Q425.03,605.1 435.1,588.2 M406.5,611.7 Q410.34,594.61 402.4,579 M406.5,611.7 Q418.44,588.1 412.6,562.3 M510.5,611 Q517.99,598.05 515.5,583.3 M510.5,611 Q476.9,586.03 435.1,588.2 M510.5,611 Q486.67,579.77 448.4,570.9 M491.3,619.9 Q468.91,593.93 435.1,588.2 M491.3,619.9 Q509.99,605.96 515.5,583.3 M491.3,619.9 Q478.67,587.68 448.4,570.9 M455.5,627.1 Q452.3,603.98 435.1,588.2 M455.5,627.1 Q462.07,597.72 448.4,570.9 M473.9,627.7 Q461.61,600.97 435.1,588.2 M420.8,630.1 Q435.49,611.72 435.1,588.2 M420.8,630.1 Q445.26,605.47 448.4,570.9 M439.2,631.2 Q444.89,608.96 435.1,588.2 M439.2,631.2 Q454.65,602.71 448.4,570.9 M538.2,552.8 Q521.36,563.96 515.5,583.3 M551.8,567.9 Q530.88,569.07 515.5,583.3 M540.9,583.5 Q528.24,578.83 515.5,583.3 M527.7,598.8 Q524.39,588.85 515.5,583.3" fill="none" stroke="#f2707f" stroke-width="0.55" stroke-opacity="0.85"/>
<circle cx="386.3" cy="357.1" r="6.5" fill="#0b5a45"/>
<circle cx="367.3" cy="366" r="6.3" fill="#96285a"/>
<circle cx="347.7" cy="377.2" r="6.1" fill="#66d500"/>
<circle cx="366" cy="386" r="6.5" fill="#1fd3c3"/>
<circle cx="384.3" cy="380.2" r="6.1" fill="#66d500"/>
<circle cx="329.8" cy="392" r="6.1" fill="#00e3f8"/>
<circle cx="348.3" cy="398.4" r="6.1" fill="#66d500"/>
<circle cx="370.6" cy="404.3" r="6.1" fill="#66d500"/>
<circle cx="389.8" cy="401.5" r="6.1" fill="#66d500"/>
<circle cx="316.8" cy="410.4" r="6.1" fill="#ffa585"/>
<circle cx="335.5" cy="414.5" r="6.1" fill="#66d500"/>
<circle cx="356.1" cy="418.2" r="6.1" fill="#66d500"/>
<circle cx="379.5" cy="422" r="6.1" fill="#66d500"/>
<circle cx="304.6" cy="428.2" r="6.3" fill="#2f3f7e"/>
<circle cx="322.3" cy="432.3" r="6.1" fill="#66d500"/>
<circle cx="343.8" cy="434.2" r="6.1" fill="#ffa585"/>
<circle cx="364.2" cy="435.4" r="6.1" fill="#b4bfd6"/>
<circle cx="385" cy="441.5" r="6.8" fill="#0b5a45"/>
<circle cx="409.5" cy="350" r="6.1" fill="#00e3f8"/>
<circle cx="430.5" cy="348.7" r="6.1" fill="#00e3f8"/>
<circle cx="453.8" cy="350.5" r="6.5" fill="#0b5a45"/>
<circle cx="473.8" cy="355.7" r="6.1" fill="#00e3f8"/>
<circle cx="494.2" cy="362.2" r="6.1" fill="#00e3f8"/>
<circle cx="511" cy="372.4" r="6.5" fill="#4f3820"/>
<circle cx="401.3" cy="368.1" r="6.5" fill="#0b5a45"/>
<circle cx="421.5" cy="368.3" r="6.1" fill="#00e3f8"/>
<circle cx="440.1" cy="365.9" r="6.1" fill="#daa50c"/>
<circle cx="459.5" cy="371" r="6.5" fill="#1fd3c3"/>
<circle cx="479.9" cy="376.1" r="6.5" fill="#0b5a45"/>
<circle cx="405.6" cy="387" r="6.3" fill="#2f3f7e"/>
<circle cx="425.7" cy="389.2" r="6.1" fill="#00e3f8"/>
<circle cx="443.5" cy="385.9" r="6.1" fill="#df86dc"/>
<circle cx="464" cy="391.4" r="6.6" fill="#4f3820"/>
<circle cx="484.4" cy="394.5" r="6.1" fill="#00bbff"/>
<circle cx="502.5" cy="388.6" r="6.3" fill="#1fd3c3"/>
<circle cx="525.8" cy="386" r="6.1" fill="#df86dc"/>
<circle cx="409" cy="407.5" r="11.2" fill="#66d500"/>
<circle cx="429.6" cy="408" r="6.1" fill="#ffa585"/>
<circle cx="450.9" cy="405.7" r="6.3" fill="#1fd3c3"/>
<circle cx="473.8" cy="411.9" r="6.1" fill="#00e3f8"/>
<circle cx="497.3" cy="410.8" r="6.1" fill="#00e3f8"/>
<circle cx="516.8" cy="404.5" r="6.1" fill="#00e3f8"/>
<circle cx="540.1" cy="398.2" r="6.1" fill="#00e3f8"/>
<circle cx="551.8" cy="414.7" r="6.1" fill="#00bbff"/>
<circle cx="531.4" cy="417.2" r="6.1" fill="#00e3f8"/>
<circle cx="399" cy="423.5" r="6.1" fill="#66d500"/>
<circle cx="420.8" cy="426.3" r="6.1" fill="#66d500"/>
<circle cx="440.1" cy="425.6" r="6.1" fill="#66d500"/>
<circle cx="459.5" cy="425.6" r="6.1" fill="#66d500"/>
<circle cx="484.4" cy="428.2" r="6.1" fill="#4f6a12"/>
<circle cx="506.6" cy="426.9" r="6.1" fill="#df86dc"/>
<circle cx="562.5" cy="431.5" r="6.1" fill="#df86dc"/>
<circle cx="524.1" cy="434.5" r="6.1" fill="#00e3f8"/>
<circle cx="543.8" cy="436.6" r="6.1" fill="#df86dc"/>
<circle cx="508.8" cy="448.2" r="6.8" fill="#0b5a45"/>
<circle cx="568.6" cy="450" r="6.1" fill="#00e3f8"/>
<circle cx="529.6" cy="454" r="6.1" fill="#df86dc"/>
<circle cx="550.4" cy="457.3" r="6.1" fill="#00e3f8"/>
<circle cx="300.5" cy="446.3" r="6.1" fill="#df86dc"/>
<circle cx="331.1" cy="449.4" r="6.1" fill="#1892ba"/>
<circle cx="314.8" cy="459" r="6.1" fill="#ffa585"/>
<circle cx="352" cy="455.3" r="6.1" fill="#66d500"/>
<circle cx="372.1" cy="457" r="6.1" fill="#ff7bff"/>
<circle cx="393.3" cy="461" r="6.1" fill="#66d500"/>
<circle cx="293.1" cy="466.4" r="6.6" fill="#ff8000"/>
<circle cx="335.6" cy="469.9" r="6.1" fill="#df86dc"/>
<circle cx="358.2" cy="473.4" r="6.1" fill="#66d500"/>
<circle cx="378.7" cy="476.5" r="6.1" fill="#66d500"/>
<circle cx="399.9" cy="480.7" r="6.1" fill="#66d500"/>
<circle cx="312.7" cy="479" r="6.1" fill="#daa50c"/>
<circle cx="292.3" cy="485.2" r="6.6" fill="#ff8000"/>
<circle cx="329.5" cy="488.2" r="6.1" fill="#66d500"/>
<circle cx="348.9" cy="490.3" r="6.1" fill="#66d500"/>
<circle cx="367.7" cy="494.8" r="6.1" fill="#06cc62"/>
<circle cx="387.6" cy="496.6" r="6.1" fill="#00bbff"/>
<circle cx="291.7" cy="503.6" r="6.5" fill="#1fd3c3"/>
<circle cx="312.1" cy="501.1" r="6.1" fill="#00bbff"/>
<circle cx="332.6" cy="507.3" r="6.1" fill="#df86dc"/>
<circle cx="354.3" cy="510.3" r="6.1" fill="#66d500"/>
<circle cx="374.4" cy="513.5" r="6.1" fill="#00e3f8"/>
<circle cx="394.5" cy="514.5" r="6.8" fill="#ff8000"/>
<circle cx="315.2" cy="520.9" r="6.1" fill="#06cc62"/>
<circle cx="295.2" cy="525" r="6.1" fill="#df86dc"/>
<circle cx="338.7" cy="524.4" r="6.1" fill="#4f6a12"/>
<circle cx="361.8" cy="531.8" r="6.1" fill="#4f6a12"/>
<circle cx="385.1" cy="533.7" r="6.1" fill="#66d500"/>
<circle cx="301.9" cy="541.6" r="6.1" fill="#4f6a12"/>
<circle cx="321.3" cy="539.2" r="6.1" fill="#daa50c"/>
<circle cx="343.4" cy="541.4" r="6.1" fill="#daa50c"/>
<circle cx="405.5" cy="443.9" r="6.1" fill="#96285a"/>
<circle cx="426.2" cy="445.5" r="6.1" fill="#df86dc"/>
<circle cx="448.2" cy="444.3" r="6.1" fill="#06cc62"/>
<circle cx="469.3" cy="445.3" r="6.1" fill="#df86dc"/>
<circle cx="490.1" cy="445.3" r="6.1" fill="#00bbff"/>
<circle cx="413.9" cy="463.8" r="6.1" fill="#ffa585"/>
<circle cx="435" cy="461.7" r="6.1" fill="#ff7bff"/>
<circle cx="455" cy="463.7" r="6.1" fill="#66d500"/>
<circle cx="475.8" cy="463.7" r="6.1" fill="#df86dc"/>
<circle cx="494.6" cy="467.8" r="6.1" fill="#df86dc"/>
<circle cx="515.8" cy="468.5" r="6.1" fill="#00e3f8"/>
<circle cx="420" cy="483.5" r="6.1" fill="#df86dc"/>
<circle cx="438.5" cy="480" r="6.1" fill="#66d500"/>
<circle cx="464" cy="481.1" r="6.1" fill="#66d500"/>
<circle cx="483" cy="485.2" r="6.1" fill="#4f6a12"/>
<circle cx="503.2" cy="486.5" r="6.5" fill="#2f3f7e"/>
<circle cx="521.7" cy="491.2" r="6.1" fill="#df86dc"/>
<circle cx="409.8" cy="501.1" r="6.1" fill="#c2bf6e"/>
<circle cx="431.9" cy="502.6" r="6.1" fill="#00e3f8"/>
<circle cx="450.3" cy="495.4" r="6.1" fill="#ff5fbf"/>
<circle cx="469.3" cy="502.6" r="6.1" fill="#daa50c"/>
<circle cx="489.1" cy="506" r="6.1" fill="#daa50c"/>
<circle cx="508.3" cy="508.3" r="6.1" fill="#66d500"/>
<circle cx="422.3" cy="519.5" r="6.3" fill="#c2600f"/>
<circle cx="408.2" cy="528.8" r="7" fill="#1fd3c3"/>
<circle cx="449.7" cy="515.4" r="6.1" fill="#a3a3ff"/>
<circle cx="469.3" cy="522" r="6.1" fill="#ffa585"/>
<circle cx="490.1" cy="525" r="6.1" fill="#00e3f8"/>
<circle cx="509.6" cy="527.4" r="6.1" fill="#df86dc"/>
<circle cx="437.1" cy="531.8" r="6.1" fill="#df86dc"/>
<circle cx="535.3" cy="474.7" r="6.1" fill="#96285a"/>
<circle cx="554.7" cy="477.2" r="6.1" fill="#df86dc"/>
<circle cx="573" cy="468.5" r="6.1" fill="#00e3f8"/>
<circle cx="575.9" cy="488.9" r="6.1" fill="#00e3f8"/>
<circle cx="540.1" cy="496.2" r="6.1" fill="#df86dc"/>
<circle cx="558.4" cy="498.1" r="6.1" fill="#ff7bff"/>
<circle cx="529.2" cy="513.7" r="6.1" fill="#df86dc"/>
<circle cx="550.4" cy="516.6" r="6.1" fill="#df86dc"/>
<circle cx="573.7" cy="511.5" r="6.1" fill="#df86dc"/>
<circle cx="530.7" cy="532.2" r="6.1" fill="#df86dc"/>
<circle cx="550.4" cy="535.5" r="7.2" fill="#4f3820"/>
<circle cx="569.6" cy="530.4" r="6.1" fill="#df86dc"/>
<circle cx="454.4" cy="538.3" r="6.1" fill="#df86dc"/>
<circle cx="475.1" cy="541" r="6.1" fill="#df86dc"/>
<circle cx="496.4" cy="545" r="6.8" fill="#ff8000"/>
<circle cx="516" cy="548.3" r="6.8" fill="#0b5a45"/>
<circle cx="423" cy="544.5" r="6.1" fill="#df86dc"/>
<circle cx="401.3" cy="545.5" r="6.1" fill="#df86dc"/>
<circle cx="372" cy="548.8" r="6.1" fill="#66cdaa"/>
<circle cx="309.5" cy="560.2" r="6.1" fill="#00bbff"/>
<circle cx="329.5" cy="558.2" r="6.1" fill="#66d500"/>
<circle cx="353" cy="557.6" r="6.1" fill="#daa50c"/>
<circle cx="387.7" cy="560.7" r="6.1" fill="#df86dc"/>
<circle cx="368.3" cy="569.9" r="6.1" fill="#df86dc"/>
<circle cx="341.7" cy="573.3" r="7.2" fill="#ff8000"/>
<circle cx="320.3" cy="578.6" r="6.1" fill="#df86dc"/>
<circle cx="357.1" cy="586.8" r="6.1" fill="#df86dc"/>
<circle cx="382.8" cy="582.5" r="6.6" fill="#2f3f7e"/>
<circle cx="334.6" cy="592.3" r="6.1" fill="#df86dc"/>
<circle cx="349.9" cy="606" r="9.2" fill="#ff8000"/>
<circle cx="371.4" cy="600.5" r="6.1" fill="#df86dc"/>
<circle cx="392.8" cy="599.5" r="6.1" fill="#df86dc"/>
<circle cx="366.3" cy="618.9" r="6.6" fill="#ff8000"/>
<circle cx="385.1" cy="619.9" r="6.1" fill="#df86dc"/>
<circle cx="399" cy="632.2" r="6.1" fill="#df86dc"/>
<circle cx="439.8" cy="553.5" r="7.2" fill="#ff8000"/>
<circle cx="463.7" cy="558.6" r="6.1" fill="#df86dc"/>
<circle cx="482.1" cy="561.7" r="6.1" fill="#06cc62"/>
<circle cx="504.6" cy="565.2" r="6.1" fill="#df86dc"/>
<circle cx="526.6" cy="567.4" r="6.8" fill="#0b5a45"/>
<circle cx="412.6" cy="562.3" r="6.6" fill="#f0475f"/>
<circle cx="448.4" cy="570.9" r="7" fill="#f0475f"/>
<circle cx="427.9" cy="570.9" r="6.1" fill="#df86dc"/>
<circle cx="402.4" cy="579" r="6.6" fill="#f0475f"/>
<circle cx="471.9" cy="580.1" r="6.1" fill="#df86dc"/>
<circle cx="489.2" cy="579" r="6.1" fill="#df86dc"/>
<circle cx="515.5" cy="583.3" r="7" fill="#f0475f"/>
<circle cx="435.1" cy="588.2" r="7" fill="#f0475f"/>
<circle cx="454.5" cy="589.3" r="6.1" fill="#df86dc"/>
<circle cx="414.6" cy="591.3" r="6.1" fill="#df86dc"/>
<circle cx="500" cy="595" r="6.8" fill="#ff8000"/>
<circle cx="482.1" cy="602.6" r="6.1" fill="#df86dc"/>
<circle cx="463.7" cy="606.6" r="6.1" fill="#df86dc"/>
<circle cx="444.3" cy="607.7" r="6.1" fill="#df86dc"/>
<circle cx="425.9" cy="608.7" r="6.1" fill="#df86dc"/>
<circle cx="406.5" cy="611.7" r="6.1" fill="#df86dc"/>
<circle cx="510.5" cy="611" r="6.1" fill="#df86dc"/>
<circle cx="491.3" cy="619.9" r="6.1" fill="#df86dc"/>
<circle cx="455.5" cy="627.1" r="6.1" fill="#66d500"/>
<circle cx="473.9" cy="627.7" r="6.1" fill="#df86dc"/>
<circle cx="420.8" cy="630.1" r="6.1" fill="#df86dc"/>
<circle cx="439.2" cy="631.2" r="6.1" fill="#df86dc"/>
<circle cx="538.2" cy="552.8" r="6.1" fill="#df86dc"/>
<circle cx="563.5" cy="551.4" r="6.8" fill="#2f3f7e"/>
<circle cx="551.8" cy="567.9" r="6.1" fill="#df86dc"/>
<circle cx="540.9" cy="583.5" r="6.1" fill="#00e3f8"/>
<circle cx="527.7" cy="598.8" r="6.1" fill="#df86dc"/>
<text x="386.3" y="358.5" font-size="4.3" text-anchor="middle" fill="#1a1a1a">Cancer: specific types</text>
<text x="367.3" y="367.4" font-size="4" text-anchor="middle" fill="#1a1a1a">g__Marinilabilia</text>
<text x="347.7" y="378.6" font-size="4" text-anchor="middle" fill="#1a1a1a">g__Tyzzerella</text>
<text x="366" y="387.4" font-size="4.3" text-anchor="middle" fill="#1a1a1a">Nervous system</text>
<text x="384.3" y="381.6" font-size="4" text-anchor="middle" fill="#1a1a1a">g__Agathobacter</text>
<text x="329.8" y="393.4" font-size="4" text-anchor="middle" fill="#1a1a1a">g__Streptobacillus</text>
<text x="348.3" y="399.8" font-size="4" text-anchor="middle" fill="#1a1a1a">g__Caminicella</text>
<text x="370.6" y="405.7" font-size="4" text-anchor="middle" fill="#1a1a1a">g__Pseudobutyrivibrio</text>
<text x="389.8" y="402.9" font-size="4" text-anchor="middle" fill="#1a1a1a">g__Tepidibacter</text>
<text x="316.8" y="411.8" font-size="4" text-anchor="middle" fill="#1a1a1a">g__Fusobacterium</text>
<text x="335.5" y="415.9" font-size="4" text-anchor="middle" fill="#1a1a1a">g__Rathewsia</text>
<text x="356.1" y="419.6" font-size="4" text-anchor="middle" fill="#1a1a1a">g__Sarcina</text>
<text x="379.5" y="423.4" font-size="4" text-anchor="middle" fill="#1a1a1a">g__Mordavella</text>
<text x="304.6" y="429.6" font-size="4.3" text-anchor="middle" fill="#1a1a1a">Cell motility</text>
<text x="322.3" y="433.7" font-size="4" text-anchor="middle" fill="#1a1a1a">g__Acetoanaerobium</text>
<text x="343.8" y="435.6" font-size="4" text-anchor="middle" fill="#1a1a1a">g__Syntrophus</text>
<text x="364.2" y="436.8" font-size="4" text-anchor="middle" fill="#1a1a1a">g__Parasphaerochaeta</text>
<text x="385" y="442.9" font-size="4.3" text-anchor="middle" fill="#1a1a1a">Endocrine and metabolic disease</text>
<text x="409.5" y="351.4" font-size="4" text-anchor="middle" fill="#1a1a1a">g__Rhodococcus</text>
<text x="430.5" y="350.1" font-size="4" text-anchor="middle" fill="#1a1a1a">g__Coprobacter</text>
<text x="453.8" y="351.9" font-size="4.3" text-anchor="middle" fill="#1a1a1a">Neurodegenerative disease</text>
<text x="473.8" y="357.1" font-size="4" text-anchor="middle" fill="#1a1a1a">g__Oleiphilus</text>
<text x="494.2" y="363.6" font-size="4" text-anchor="middle" fill="#1a1a1a">g__Nonomuraea</text>
<text x="511" y="371.54" font-size="4.3" text-anchor="middle" fill="#1a1a1a">Signaling molecules and</text>
<text x="511" y="376.06" font-size="4.3" text-anchor="middle" fill="#1a1a1a">interaction</text>
<text x="401.3" y="369.5" font-size="4.3" text-anchor="middle" fill="#1a1a1a">Infectious disease: parasitic</text>
<text x="421.5" y="369.7" font-size="4" text-anchor="middle" fill="#1a1a1a">g__Leifsonia</text>
<text x="440.1" y="367.3" font-size="4" text-anchor="middle" fill="#1a1a1a">g__Arcobacter</text>
<text x="459.5" y="372.4" font-size="4.3" text-anchor="middle" fill="#1a1a1a">Environmental adaptation</text>
<text x="479.9" y="377.5" font-size="4.3" text-anchor="middle" fill="#1a1a1a">Infectious disease: viral</text>
<text x="405.6" y="388.4" font-size="4.3" text-anchor="middle" fill="#1a1a1a">Transport and catabolism</text>
<text x="425.7" y="390.6" font-size="4" text-anchor="middle" fill="#1a1a1a">g__Streptomyces</text>
<text x="443.5" y="387.3" font-size="4" text-anchor="middle" fill="#1a1a1a">g__Bdellovibrio</text>
<text x="464" y="392.8" font-size="4.3" text-anchor="middle" fill="#1a1a1a">Signal transduction</text>
<text x="484.4" y="395.9" font-size="4" text-anchor="middle" fill="#1a1a1a">g__Cyanobium</text>
<text x="502.5" y="390" font-size="4.3" text-anchor="middle" fill="#1a1a1a">Circulatory system</text>
<text x="525.8" y="387.4" font-size="4" text-anchor="middle" fill="#1a1a1a">g__Prolixibacter</text>
<text x="398.4" y="410.6" font-size="7.5" fill="#111">Clostridium</text>
<text x="386" y="410.3" font-size="4.2" fill="#111">g__</text>
<text x="429.6" y="409.4" font-size="4" text-anchor="middle" fill="#1a1a1a">g__Streptobacillus</text>
<text x="450.9" y="407.1" font-size="4.3" text-anchor="middle" fill="#1a1a1a">Digestive system</text>
<text x="473.8" y="413.3" font-size="4" text-anchor="middle" fill="#1a1a1a">g__Phycicoccus</text>
<text x="497.3" y="412.2" font-size="4" text-anchor="middle" fill="#1a1a1a">g__Paenarthrobacter</text>
<text x="516.8" y="405.9" font-size="4" text-anchor="middle" fill="#1a1a1a">g__Rathayibacter</text>
<text x="540.1" y="399.6" font-size="4" text-anchor="middle" fill="#1a1a1a">g__Nocardioides</text>
<text x="551.8" y="416.1" font-size="4" text-anchor="middle" fill="#1a1a1a">g__Hydrella</text>
<text x="531.4" y="418.6" font-size="4" text-anchor="middle" fill="#1a1a1a">g__Pimelobacter</text>
<text x="399" y="424.9" font-size="4" text-anchor="middle" fill="#1a1a1a">g__Hungatella</text>
<text x="420.8" y="427.7" font-size="4" text-anchor="middle" fill="#1a1a1a">g__Roseburia</text>
<text x="440.1" y="427" font-size="4" text-anchor="middle" fill="#1a1a1a">g__Faecalibacterium</text>
<text x="459.5" y="427" font-size="4" text-anchor="middle" fill="#1a1a1a">g__Geobacillus</text>
<text x="484.4" y="429.6" font-size="4" text-anchor="middle" fill="#1a1a1a">g__Rikenella</text>
<text x="506.6" y="428.3" font-size="4" text-anchor="middle" fill="#1a1a1a">g__Yersinia</text>
<text x="562.5" y="432.9" font-size="4" text-anchor="middle" fill="#1a1a1a">g__Cognatishimia</text>
<text x="524.1" y="435.9" font-size="4" text-anchor="middle" fill="#1a1a1a">g__Cellulosimicrobium</text>
<text x="543.8" y="438" font-size="4" text-anchor="middle" fill="#1a1a1a">g__Nissolia</text>
<text x="508.8" y="449.6" font-size="4.3" text-anchor="middle" fill="#1a1a1a">Cancer: overview</text>
<text x="568.6" y="451.4" font-size="4" text-anchor="middle" fill="#1a1a1a">g__Actinokineospora</text>
<text x="529.6" y="455.4" font-size="4" text-anchor="middle" fill="#1a1a1a">g__Erwinia</text>
<text x="550.4" y="458.7" font-size="4" text-anchor="middle" fill="#1a1a1a">g__Isoptericola</text>
<text x="300.5" y="447.7" font-size="4" text-anchor="middle" fill="#1a1a1a">g__Lachnobacter</text>
<text x="331.1" y="450.8" font-size="4" text-anchor="middle" fill="#1a1a1a">g__Caldisericum</text>
<text x="314.8" y="460.4" font-size="4" text-anchor="middle" fill="#1a1a1a">g__Cetobacterium</text>
<text x="352" y="456.7" font-size="4" text-anchor="middle" fill="#1a1a1a">g__Caproiciproducens</text>
<text x="372.1" y="458.4" font-size="4" text-anchor="middle" fill="#1a1a1a">g__Brachyspira</text>
<text x="393.3" y="462.4" font-size="4" text-anchor="middle" fill="#1a1a1a">g__Ilyobacter</text>
<text x="293.1" y="465.54" font-size="4.3" text-anchor="middle" fill="#1a1a1a">Biosynthesis of other</text>
<text x="293.1" y="470.06" font-size="4.3" text-anchor="middle" fill="#1a1a1a">secondary metabolites</text>
<text x="335.6" y="471.3" font-size="4" text-anchor="middle" fill="#1a1a1a">g__Ureaplasma</text>
<text x="358.2" y="474.8" font-size="4" text-anchor="middle" fill="#1a1a1a">g__Alkaliphilus</text>
<text x="378.7" y="477.9" font-size="4" text-anchor="middle" fill="#1a1a1a">g__Alkaliphilus</text>
<text x="399.9" y="482.1" font-size="4" text-anchor="middle" fill="#1a1a1a">g__Peptostreptococcus</text>
<text x="312.7" y="480.4" font-size="4" text-anchor="middle" fill="#1a1a1a">g__Nitrosophilus</text>
<text x="292.3" y="484.34" font-size="4.3" text-anchor="middle" fill="#1a1a1a">Metabolism of terpenoids</text>
<text x="292.3" y="488.86" font-size="4.3" text-anchor="middle" fill="#1a1a1a">and polyketides</text>
<text x="329.5" y="489.6" font-size="4" text-anchor="middle" fill="#1a1a1a">g__Halanaerobium</text>
<text x="348.9" y="491.7" font-size="4" text-anchor="middle" fill="#1a1a1a">g__Cellulosilyticum</text>
<text x="367.7" y="496.2" font-size="4" text-anchor="middle" fill="#1a1a1a">g__Thermodesulfovibrio</text>
<text x="387.6" y="498" font-size="4" text-anchor="middle" fill="#1a1a1a">g__Fischerella</text>
<text x="291.7" y="505" font-size="4.3" text-anchor="middle" fill="#1a1a1a">Immune system</text>
<text x="312.1" y="502.5" font-size="4" text-anchor="middle" fill="#1a1a1a">g__Prochlorococcus</text>
<text x="332.6" y="508.7" font-size="4" text-anchor="middle" fill="#1a1a1a">g__Hydrogenovibrio</text>
<text x="354.3" y="511.7" font-size="4" text-anchor="middle" fill="#1a1a1a">g__Saccharofermentans</text>
<text x="394.5" y="515.9" font-size="4.3" text-anchor="middle" fill="#1a1a1a">Not included in regular maps</text>
<text x="315.2" y="522.3" font-size="4" text-anchor="middle" fill="#1a1a1a">g__Thermodesulfobacterium</text>
<text x="295.2" y="526.4" font-size="4" text-anchor="middle" fill="#1a1a1a">g__Taurinivorans</text>
<text x="338.7" y="525.8" font-size="4" text-anchor="middle" fill="#1a1a1a">g__Sulfurospirillum</text>
<text x="361.8" y="533.2" font-size="4" text-anchor="middle" fill="#1a1a1a">g__Lutibacter</text>
<text x="385.1" y="535.1" font-size="4" text-anchor="middle" fill="#1a1a1a">g__Bulleidia</text>
<text x="301.9" y="543" font-size="4" text-anchor="middle" fill="#1a1a1a">g__Fermentimonas</text>
<text x="321.3" y="540.6" font-size="4" text-anchor="middle" fill="#1a1a1a">g__Haloarcula</text>
<text x="343.4" y="542.8" font-size="4" text-anchor="middle" fill="#1a1a1a">g__Pseudobacter</text>
<text x="405.5" y="445.3" font-size="4" text-anchor="middle" fill="#1a1a1a">g__Thermotoga</text>
<text x="426.2" y="446.9" font-size="4" text-anchor="middle" fill="#1a1a1a">g__Psionia</text>
<text x="448.2" y="445.7" font-size="4" text-anchor="middle" fill="#1a1a1a">g__Desulfovibrio</text>
<text x="469.3" y="446.7" font-size="4" text-anchor="middle" fill="#1a1a1a">g__Schlegelella</text>
<text x="490.1" y="446.7" font-size="4" text-anchor="middle" fill="#1a1a1a">g__Moorella</text>
<text x="413.9" y="465.2" font-size="4" text-anchor="middle" fill="#1a1a1a">g__Fusobacterium</text>
<text x="435" y="463.1" font-size="4" text-anchor="middle" fill="#1a1a1a">g__Leptospira</text>
<text x="455" y="465.1" font-size="4" text-anchor="middle" fill="#1a1a1a">g__Sphingobacterium</text>
<text x="475.8" y="465.1" font-size="4" text-anchor="middle" fill="#1a1a1a">g__Cronobacter</text>
<text x="494.6" y="469.2" font-size="4" text-anchor="middle" fill="#1a1a1a">g__Moellerella</text>
<text x="515.8" y="469.9" font-size="4" text-anchor="middle" fill="#1a1a1a">g__Paracoccus</text>
<text x="420" y="484.9" font-size="4" text-anchor="middle" fill="#1a1a1a">g__Methylovorus</text>
<text x="438.5" y="481.4" font-size="4" text-anchor="middle" fill="#1a1a1a">g__Caldicellulosiruptor</text>
<text x="464" y="482.5" font-size="4" text-anchor="middle" fill="#1a1a1a">g__Paenibacillus</text>
<text x="483" y="486.6" font-size="4" text-anchor="middle" fill="#1a1a1a">g__Pedobacter</text>
<text x="503.2" y="487.9" font-size="4.3" text-anchor="middle" fill="#1a1a1a">Cell growth and death</text>
<text x="521.7" y="492.6" font-size="4" text-anchor="middle" fill="#1a1a1a">g__Cobetia</text>
<text x="409.8" y="502.5" font-size="4" text-anchor="middle" fill="#1a1a1a">g__Acholeplasma</text>
<text x="431.9" y="504" font-size="4" text-anchor="middle" fill="#1a1a1a">g__Stuartella</text>
<text x="450.3" y="496.8" font-size="4" text-anchor="middle" fill="#1a1a1a">g__Ignavibacterium</text>
<text x="469.3" y="504" font-size="4" text-anchor="middle" fill="#1a1a1a">g__Hippea</text>
<text x="489.1" y="507.4" font-size="4" text-anchor="middle" fill="#1a1a1a">g__Sulfurihydrogenibium</text>
<text x="508.3" y="509.7" font-size="4" text-anchor="middle" fill="#1a1a1a">g__Ezakiella</text>
<text x="422.3" y="520.9" font-size="4" text-anchor="middle" fill="#1a1a1a">g__Bdellovibrio</text>
<text x="408.2" y="530.2" font-size="4.3" text-anchor="middle" fill="#1a1a1a">Aging</text>
<text x="449.7" y="516.8" font-size="4" text-anchor="middle" fill="#1a1a1a">g__Chlamydia</text>
<text x="469.3" y="523.4" font-size="4" text-anchor="middle" fill="#1a1a1a">g__Halioglobus</text>
<text x="490.1" y="526.4" font-size="4" text-anchor="middle" fill="#1a1a1a">g__Demequina</text>
<text x="509.6" y="528.8" font-size="4" text-anchor="middle" fill="#1a1a1a">g__Buchnera</text>
<text x="437.1" y="533.2" font-size="4" text-anchor="middle" fill="#1a1a1a">g__Pusillimonas</text>
<text x="535.3" y="476.1" font-size="4" text-anchor="middle" fill="#1a1a1a">g__Fervidobacterium</text>
<text x="554.7" y="478.6" font-size="4" text-anchor="middle" fill="#1a1a1a">g__Halomonas</text>
<text x="573" y="469.9" font-size="4" text-anchor="middle" fill="#1a1a1a">g__Cellulomonas</text>
<text x="575.9" y="490.3" font-size="4" text-anchor="middle" fill="#1a1a1a">g__Pelosinus</text>
<text x="540.1" y="497.6" font-size="4" text-anchor="middle" fill="#1a1a1a">g__Methylophaga</text>
<text x="558.4" y="499.5" font-size="4" text-anchor="middle" fill="#1a1a1a">g__Treponema</text>
<text x="529.2" y="515.1" font-size="4" text-anchor="middle" fill="#1a1a1a">g__Doolittlea</text>
<text x="550.4" y="518" font-size="4" text-anchor="middle" fill="#1a1a1a">g__Pruthia</text>
<text x="573.7" y="512.9" font-size="4" text-anchor="middle" fill="#1a1a1a">g__Allobaculum</text>
<text x="530.7" y="533.6" font-size="4" text-anchor="middle" fill="#1a1a1a">g__Frateuria</text>
<text x="550.4" y="536.9" font-size="4.8" text-anchor="middle" fill="#1a1a1a">Membrane transport</text>
<text x="569.6" y="531.8" font-size="4" text-anchor="middle" fill="#1a1a1a">g__Siccibacter</text>
<text x="454.4" y="539.7" font-size="4" text-anchor="middle" fill="#1a1a1a">g__Candidatus_Campylobacter</text>
<text x="475.1" y="542.4" font-size="4" text-anchor="middle" fill="#1a1a1a">g__Rhodobacter</text>
<text x="496.4" y="546.4" font-size="4.1" text-anchor="middle" fill="#1a1a1a">Energy metabolism</text>
<text x="516" y="549.7" font-size="4.3" text-anchor="middle" fill="#1a1a1a">Infectious disease: bacterial</text>
<text x="423" y="545.9" font-size="4" text-anchor="middle" fill="#1a1a1a">g__Morbilli</text>
<text x="401.3" y="546.9" font-size="4" text-anchor="middle" fill="#1a1a1a">g__Ralstonia</text>
<text x="372" y="550.2" font-size="4" text-anchor="middle" fill="#1a1a1a">g__Candidatus_Chloroploca</text>
<text x="309.5" y="561.6" font-size="4" text-anchor="middle" fill="#1a1a1a">g__Rippkaea</text>
<text x="329.5" y="559.6" font-size="4" text-anchor="middle" fill="#1a1a1a">g__Pelotalea</text>
<text x="353" y="559" font-size="4" text-anchor="middle" fill="#1a1a1a">g__Campylobacter</text>
<text x="387.7" y="562.1" font-size="4" text-anchor="middle" fill="#1a1a1a">g__Pseudomonas</text>
<text x="368.3" y="571.3" font-size="4" text-anchor="middle" fill="#1a1a1a">g__Undibacter</text>
<text x="341.7" y="574.7" font-size="4.9" text-anchor="middle" fill="#1a1a1a">Metabolism of cofactors and vitamins</text>
<text x="320.3" y="580" font-size="4" text-anchor="middle" fill="#1a1a1a">g__Legionella</text>
<text x="357.1" y="588.2" font-size="4" text-anchor="middle" fill="#1a1a1a">g__Porphyrobacter</text>
<text x="382.8" y="581.64" font-size="4.3" text-anchor="middle" fill="#1a1a1a">Cellular community</text>
<text x="382.8" y="586.16" font-size="4.3" text-anchor="middle" fill="#1a1a1a">- eukaryotes</text>
<text x="334.6" y="593.7" font-size="4" text-anchor="middle" fill="#1a1a1a">g__Glaciecola</text>
<text x="353.2" y="608" font-size="6.2" text-anchor="middle" fill="#111">Carbohydrate metabolism</text>
<text x="371.4" y="601.9" font-size="4" text-anchor="middle" fill="#1a1a1a">g__Aeromonas</text>
<text x="392.8" y="600.9" font-size="4" text-anchor="middle" fill="#1a1a1a">g__Desulfofustis</text>
<text x="366.3" y="618.04" font-size="4.3" text-anchor="middle" fill="#1a1a1a">Glycan biosynthesis</text>
<text x="366.3" y="622.56" font-size="4.3" text-anchor="middle" fill="#1a1a1a">and metabolism</text>
<text x="385.1" y="621.3" font-size="4" text-anchor="middle" fill="#1a1a1a">g__Agarivorans</text>
<text x="399" y="633.6" font-size="4" text-anchor="middle" fill="#1a1a1a">g__Pseudoalteromonas</text>
<text x="439.8" y="554.9" font-size="4.5" text-anchor="middle" fill="#1a1a1a">Nucleotide metabolism</text>
<text x="463.7" y="560" font-size="4" text-anchor="middle" fill="#1a1a1a">g__Shewanella</text>
<text x="482.1" y="563.1" font-size="4" text-anchor="middle" fill="#1a1a1a">g__Desulfuromonas</text>
<text x="504.6" y="566.6" font-size="4" text-anchor="middle" fill="#1a1a1a">g__Rhodovulum</text>
<text x="526.6" y="568.8" font-size="4.3" text-anchor="middle" fill="#1a1a1a">Drug resistance: antimicrobial</text>
<text x="412.6" y="563.7" font-size="4.4" text-anchor="middle" fill="#1a1a1a">Translation</text>
<text x="448.4" y="572.3" font-size="4.3" text-anchor="middle" fill="#1a1a1a">Replication and repair</text>
<text x="427.9" y="572.3" font-size="4" text-anchor="middle" fill="#1a1a1a">g__Fonsibacter</text>
<text x="402.4" y="580.4" font-size="4.3" text-anchor="middle" fill="#1a1a1a">Folding, sorting and degradation</text>
<text x="471.9" y="581.5" font-size="4" text-anchor="middle" fill="#1a1a1a">g__Kineococcus</text>
<text x="489.2" y="580.4" font-size="4" text-anchor="middle" fill="#1a1a1a">g__Mucilaginibacter</text>
<text x="515.5" y="584.7" font-size="4.7" text-anchor="middle" fill="#1a1a1a">Information processing in viruses</text>
<text x="435.1" y="589.6" font-size="4.4" text-anchor="middle" fill="#1a1a1a">Transcription</text>
<text x="454.5" y="590.7" font-size="4" text-anchor="middle" fill="#1a1a1a">g__Kosakonia</text>
<text x="414.6" y="592.7" font-size="4" text-anchor="middle" fill="#1a1a1a">g__Marinobacter</text>
<text x="500" y="594.14" font-size="4.3" text-anchor="middle" fill="#1a1a1a">Xenobiotics biodegradation</text>
<text x="500" y="598.66" font-size="4.3" text-anchor="middle" fill="#1a1a1a">and metabolism</text>
<text x="482.1" y="604" font-size="4" text-anchor="middle" fill="#1a1a1a">g__Pseudopropionibacterium</text>
<text x="463.7" y="608" font-size="4" text-anchor="middle" fill="#1a1a1a">g__Pseudoalteromonas</text>
<text x="444.3" y="609.1" font-size="4" text-anchor="middle" fill="#1a1a1a">g__Candidatus</text>
<text x="425.9" y="610.1" font-size="4" text-anchor="middle" fill="#1a1a1a">g__Psychrobacter</text>
<text x="406.5" y="613.1" font-size="4" text-anchor="middle" fill="#1a1a1a">g__Vibrio</text>
<text x="510.5" y="612.4" font-size="4" text-anchor="middle" fill="#1a1a1a">g__Candidatus_Fukatsuia</text>
<text x="491.3" y="621.3" font-size="4" text-anchor="middle" fill="#1a1a1a">g__Pseudoshewanella</text>
<text x="455.5" y="628.5" font-size="4" text-anchor="middle" fill="#1a1a1a">g__Aminobacterium</text>
<text x="473.9" y="629.1" font-size="4" text-anchor="middle" fill="#1a1a1a">g__Sneathiella</text>
<text x="420.8" y="631.5" font-size="4" text-anchor="middle" fill="#1a1a1a">g__Caldithrix</text>
<text x="439.2" y="632.6" font-size="4" text-anchor="middle" fill="#1a1a1a">g__Wohlfahrtiimonas</text>
<text x="538.2" y="554.2" font-size="4" text-anchor="middle" fill="#1a1a1a">g__Cedecea</text>
<text x="563.5" y="550.54" font-size="4.3" text-anchor="middle" fill="#1a1a1a">Cellular community</text>
<text x="563.5" y="555.06" font-size="4.3" text-anchor="middle" fill="#1a1a1a">- prokaryotes</text>
<text x="551.8" y="569.3" font-size="4" text-anchor="middle" fill="#1a1a1a">g__Moranella</text>
<text x="540.9" y="584.9" font-size="4" text-anchor="middle" fill="#1a1a1a">g__Pluralibacter</text>
<text x="527.7" y="600.2" font-size="4" text-anchor="middle" fill="#1a1a1a">g__Scandinavium</text>
<rect x="594.4" y="342.3" width="82" height="293.6" rx="5.5" fill="none" stroke="#f5953e" stroke-width="0.9"/>
<text x="636.2" y="353.7" font-size="6.45" text-anchor="middle" font-weight="bold" fill="#111">Bacteria phylum</text>
<circle cx="600.5" cy="364.7" r="4.1" fill="#df86dc"/>
<text x="606.4" y="366.7" font-size="5.6" fill="#222">p_Pseudomonadota</text>
<circle cx="600.5" cy="380.82" r="4.1" fill="#66d500"/>
<text x="606.4" y="382.82" font-size="5.6" fill="#222">p_Bacillota</text>
<circle cx="600.5" cy="396.94" r="4.1" fill="#66cdaa"/>
<text x="606.4" y="398.94" font-size="5.6" fill="#222">p_unclassified</text>
<circle cx="600.5" cy="413.06" r="4.1" fill="#a3a3ff"/>
<text x="606.4" y="415.06" font-size="5.6" fill="#222">p_Chlamydiota</text>
<circle cx="600.5" cy="429.18" r="4.1" fill="#ff5fbf"/>
<text x="606.4" y="431.18" font-size="5.6" fill="#222">p_Ignavibacteriota</text>
<circle cx="600.5" cy="445.3" r="4.1" fill="#daa50c"/>
<text x="606.4" y="447.3" font-size="5.6" fill="#222">p_Campylobacterota</text>
<circle cx="600.5" cy="461.42" r="4.1" fill="#ffa585"/>
<text x="606.4" y="463.42" font-size="5.6" fill="#222">p_Fusobacteriota</text>
<circle cx="600.5" cy="477.54" r="4.1" fill="#00bbff"/>
<text x="606.4" y="479.54" font-size="5.6" fill="#222">p_Cyanobacteriota</text>
<circle cx="600.5" cy="493.66" r="4.1" fill="#c2bf6e"/>
<text x="606.4" y="495.66" font-size="5.6" fill="#222">p_Mycoplasmatota</text>
<circle cx="600.5" cy="509.78" r="4.1" fill="#00e3f8"/>
<text x="606.4" y="511.78" font-size="5.6" fill="#222">p_Actinomycetota</text>
<circle cx="600.5" cy="525.9" r="4.1" fill="#4f6a12"/>
<text x="606.4" y="527.9" font-size="5.6" fill="#222">p_Bacteroidota</text>
<circle cx="600.5" cy="542.02" r="4.1" fill="#b4bfd6"/>
<text x="606.4" y="544.02" font-size="5.6" fill="#222">p_Aquificota</text>
<circle cx="600.5" cy="558.14" r="4.1" fill="#c2600f"/>
<text x="606.4" y="560.14" font-size="5.6" fill="#222">p_Bdellovibrionota</text>
<circle cx="600.5" cy="574.26" r="4.1" fill="#1892ba"/>
<text x="606.4" y="576.26" font-size="5.6" fill="#222">p_Caldisericota</text>
<circle cx="600.5" cy="590.38" r="4.1" fill="#06cc62"/>
<text x="606.4" y="592.38" font-size="5.6" fill="#222">p_Thermodesulfobacteriota</text>
<circle cx="600.5" cy="606.5" r="4.1" fill="#96285a"/>
<text x="606.4" y="608.5" font-size="5.6" fill="#222">p_Thermotogota</text>
<circle cx="600.5" cy="622.62" r="4.1" fill="#ff7bff"/>
<text x="606.4" y="624.62" font-size="5.6" fill="#222">p_Spirochaetota</text>
<rect x="265.1" y="644.2" width="321.3" height="40.3" rx="5" fill="none" stroke="#4a8fe8" stroke-width="0.9"/>
<text x="279.5" y="668.3" font-size="6.5" font-weight="bold" fill="#111">KEGG pathway</text>
<circle cx="342.1" cy="656.9" r="4.1" fill="#2f3f7e"/>
<text x="349.7" y="658.9" font-size="5.55" fill="#222">Cellular Processes</text>
<circle cx="405.3" cy="656.9" r="4.1" fill="#0b5a45"/>
<text x="412.9" y="658.9" font-size="5.55" fill="#222">Human Diseases</text>
<circle cx="474.3" cy="656.9" r="4.1" fill="#f0475f"/>
<text x="481.9" y="658.9" font-size="5.55" fill="#222">Genetic Information Processing</text>
<circle cx="342.1" cy="673.1" r="4.1" fill="#ff8000"/>
<text x="349.7" y="675.1" font-size="5.55" fill="#222">Metabolism</text>
<circle cx="405.3" cy="673.1" r="4.1" fill="#1fd3c3"/>
<text x="412.9" y="675.1" font-size="5.55" fill="#222">Organismal Systems</text>
<circle cx="474.3" cy="673.1" r="4.1" fill="#4f3820"/>
<text x="481.9" y="675.1" font-size="5.55" fill="#222">Environmental Information Processing</text>
<rect x="594.4" y="644.3" width="82.2" height="41.3" rx="3" fill="none" stroke="#e040e0" stroke-width="0.9"/>
<text x="637.6" y="653.4" font-size="6.5" text-anchor="middle" font-weight="bold" fill="#111">Network topology</text>
<text x="604.6" y="661.5" font-size="5.45" fill="#222">Nodes: 186</text>
<text x="604.6" y="668" font-size="5.45" fill="#222">Edges: 304</text>
<text x="604.6" y="674.5" font-size="5.45" fill="#222">Average degree: 3.269</text>
<text x="604.6" y="681" font-size="5.45" fill="#222">Modularity index : 0.591</text>
</svg></body></html>
